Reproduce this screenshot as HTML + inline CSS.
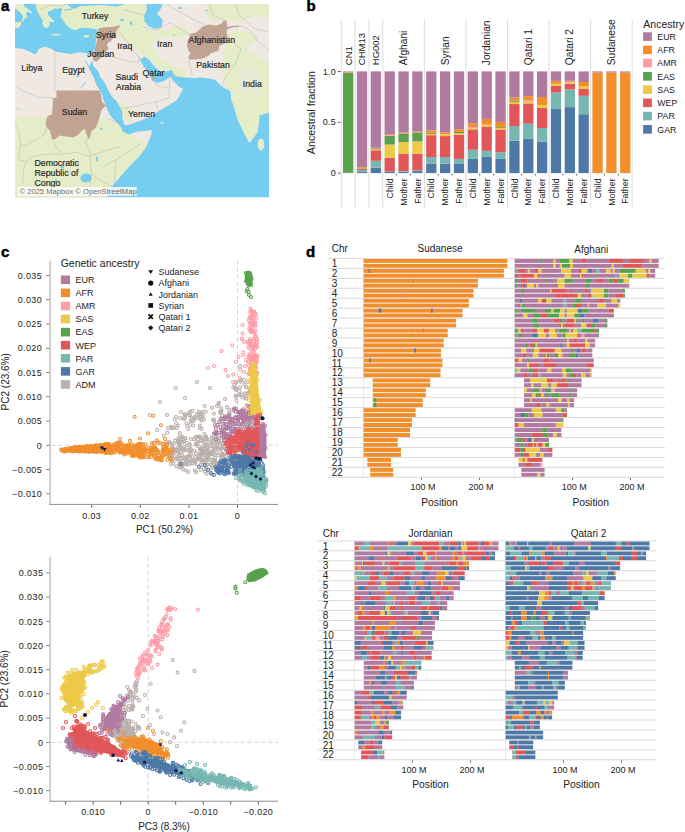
<!DOCTYPE html>
<html><head><meta charset="utf-8"><style>
html,body{margin:0;padding:0;background:#fff;}
svg{display:block;}
text{font-family:"Liberation Sans", sans-serif;}
</style></head><body>
<svg width="685" height="832" viewBox="0 0 685 832">
<rect width="685" height="832" fill="#fff"/>
<text x="1" y="11.2" font-size="15" text-anchor="start" font-weight="bold" fill="#000" stroke="#000" stroke-width="0.5">a</text>
<text x="306.5" y="10.8" font-size="15" text-anchor="start" font-weight="bold" fill="#000" stroke="#000" stroke-width="0.5">b</text>
<text x="1" y="256.5" font-size="15" text-anchor="start" font-weight="bold" fill="#000" stroke="#000" stroke-width="0.5">c</text>
<text x="306" y="256.5" font-size="15" text-anchor="start" font-weight="bold" fill="#000" stroke="#000" stroke-width="0.5">d</text>
<g id="panelb">
<rect x="340.72" y="19.5" width="1" height="188" fill="#dcdcdc"/>
<rect x="354.58" y="19.5" width="1" height="188" fill="#dcdcdc"/>
<rect x="368.43" y="19.5" width="1" height="188" fill="#dcdcdc"/>
<rect x="382.29" y="19.5" width="1" height="188" fill="#dcdcdc"/>
<rect x="423.85" y="19.5" width="1" height="188" fill="#dcdcdc"/>
<rect x="465.42" y="19.5" width="1" height="188" fill="#dcdcdc"/>
<rect x="506.98" y="19.5" width="1" height="188" fill="#dcdcdc"/>
<rect x="548.55" y="19.5" width="1" height="188" fill="#dcdcdc"/>
<rect x="590.11" y="19.5" width="1" height="188" fill="#dcdcdc"/>
<rect x="631.68" y="19.5" width="1" height="188" fill="#dcdcdc"/>
<rect x="343" y="172.79" width="10.3" height="0.33" fill="#E15759"/>
<rect x="343" y="72.62" width="10.3" height="100.19" fill="#59A14F"/>
<rect x="343" y="72.42" width="10.3" height="0.22" fill="#FF9DA7"/>
<rect x="343" y="71.91" width="10.3" height="0.53" fill="#F28E2B"/>
<rect x="343" y="71.4" width="10.3" height="0.53" fill="#B07AA1"/>
<rect x="356.86" y="172.08" width="10.3" height="1.04" fill="#4E79A7"/>
<rect x="356.86" y="170.05" width="10.3" height="2.05" fill="#76B7B2"/>
<rect x="356.86" y="169.03" width="10.3" height="1.04" fill="#E15759"/>
<rect x="356.86" y="168.42" width="10.3" height="0.63" fill="#EDC948"/>
<rect x="356.86" y="167.61" width="10.3" height="0.83" fill="#59A14F"/>
<rect x="356.86" y="167" width="10.3" height="0.63" fill="#F28E2B"/>
<rect x="356.86" y="71.4" width="10.3" height="95.62" fill="#B07AA1"/>
<rect x="370.71" y="167.81" width="10.3" height="5.31" fill="#4E79A7"/>
<rect x="370.71" y="160.79" width="10.3" height="7.04" fill="#76B7B2"/>
<rect x="370.71" y="150.32" width="10.3" height="10.5" fill="#E15759"/>
<rect x="370.71" y="149.51" width="10.3" height="0.83" fill="#EDC948"/>
<rect x="370.71" y="148.69" width="10.3" height="0.83" fill="#59A14F"/>
<rect x="370.71" y="147.88" width="10.3" height="0.83" fill="#F28E2B"/>
<rect x="370.71" y="71.4" width="10.3" height="76.5" fill="#B07AA1"/>
<rect x="384.56" y="171.57" width="10.3" height="1.55" fill="#4E79A7"/>
<rect x="384.56" y="157.84" width="10.3" height="13.75" fill="#E15759"/>
<rect x="384.56" y="144.52" width="10.3" height="13.34" fill="#EDC948"/>
<rect x="384.56" y="135.98" width="10.3" height="8.56" fill="#59A14F"/>
<rect x="384.56" y="135.27" width="10.3" height="0.73" fill="#FF9DA7"/>
<rect x="384.56" y="134.45" width="10.3" height="0.83" fill="#F28E2B"/>
<rect x="384.56" y="71.4" width="10.3" height="63.07" fill="#B07AA1"/>
<rect x="398.42" y="171.68" width="10.3" height="1.44" fill="#4E79A7"/>
<rect x="398.42" y="171.07" width="10.3" height="0.63" fill="#76B7B2"/>
<rect x="398.42" y="153.98" width="10.3" height="17.11" fill="#E15759"/>
<rect x="398.42" y="141.98" width="10.3" height="12.02" fill="#EDC948"/>
<rect x="398.42" y="133.64" width="10.3" height="8.36" fill="#59A14F"/>
<rect x="398.42" y="132.52" width="10.3" height="1.14" fill="#F28E2B"/>
<rect x="398.42" y="71.4" width="10.3" height="61.14" fill="#B07AA1"/>
<rect x="412.27" y="171.07" width="10.3" height="2.05" fill="#4E79A7"/>
<rect x="412.27" y="170.25" width="10.3" height="0.83" fill="#76B7B2"/>
<rect x="412.27" y="153.68" width="10.3" height="16.6" fill="#E15759"/>
<rect x="412.27" y="141.37" width="10.3" height="12.33" fill="#EDC948"/>
<rect x="412.27" y="132.62" width="10.3" height="8.77" fill="#59A14F"/>
<rect x="412.27" y="131.61" width="10.3" height="1.04" fill="#F28E2B"/>
<rect x="412.27" y="71.4" width="10.3" height="60.23" fill="#B07AA1"/>
<rect x="426.13" y="163.64" width="10.3" height="9.48" fill="#4E79A7"/>
<rect x="426.13" y="157.03" width="10.3" height="6.63" fill="#76B7B2"/>
<rect x="426.13" y="135.17" width="10.3" height="21.89" fill="#E15759"/>
<rect x="426.13" y="133.84" width="10.3" height="1.34" fill="#EDC948"/>
<rect x="426.13" y="132.83" width="10.3" height="1.04" fill="#59A14F"/>
<rect x="426.13" y="130.39" width="10.3" height="2.46" fill="#F28E2B"/>
<rect x="426.13" y="71.4" width="10.3" height="59.01" fill="#B07AA1"/>
<rect x="439.99" y="163.64" width="10.3" height="9.48" fill="#4E79A7"/>
<rect x="439.99" y="157.03" width="10.3" height="6.63" fill="#76B7B2"/>
<rect x="439.99" y="136.08" width="10.3" height="20.97" fill="#E15759"/>
<rect x="439.99" y="134.15" width="10.3" height="1.95" fill="#EDC948"/>
<rect x="439.99" y="132.22" width="10.3" height="1.95" fill="#F28E2B"/>
<rect x="439.99" y="71.4" width="10.3" height="60.84" fill="#B07AA1"/>
<rect x="453.84" y="163.95" width="10.3" height="9.17" fill="#4E79A7"/>
<rect x="453.84" y="158.86" width="10.3" height="5.1" fill="#76B7B2"/>
<rect x="453.84" y="134.56" width="10.3" height="24.33" fill="#E15759"/>
<rect x="453.84" y="133.23" width="10.3" height="1.34" fill="#EDC948"/>
<rect x="453.84" y="132.01" width="10.3" height="1.24" fill="#59A14F"/>
<rect x="453.84" y="129.17" width="10.3" height="2.87" fill="#F28E2B"/>
<rect x="453.84" y="71.4" width="10.3" height="57.79" fill="#B07AA1"/>
<rect x="467.69" y="158.86" width="10.3" height="14.26" fill="#4E79A7"/>
<rect x="467.69" y="149.71" width="10.3" height="9.17" fill="#76B7B2"/>
<rect x="467.69" y="129.37" width="10.3" height="20.36" fill="#E15759"/>
<rect x="467.69" y="128.15" width="10.3" height="1.24" fill="#EDC948"/>
<rect x="467.69" y="126.93" width="10.3" height="1.24" fill="#FF9DA7"/>
<rect x="467.69" y="123.17" width="10.3" height="3.78" fill="#F28E2B"/>
<rect x="467.69" y="71.4" width="10.3" height="51.79" fill="#B07AA1"/>
<rect x="481.55" y="156.93" width="10.3" height="16.19" fill="#4E79A7"/>
<rect x="481.55" y="150.83" width="10.3" height="6.12" fill="#76B7B2"/>
<rect x="481.55" y="126.52" width="10.3" height="24.33" fill="#E15759"/>
<rect x="481.55" y="124.59" width="10.3" height="1.95" fill="#EDC948"/>
<rect x="481.55" y="118.89" width="10.3" height="5.72" fill="#F28E2B"/>
<rect x="481.55" y="71.4" width="10.3" height="47.51" fill="#B07AA1"/>
<rect x="495.4" y="158.86" width="10.3" height="14.26" fill="#4E79A7"/>
<rect x="495.4" y="152.25" width="10.3" height="6.63" fill="#76B7B2"/>
<rect x="495.4" y="129.47" width="10.3" height="22.8" fill="#E15759"/>
<rect x="495.4" y="127.84" width="10.3" height="1.65" fill="#EDC948"/>
<rect x="495.4" y="127.03" width="10.3" height="0.83" fill="#59A14F"/>
<rect x="495.4" y="121.94" width="10.3" height="5.1" fill="#F28E2B"/>
<rect x="495.4" y="71.4" width="10.3" height="50.56" fill="#B07AA1"/>
<rect x="509.26" y="140.76" width="10.3" height="32.36" fill="#4E79A7"/>
<rect x="509.26" y="126.11" width="10.3" height="14.66" fill="#76B7B2"/>
<rect x="509.26" y="104.05" width="10.3" height="22.09" fill="#E15759"/>
<rect x="509.26" y="101.81" width="10.3" height="2.26" fill="#EDC948"/>
<rect x="509.26" y="100.79" width="10.3" height="1.04" fill="#59A14F"/>
<rect x="509.26" y="97.54" width="10.3" height="3.27" fill="#F28E2B"/>
<rect x="509.26" y="71.4" width="10.3" height="26.16" fill="#B07AA1"/>
<rect x="523.12" y="138.93" width="10.3" height="34.19" fill="#4E79A7"/>
<rect x="523.12" y="123.67" width="10.3" height="15.27" fill="#76B7B2"/>
<rect x="523.12" y="103.33" width="10.3" height="20.36" fill="#E15759"/>
<rect x="523.12" y="101.81" width="10.3" height="1.55" fill="#EDC948"/>
<rect x="523.12" y="100.28" width="10.3" height="1.55" fill="#FF9DA7"/>
<rect x="523.12" y="96.11" width="10.3" height="4.19" fill="#F28E2B"/>
<rect x="523.12" y="71.4" width="10.3" height="24.73" fill="#B07AA1"/>
<rect x="536.97" y="141.78" width="10.3" height="31.34" fill="#4E79A7"/>
<rect x="536.97" y="128.05" width="10.3" height="13.75" fill="#76B7B2"/>
<rect x="536.97" y="107.91" width="10.3" height="20.16" fill="#E15759"/>
<rect x="536.97" y="105.06" width="10.3" height="2.87" fill="#EDC948"/>
<rect x="536.97" y="97.03" width="10.3" height="8.05" fill="#F28E2B"/>
<rect x="536.97" y="71.4" width="10.3" height="25.65" fill="#B07AA1"/>
<rect x="550.83" y="108.42" width="10.3" height="64.7" fill="#4E79A7"/>
<rect x="550.83" y="92.25" width="10.3" height="16.19" fill="#76B7B2"/>
<rect x="550.83" y="85.64" width="10.3" height="6.63" fill="#E15759"/>
<rect x="550.83" y="83.71" width="10.3" height="1.95" fill="#EDC948"/>
<rect x="550.83" y="80.86" width="10.3" height="2.87" fill="#F28E2B"/>
<rect x="550.83" y="71.4" width="10.3" height="9.48" fill="#B07AA1"/>
<rect x="564.68" y="107.1" width="10.3" height="66.02" fill="#4E79A7"/>
<rect x="564.68" y="89.4" width="10.3" height="17.72" fill="#76B7B2"/>
<rect x="564.68" y="83.71" width="10.3" height="5.72" fill="#E15759"/>
<rect x="564.68" y="82.69" width="10.3" height="1.04" fill="#EDC948"/>
<rect x="564.68" y="81.77" width="10.3" height="0.94" fill="#FF9DA7"/>
<rect x="564.68" y="80.76" width="10.3" height="1.04" fill="#F28E2B"/>
<rect x="564.68" y="71.4" width="10.3" height="9.38" fill="#B07AA1"/>
<rect x="578.53" y="114.22" width="10.3" height="58.9" fill="#4E79A7"/>
<rect x="578.53" y="95.81" width="10.3" height="18.43" fill="#76B7B2"/>
<rect x="578.53" y="88.99" width="10.3" height="6.83" fill="#E15759"/>
<rect x="578.53" y="86.35" width="10.3" height="2.66" fill="#EDC948"/>
<rect x="578.53" y="81.98" width="10.3" height="4.39" fill="#F28E2B"/>
<rect x="578.53" y="71.4" width="10.3" height="10.6" fill="#B07AA1"/>
<rect x="592.39" y="72.42" width="10.3" height="100.7" fill="#F28E2B"/>
<rect x="592.39" y="71.4" width="10.3" height="1.04" fill="#B07AA1"/>
<rect x="606.25" y="72.42" width="10.3" height="100.7" fill="#F28E2B"/>
<rect x="606.25" y="71.4" width="10.3" height="1.04" fill="#B07AA1"/>
<rect x="620.1" y="72.42" width="10.3" height="100.7" fill="#F28E2B"/>
<rect x="620.1" y="71.4" width="10.3" height="1.04" fill="#B07AA1"/>
<rect x="396.24" y="173.6" width="0.8" height="2" fill="#555"/>
<rect x="410.1" y="173.6" width="0.8" height="2" fill="#555"/>
<rect x="437.81" y="173.6" width="0.8" height="2" fill="#555"/>
<rect x="451.66" y="173.6" width="0.8" height="2" fill="#555"/>
<rect x="479.37" y="173.6" width="0.8" height="2" fill="#555"/>
<rect x="493.23" y="173.6" width="0.8" height="2" fill="#555"/>
<rect x="520.94" y="173.6" width="0.8" height="2" fill="#555"/>
<rect x="534.79" y="173.6" width="0.8" height="2" fill="#555"/>
<rect x="562.5" y="173.6" width="0.8" height="2" fill="#555"/>
<rect x="576.36" y="173.6" width="0.8" height="2" fill="#555"/>
<rect x="604.07" y="173.6" width="0.8" height="2" fill="#555"/>
<rect x="617.92" y="173.6" width="0.8" height="2" fill="#555"/>
<rect x="337.8" y="71" width="3" height="0.8" fill="#444"/>
<text x="336.1" y="74.6" font-size="9" text-anchor="end" font-weight="normal" fill="#222" letter-spacing="0.3">1.0</text>
<rect x="337.8" y="121.85" width="3" height="0.8" fill="#444"/>
<text x="336.1" y="125.45" font-size="9" text-anchor="end" font-weight="normal" fill="#222" letter-spacing="0.3">0.5</text>
<rect x="337.8" y="172.7" width="3" height="0.8" fill="#444"/>
<text x="336.1" y="176.3" font-size="9" text-anchor="end" font-weight="normal" fill="#222" letter-spacing="0.3">0</text>
<text x="314.8" y="112.6" font-size="10.8" text-anchor="middle" font-weight="normal" fill="#222" transform="rotate(-90 314.8 112.6)">Ancestral fraction</text>
<text x="351.65" y="65.2" font-size="9.5" text-anchor="start" font-weight="normal" fill="#222" transform="rotate(-90 351.65 65.2)">CN1</text>
<text x="365.5" y="65.2" font-size="9.5" text-anchor="start" font-weight="normal" fill="#222" transform="rotate(-90 365.5 65.2)">CHM13</text>
<text x="379.36" y="65.2" font-size="9.5" text-anchor="start" font-weight="normal" fill="#222" transform="rotate(-90 379.36 65.2)">HG002</text>
<text x="407.07" y="65.2" font-size="10.2" text-anchor="start" font-weight="normal" fill="#222" transform="rotate(-90 407.07 65.2)">Afghani</text>
<text x="448.63" y="65.2" font-size="10.2" text-anchor="start" font-weight="normal" fill="#222" transform="rotate(-90 448.63 65.2)">Syrian</text>
<text x="490.2" y="65.2" font-size="10.2" text-anchor="start" font-weight="normal" fill="#222" transform="rotate(-90 490.2 65.2)">Jordanian</text>
<text x="531.76" y="65.2" font-size="10.2" text-anchor="start" font-weight="normal" fill="#222" transform="rotate(-90 531.76 65.2)">Qatari 1</text>
<text x="573.33" y="65.2" font-size="10.2" text-anchor="start" font-weight="normal" fill="#222" transform="rotate(-90 573.33 65.2)">Qatari 2</text>
<text x="614.89" y="65.2" font-size="10.2" text-anchor="start" font-weight="normal" fill="#222" transform="rotate(-90 614.89 65.2)">Sudanese</text>
<text x="392.91" y="178.4" font-size="8.8" text-anchor="end" font-weight="normal" fill="#222" transform="rotate(-90 392.91 178.4)">Child</text>
<text x="406.77" y="178.4" font-size="8.8" text-anchor="end" font-weight="normal" fill="#222" transform="rotate(-90 406.77 178.4)">Mother</text>
<text x="420.62" y="178.4" font-size="8.8" text-anchor="end" font-weight="normal" fill="#222" transform="rotate(-90 420.62 178.4)">Father</text>
<text x="434.48" y="178.4" font-size="8.8" text-anchor="end" font-weight="normal" fill="#222" transform="rotate(-90 434.48 178.4)">Child</text>
<text x="448.33" y="178.4" font-size="8.8" text-anchor="end" font-weight="normal" fill="#222" transform="rotate(-90 448.33 178.4)">Mother</text>
<text x="462.19" y="178.4" font-size="8.8" text-anchor="end" font-weight="normal" fill="#222" transform="rotate(-90 462.19 178.4)">Father</text>
<text x="476.04" y="178.4" font-size="8.8" text-anchor="end" font-weight="normal" fill="#222" transform="rotate(-90 476.04 178.4)">Child</text>
<text x="489.9" y="178.4" font-size="8.8" text-anchor="end" font-weight="normal" fill="#222" transform="rotate(-90 489.9 178.4)">Mother</text>
<text x="503.75" y="178.4" font-size="8.8" text-anchor="end" font-weight="normal" fill="#222" transform="rotate(-90 503.75 178.4)">Father</text>
<text x="517.61" y="178.4" font-size="8.8" text-anchor="end" font-weight="normal" fill="#222" transform="rotate(-90 517.61 178.4)">Child</text>
<text x="531.47" y="178.4" font-size="8.8" text-anchor="end" font-weight="normal" fill="#222" transform="rotate(-90 531.47 178.4)">Mother</text>
<text x="545.32" y="178.4" font-size="8.8" text-anchor="end" font-weight="normal" fill="#222" transform="rotate(-90 545.32 178.4)">Father</text>
<text x="559.18" y="178.4" font-size="8.8" text-anchor="end" font-weight="normal" fill="#222" transform="rotate(-90 559.18 178.4)">Child</text>
<text x="573.03" y="178.4" font-size="8.8" text-anchor="end" font-weight="normal" fill="#222" transform="rotate(-90 573.03 178.4)">Mother</text>
<text x="586.88" y="178.4" font-size="8.8" text-anchor="end" font-weight="normal" fill="#222" transform="rotate(-90 586.88 178.4)">Father</text>
<text x="600.74" y="178.4" font-size="8.8" text-anchor="end" font-weight="normal" fill="#222" transform="rotate(-90 600.74 178.4)">Child</text>
<text x="614.6" y="178.4" font-size="8.8" text-anchor="end" font-weight="normal" fill="#222" transform="rotate(-90 614.6 178.4)">Mother</text>
<text x="628.45" y="178.4" font-size="8.8" text-anchor="end" font-weight="normal" fill="#222" transform="rotate(-90 628.45 178.4)">Father</text>
<text x="643.3" y="27.6" font-size="10.5" text-anchor="start" font-weight="normal" fill="#222">Ancestry</text>
<rect x="643.1" y="32.3" width="8.8" height="8.6" fill="#B07AA1"/>
<text x="657.3" y="39.9" font-size="8.8" text-anchor="start" font-weight="normal" fill="#222">EUR</text>
<rect x="643.1" y="45.55" width="8.8" height="8.6" fill="#F28E2B"/>
<text x="657.3" y="53.15" font-size="8.8" text-anchor="start" font-weight="normal" fill="#222">AFR</text>
<rect x="643.1" y="58.8" width="8.8" height="8.6" fill="#FF9DA7"/>
<text x="657.3" y="66.4" font-size="8.8" text-anchor="start" font-weight="normal" fill="#222">AMR</text>
<rect x="643.1" y="72.05" width="8.8" height="8.6" fill="#59A14F"/>
<text x="657.3" y="79.65" font-size="8.8" text-anchor="start" font-weight="normal" fill="#222">EAS</text>
<rect x="643.1" y="85.3" width="8.8" height="8.6" fill="#EDC948"/>
<text x="657.3" y="92.9" font-size="8.8" text-anchor="start" font-weight="normal" fill="#222">SAS</text>
<rect x="643.1" y="98.55" width="8.8" height="8.6" fill="#E15759"/>
<text x="657.3" y="106.15" font-size="8.8" text-anchor="start" font-weight="normal" fill="#222">WEP</text>
<rect x="643.1" y="111.8" width="8.8" height="8.6" fill="#76B7B2"/>
<text x="657.3" y="119.4" font-size="8.8" text-anchor="start" font-weight="normal" fill="#222">PAR</text>
<rect x="643.1" y="125.05" width="8.8" height="8.6" fill="#4E79A7"/>
<text x="657.3" y="132.65" font-size="8.8" text-anchor="start" font-weight="normal" fill="#222">GAR</text>
</g>
<text x="331.8" y="252.3" font-size="10" text-anchor="start" font-weight="normal" fill="#222">Chr</text>
<text x="440" y="252.3" font-size="10" text-anchor="middle" font-weight="normal" fill="#222">Sudanese</text>
<text x="591.3" y="252.8" font-size="10" text-anchor="middle" font-weight="normal" fill="#222">Afghani</text>
<g>
<rect x="363.5" y="258.9" width="143.89" height="4" fill="#F28E2B"/>
<rect x="363.5" y="263.8" width="143.89" height="4" fill="#F28E2B"/>
<rect x="363.5" y="268.85" width="140.35" height="4" fill="#F28E2B"/>
<rect x="363.5" y="273.75" width="140.35" height="4" fill="#F28E2B"/>
<rect x="363.5" y="278.8" width="114.45" height="4" fill="#F28E2B"/>
<rect x="363.5" y="283.7" width="114.45" height="4" fill="#F28E2B"/>
<rect x="363.5" y="288.75" width="110.11" height="4" fill="#F28E2B"/>
<rect x="363.5" y="293.65" width="110.11" height="4" fill="#F28E2B"/>
<rect x="363.5" y="298.7" width="105.35" height="4" fill="#F28E2B"/>
<rect x="363.5" y="303.6" width="105.35" height="4" fill="#F28E2B"/>
<rect x="363.5" y="308.65" width="98.98" height="4" fill="#F28E2B"/>
<rect x="363.5" y="313.55" width="98.98" height="4" fill="#F28E2B"/>
<rect x="363.5" y="318.6" width="92.55" height="4" fill="#F28E2B"/>
<rect x="363.5" y="323.5" width="92.55" height="4" fill="#F28E2B"/>
<rect x="363.5" y="328.55" width="84.26" height="4" fill="#F28E2B"/>
<rect x="363.5" y="333.45" width="84.26" height="4" fill="#F28E2B"/>
<rect x="363.5" y="338.5" width="80.26" height="4" fill="#F28E2B"/>
<rect x="363.5" y="343.4" width="80.26" height="4" fill="#F28E2B"/>
<rect x="363.5" y="348.45" width="77.48" height="4" fill="#F28E2B"/>
<rect x="363.5" y="353.35" width="77.48" height="4" fill="#F28E2B"/>
<rect x="363.5" y="358.4" width="78.87" height="4" fill="#F28E2B"/>
<rect x="363.5" y="363.3" width="78.87" height="4" fill="#F28E2B"/>
<rect x="363.5" y="368.35" width="77.07" height="4" fill="#F28E2B"/>
<rect x="363.5" y="373.25" width="77.07" height="4" fill="#F28E2B"/>
<rect x="372.77" y="378.3" width="57.43" height="4" fill="#F28E2B"/>
<rect x="372.77" y="383.2" width="57.43" height="4" fill="#F28E2B"/>
<rect x="372.77" y="388.25" width="53.02" height="4" fill="#F28E2B"/>
<rect x="372.77" y="393.15" width="53.02" height="4" fill="#F28E2B"/>
<rect x="372.77" y="398.2" width="49.95" height="4" fill="#F28E2B"/>
<rect x="372.77" y="403.1" width="49.95" height="4" fill="#F28E2B"/>
<rect x="363.5" y="408.15" width="52.1" height="4" fill="#F28E2B"/>
<rect x="363.5" y="413.05" width="52.1" height="4" fill="#F28E2B"/>
<rect x="363.5" y="418.1" width="48.5" height="4" fill="#F28E2B"/>
<rect x="363.5" y="423" width="48.5" height="4" fill="#F28E2B"/>
<rect x="363.5" y="428.05" width="46.48" height="4" fill="#F28E2B"/>
<rect x="363.5" y="432.95" width="46.48" height="4" fill="#F28E2B"/>
<rect x="363.5" y="438" width="34.19" height="4" fill="#F28E2B"/>
<rect x="363.5" y="442.9" width="34.19" height="4" fill="#F28E2B"/>
<rect x="363.5" y="447.95" width="37.49" height="4" fill="#F28E2B"/>
<rect x="363.5" y="452.85" width="37.49" height="4" fill="#F28E2B"/>
<rect x="367.27" y="457.9" width="23.76" height="4" fill="#F28E2B"/>
<rect x="367.27" y="462.8" width="23.76" height="4" fill="#F28E2B"/>
<rect x="370.16" y="467.85" width="23.06" height="4" fill="#F28E2B"/>
<rect x="370.16" y="472.75" width="23.06" height="4" fill="#F28E2B"/>
<rect x="327" y="257.95" width="187" height="0.9" fill="#d6d6d6"/>
<rect x="327" y="267.9" width="187" height="0.9" fill="#d6d6d6"/>
<rect x="327" y="277.85" width="187" height="0.9" fill="#d6d6d6"/>
<rect x="327" y="287.8" width="187" height="0.9" fill="#d6d6d6"/>
<rect x="327" y="297.75" width="187" height="0.9" fill="#d6d6d6"/>
<rect x="327" y="307.7" width="187" height="0.9" fill="#d6d6d6"/>
<rect x="327" y="317.65" width="187" height="0.9" fill="#d6d6d6"/>
<rect x="327" y="327.6" width="187" height="0.9" fill="#d6d6d6"/>
<rect x="327" y="337.55" width="187" height="0.9" fill="#d6d6d6"/>
<rect x="327" y="347.5" width="187" height="0.9" fill="#d6d6d6"/>
<rect x="327" y="357.45" width="187" height="0.9" fill="#d6d6d6"/>
<rect x="327" y="367.4" width="187" height="0.9" fill="#d6d6d6"/>
<rect x="327" y="377.35" width="187" height="0.9" fill="#d6d6d6"/>
<rect x="327" y="387.3" width="187" height="0.9" fill="#d6d6d6"/>
<rect x="327" y="397.25" width="187" height="0.9" fill="#d6d6d6"/>
<rect x="327" y="407.2" width="187" height="0.9" fill="#d6d6d6"/>
<rect x="327" y="417.15" width="187" height="0.9" fill="#d6d6d6"/>
<rect x="327" y="427.1" width="187" height="0.9" fill="#d6d6d6"/>
<rect x="327" y="437.05" width="187" height="0.9" fill="#d6d6d6"/>
<rect x="327" y="447" width="187" height="0.9" fill="#d6d6d6"/>
<rect x="327" y="456.95" width="187" height="0.9" fill="#d6d6d6"/>
<rect x="327" y="466.9" width="187" height="0.9" fill="#d6d6d6"/>
<rect x="327" y="476.85" width="187" height="0.9" fill="#d6d6d6"/>
<line x1="363.5" y1="258.4" x2="363.5" y2="477.3" stroke="#bbb" stroke-width="0.6" stroke-dasharray="1,1"/>
</g>
<rect x="368.65" y="268.85" width="1.3" height="4" fill="#4E79A7" opacity="1"/>
<rect x="412.8" y="278.8" width="1.2" height="4" fill="#E15759" opacity="0.55"/>
<rect x="402.1" y="293.65" width="1" height="4" fill="#B07AA1" opacity="0.55"/>
<rect x="378.6" y="308.65" width="2.6" height="4" fill="#4E79A7" opacity="1"/>
<rect x="430.9" y="308.65" width="1.8" height="4" fill="#4E79A7" opacity="1"/>
<rect x="423.1" y="328.55" width="1" height="4" fill="#E15759" opacity="0.55"/>
<rect x="412.6" y="333.45" width="1" height="4" fill="#59A14F" opacity="0.55"/>
<rect x="414.1" y="348.45" width="1.6" height="4" fill="#4E79A7" opacity="1"/>
<rect x="369.1" y="358.4" width="1.6" height="4" fill="#4E79A7" opacity="1"/>
<rect x="373.4" y="398.2" width="3" height="4" fill="#59A14F" opacity="1"/>
<rect x="373.4" y="403.1" width="3" height="4" fill="#59A14F" opacity="1"/>
<g>
<rect x="514.7" y="258.9" width="24.82" height="4" fill="#B07AA1"/>
<rect x="539.37" y="258.9" width="2.34" height="4" fill="#59A14F"/>
<rect x="541.56" y="258.9" width="1.24" height="4" fill="#4E79A7"/>
<rect x="542.65" y="258.9" width="11.1" height="4" fill="#B07AA1"/>
<rect x="553.6" y="258.9" width="2.34" height="4" fill="#EDC948"/>
<rect x="555.79" y="258.9" width="4.09" height="4" fill="#B07AA1"/>
<rect x="559.73" y="258.9" width="9.78" height="4" fill="#59A14F"/>
<rect x="569.37" y="258.9" width="3.65" height="4" fill="#EDC948"/>
<rect x="572.87" y="258.9" width="8.91" height="4" fill="#B07AA1"/>
<rect x="581.63" y="258.9" width="4.97" height="4" fill="#E15759"/>
<rect x="586.45" y="258.9" width="22.48" height="4" fill="#B07AA1"/>
<rect x="608.78" y="258.9" width="15.04" height="4" fill="#E15759"/>
<rect x="623.67" y="258.9" width="5.62" height="4" fill="#B07AA1"/>
<rect x="629.14" y="258.9" width="14.82" height="4" fill="#E15759"/>
<rect x="643.82" y="258.9" width="5.84" height="4" fill="#B07AA1"/>
<rect x="649.51" y="258.9" width="2.34" height="4" fill="#EDC948"/>
<rect x="651.7" y="258.9" width="7.04" height="4" fill="#B07AA1"/>
<rect x="514.7" y="263.8" width="38.61" height="4" fill="#B07AA1"/>
<rect x="553.16" y="263.8" width="2.78" height="4" fill="#EDC948"/>
<rect x="555.79" y="263.8" width="4.09" height="4" fill="#B07AA1"/>
<rect x="559.73" y="263.8" width="2.34" height="4" fill="#EDC948"/>
<rect x="561.92" y="263.8" width="8.25" height="4" fill="#59A14F"/>
<rect x="570.02" y="263.8" width="3" height="4" fill="#EDC948"/>
<rect x="572.87" y="263.8" width="38.91" height="4" fill="#B07AA1"/>
<rect x="611.63" y="263.8" width="2.34" height="4" fill="#EDC948"/>
<rect x="613.82" y="263.8" width="8.91" height="4" fill="#B07AA1"/>
<rect x="622.58" y="263.8" width="19.86" height="4" fill="#E15759"/>
<rect x="642.28" y="263.8" width="16.46" height="4" fill="#B07AA1"/>
<rect x="514.7" y="268.85" width="2.92" height="4" fill="#B07AA1"/>
<rect x="517.47" y="268.85" width="1.24" height="4" fill="#59A14F"/>
<rect x="518.57" y="268.85" width="6.72" height="4" fill="#E15759"/>
<rect x="525.14" y="268.85" width="2.78" height="4" fill="#B07AA1"/>
<rect x="527.77" y="268.85" width="2.34" height="4" fill="#EDC948"/>
<rect x="529.95" y="268.85" width="5.19" height="4" fill="#B07AA1"/>
<rect x="534.99" y="268.85" width="3.43" height="4" fill="#E15759"/>
<rect x="538.28" y="268.85" width="3.43" height="4" fill="#EDC948"/>
<rect x="541.56" y="268.85" width="19.86" height="4" fill="#B07AA1"/>
<rect x="561.27" y="268.85" width="10" height="4" fill="#EDC948"/>
<rect x="571.12" y="268.85" width="7.81" height="4" fill="#B07AA1"/>
<rect x="578.78" y="268.85" width="3" height="4" fill="#E15759"/>
<rect x="581.63" y="268.85" width="5.41" height="4" fill="#EDC948"/>
<rect x="586.89" y="268.85" width="1.9" height="4" fill="#B07AA1"/>
<rect x="588.64" y="268.85" width="3.43" height="4" fill="#4E79A7"/>
<rect x="591.92" y="268.85" width="4.53" height="4" fill="#B07AA1"/>
<rect x="596.3" y="268.85" width="3.43" height="4" fill="#76B7B2"/>
<rect x="599.58" y="268.85" width="6.72" height="4" fill="#B07AA1"/>
<rect x="606.15" y="268.85" width="4.53" height="4" fill="#EDC948"/>
<rect x="610.53" y="268.85" width="2.34" height="4" fill="#B07AA1"/>
<rect x="612.72" y="268.85" width="2.34" height="4" fill="#EDC948"/>
<rect x="614.91" y="268.85" width="4.97" height="4" fill="#B07AA1"/>
<rect x="619.73" y="268.85" width="16.13" height="4" fill="#59A14F"/>
<rect x="635.71" y="268.85" width="10.44" height="4" fill="#EDC948"/>
<rect x="646" y="268.85" width="2.34" height="4" fill="#B07AA1"/>
<rect x="648.19" y="268.85" width="2.34" height="4" fill="#EDC948"/>
<rect x="650.38" y="268.85" width="4.82" height="4" fill="#B07AA1"/>
<rect x="514.7" y="273.75" width="4.02" height="4" fill="#E15759"/>
<rect x="518.57" y="273.75" width="2.34" height="4" fill="#B07AA1"/>
<rect x="520.76" y="273.75" width="13.29" height="4" fill="#E15759"/>
<rect x="533.9" y="273.75" width="3.43" height="4" fill="#EDC948"/>
<rect x="537.18" y="273.75" width="1.24" height="4" fill="#B07AA1"/>
<rect x="538.28" y="273.75" width="2.34" height="4" fill="#E15759"/>
<rect x="540.47" y="273.75" width="24.24" height="4" fill="#B07AA1"/>
<rect x="564.55" y="273.75" width="6.72" height="4" fill="#EDC948"/>
<rect x="571.12" y="273.75" width="8.91" height="4" fill="#B07AA1"/>
<rect x="579.88" y="273.75" width="1.9" height="4" fill="#EDC948"/>
<rect x="581.63" y="273.75" width="1.68" height="4" fill="#E15759"/>
<rect x="583.16" y="273.75" width="12.19" height="4" fill="#B07AA1"/>
<rect x="595.21" y="273.75" width="2.34" height="4" fill="#59A14F"/>
<rect x="597.4" y="273.75" width="17.67" height="4" fill="#B07AA1"/>
<rect x="614.91" y="273.75" width="2.34" height="4" fill="#76B7B2"/>
<rect x="617.1" y="273.75" width="2.34" height="4" fill="#B07AA1"/>
<rect x="619.29" y="273.75" width="8.91" height="4" fill="#EDC948"/>
<rect x="628.05" y="273.75" width="4.53" height="4" fill="#59A14F"/>
<rect x="632.43" y="273.75" width="14.38" height="4" fill="#EDC948"/>
<rect x="646.66" y="273.75" width="3" height="4" fill="#E15759"/>
<rect x="649.51" y="273.75" width="5.7" height="4" fill="#B07AA1"/>
<rect x="514.7" y="278.8" width="2.27" height="4" fill="#59A14F"/>
<rect x="516.82" y="278.8" width="4.09" height="4" fill="#B07AA1"/>
<rect x="520.76" y="278.8" width="6.72" height="4" fill="#E15759"/>
<rect x="527.33" y="278.8" width="18.76" height="4" fill="#B07AA1"/>
<rect x="545.94" y="278.8" width="1.24" height="4" fill="#59A14F"/>
<rect x="547.03" y="278.8" width="10" height="4" fill="#B07AA1"/>
<rect x="556.89" y="278.8" width="7.81" height="4" fill="#EDC948"/>
<rect x="564.55" y="278.8" width="8.91" height="4" fill="#59A14F"/>
<rect x="573.31" y="278.8" width="12.19" height="4" fill="#B07AA1"/>
<rect x="585.35" y="278.8" width="5.62" height="4" fill="#59A14F"/>
<rect x="590.83" y="278.8" width="6.28" height="4" fill="#B07AA1"/>
<rect x="596.96" y="278.8" width="6.06" height="4" fill="#E15759"/>
<rect x="602.87" y="278.8" width="5.62" height="4" fill="#B07AA1"/>
<rect x="608.34" y="278.8" width="4.53" height="4" fill="#59A14F"/>
<rect x="612.72" y="278.8" width="4.53" height="4" fill="#E15759"/>
<rect x="617.1" y="278.8" width="6.72" height="4" fill="#59A14F"/>
<rect x="623.67" y="278.8" width="5.63" height="4" fill="#EDC948"/>
<rect x="514.7" y="283.7" width="2.92" height="4" fill="#59A14F"/>
<rect x="517.47" y="283.7" width="3.43" height="4" fill="#B07AA1"/>
<rect x="520.76" y="283.7" width="3.43" height="4" fill="#E15759"/>
<rect x="524.04" y="283.7" width="1.68" height="4" fill="#4E79A7"/>
<rect x="525.58" y="283.7" width="1.9" height="4" fill="#E15759"/>
<rect x="527.33" y="283.7" width="6.72" height="4" fill="#EDC948"/>
<rect x="533.9" y="283.7" width="2.34" height="4" fill="#B07AA1"/>
<rect x="536.09" y="283.7" width="2.34" height="4" fill="#EDC948"/>
<rect x="538.28" y="283.7" width="19.86" height="4" fill="#B07AA1"/>
<rect x="557.98" y="283.7" width="6.72" height="4" fill="#EDC948"/>
<rect x="564.55" y="283.7" width="20.95" height="4" fill="#B07AA1"/>
<rect x="585.35" y="283.7" width="3.87" height="4" fill="#59A14F"/>
<rect x="589.07" y="283.7" width="40.23" height="4" fill="#B07AA1"/>
<rect x="514.7" y="288.75" width="6.21" height="4" fill="#B07AA1"/>
<rect x="520.76" y="288.75" width="3.43" height="4" fill="#59A14F"/>
<rect x="524.04" y="288.75" width="26.43" height="4" fill="#B07AA1"/>
<rect x="550.32" y="288.75" width="1.24" height="4" fill="#EDC948"/>
<rect x="551.41" y="288.75" width="15.48" height="4" fill="#E15759"/>
<rect x="566.74" y="288.75" width="2.78" height="4" fill="#B07AA1"/>
<rect x="569.37" y="288.75" width="3" height="4" fill="#E15759"/>
<rect x="572.21" y="288.75" width="12.19" height="4" fill="#B07AA1"/>
<rect x="584.26" y="288.75" width="2.78" height="4" fill="#E15759"/>
<rect x="586.89" y="288.75" width="4.53" height="4" fill="#B07AA1"/>
<rect x="591.26" y="288.75" width="12.85" height="4" fill="#EDC948"/>
<rect x="603.96" y="288.75" width="4.53" height="4" fill="#59A14F"/>
<rect x="608.34" y="288.75" width="14.38" height="4" fill="#B07AA1"/>
<rect x="622.58" y="288.75" width="2.38" height="4" fill="#59A14F"/>
<rect x="514.7" y="293.65" width="40.15" height="4" fill="#B07AA1"/>
<rect x="554.7" y="293.65" width="23.14" height="4" fill="#E15759"/>
<rect x="577.69" y="293.65" width="3.43" height="4" fill="#EDC948"/>
<rect x="580.97" y="293.65" width="6.72" height="4" fill="#B07AA1"/>
<rect x="587.54" y="293.65" width="3.43" height="4" fill="#E15759"/>
<rect x="590.83" y="293.65" width="1.9" height="4" fill="#76B7B2"/>
<rect x="592.58" y="293.65" width="11.54" height="4" fill="#EDC948"/>
<rect x="603.96" y="293.65" width="4.53" height="4" fill="#59A14F"/>
<rect x="608.34" y="293.65" width="7.81" height="4" fill="#B07AA1"/>
<rect x="616.01" y="293.65" width="7.38" height="4" fill="#E15759"/>
<rect x="623.23" y="293.65" width="1.72" height="4" fill="#59A14F"/>
<rect x="514.7" y="298.7" width="5.11" height="4" fill="#B07AA1"/>
<rect x="519.66" y="298.7" width="2.34" height="4" fill="#4E79A7"/>
<rect x="521.85" y="298.7" width="16.57" height="4" fill="#B07AA1"/>
<rect x="538.28" y="298.7" width="3.43" height="4" fill="#EDC948"/>
<rect x="541.56" y="298.7" width="3.43" height="4" fill="#E15759"/>
<rect x="544.84" y="298.7" width="1.24" height="4" fill="#4E79A7"/>
<rect x="545.94" y="298.7" width="5.62" height="4" fill="#EDC948"/>
<rect x="551.41" y="298.7" width="12.19" height="4" fill="#B07AA1"/>
<rect x="563.46" y="298.7" width="3" height="4" fill="#76B7B2"/>
<rect x="566.3" y="298.7" width="8.25" height="4" fill="#B07AA1"/>
<rect x="574.4" y="298.7" width="6.72" height="4" fill="#59A14F"/>
<rect x="580.97" y="298.7" width="17.67" height="4" fill="#B07AA1"/>
<rect x="598.49" y="298.7" width="4.53" height="4" fill="#E15759"/>
<rect x="602.87" y="298.7" width="8.91" height="4" fill="#B07AA1"/>
<rect x="611.63" y="298.7" width="5.62" height="4" fill="#EDC948"/>
<rect x="617.1" y="298.7" width="3.1" height="4" fill="#B07AA1"/>
<rect x="514.7" y="303.6" width="6.21" height="4" fill="#B07AA1"/>
<rect x="520.76" y="303.6" width="1.24" height="4" fill="#EDC948"/>
<rect x="521.85" y="303.6" width="3" height="4" fill="#59A14F"/>
<rect x="524.7" y="303.6" width="38.91" height="4" fill="#B07AA1"/>
<rect x="563.46" y="303.6" width="3" height="4" fill="#76B7B2"/>
<rect x="566.3" y="303.6" width="6.06" height="4" fill="#B07AA1"/>
<rect x="572.21" y="303.6" width="3.87" height="4" fill="#59A14F"/>
<rect x="575.94" y="303.6" width="5.19" height="4" fill="#E15759"/>
<rect x="580.97" y="303.6" width="6.72" height="4" fill="#B07AA1"/>
<rect x="587.54" y="303.6" width="1.68" height="4" fill="#FF9DA7"/>
<rect x="589.07" y="303.6" width="8.47" height="4" fill="#B07AA1"/>
<rect x="597.4" y="303.6" width="8.91" height="4" fill="#EDC948"/>
<rect x="606.15" y="303.6" width="12.19" height="4" fill="#B07AA1"/>
<rect x="618.2" y="303.6" width="2.01" height="4" fill="#EDC948"/>
<rect x="514.7" y="308.65" width="2.92" height="4" fill="#59A14F"/>
<rect x="517.47" y="308.65" width="3.43" height="4" fill="#B07AA1"/>
<rect x="520.76" y="308.65" width="14.38" height="4" fill="#59A14F"/>
<rect x="534.99" y="308.65" width="10" height="4" fill="#B07AA1"/>
<rect x="544.84" y="308.65" width="6.72" height="4" fill="#59A14F"/>
<rect x="551.41" y="308.65" width="2.34" height="4" fill="#EDC948"/>
<rect x="553.6" y="308.65" width="6.72" height="4" fill="#59A14F"/>
<rect x="560.17" y="308.65" width="4.53" height="4" fill="#EDC948"/>
<rect x="564.55" y="308.65" width="2.34" height="4" fill="#B07AA1"/>
<rect x="566.74" y="308.65" width="11.1" height="4" fill="#EDC948"/>
<rect x="577.69" y="308.65" width="4.53" height="4" fill="#4E79A7"/>
<rect x="582.07" y="308.65" width="6.72" height="4" fill="#59A14F"/>
<rect x="588.64" y="308.65" width="19.86" height="4" fill="#B07AA1"/>
<rect x="608.34" y="308.65" width="5.49" height="4" fill="#E15759"/>
<rect x="514.7" y="313.55" width="1.83" height="4" fill="#59A14F"/>
<rect x="516.38" y="313.55" width="6.72" height="4" fill="#B07AA1"/>
<rect x="522.95" y="313.55" width="4.53" height="4" fill="#EDC948"/>
<rect x="527.33" y="313.55" width="6.72" height="4" fill="#B07AA1"/>
<rect x="533.9" y="313.55" width="6.72" height="4" fill="#59A14F"/>
<rect x="540.47" y="313.55" width="7.81" height="4" fill="#E15759"/>
<rect x="548.13" y="313.55" width="11.1" height="4" fill="#59A14F"/>
<rect x="559.08" y="313.55" width="5.62" height="4" fill="#EDC948"/>
<rect x="564.55" y="313.55" width="2.34" height="4" fill="#B07AA1"/>
<rect x="566.74" y="313.55" width="7.81" height="4" fill="#EDC948"/>
<rect x="574.4" y="313.55" width="5.62" height="4" fill="#59A14F"/>
<rect x="579.88" y="313.55" width="4.53" height="4" fill="#4E79A7"/>
<rect x="584.26" y="313.55" width="29.57" height="4" fill="#B07AA1"/>
<rect x="514.7" y="318.6" width="16.72" height="4" fill="#B07AA1"/>
<rect x="531.27" y="318.6" width="6.06" height="4" fill="#59A14F"/>
<rect x="537.18" y="318.6" width="16.57" height="4" fill="#B07AA1"/>
<rect x="553.6" y="318.6" width="5.62" height="4" fill="#E15759"/>
<rect x="559.08" y="318.6" width="3.43" height="4" fill="#59A14F"/>
<rect x="562.36" y="318.6" width="4.53" height="4" fill="#B07AA1"/>
<rect x="566.74" y="318.6" width="7.81" height="4" fill="#E15759"/>
<rect x="574.4" y="318.6" width="1.68" height="4" fill="#EDC948"/>
<rect x="575.94" y="318.6" width="1.46" height="4" fill="#59A14F"/>
<rect x="577.25" y="318.6" width="4.53" height="4" fill="#B07AA1"/>
<rect x="581.63" y="318.6" width="2.78" height="4" fill="#59A14F"/>
<rect x="584.26" y="318.6" width="8.47" height="4" fill="#B07AA1"/>
<rect x="592.58" y="318.6" width="6.06" height="4" fill="#4E79A7"/>
<rect x="598.49" y="318.6" width="6.72" height="4" fill="#B07AA1"/>
<rect x="605.06" y="318.6" width="2.34" height="4" fill="#59A14F"/>
<rect x="514.7" y="323.5" width="19.35" height="4" fill="#B07AA1"/>
<rect x="533.9" y="323.5" width="5.62" height="4" fill="#59A14F"/>
<rect x="539.37" y="323.5" width="19.86" height="4" fill="#B07AA1"/>
<rect x="559.08" y="323.5" width="2.34" height="4" fill="#E15759"/>
<rect x="561.27" y="323.5" width="1.68" height="4" fill="#EDC948"/>
<rect x="562.8" y="323.5" width="1.9" height="4" fill="#59A14F"/>
<rect x="564.55" y="323.5" width="10" height="4" fill="#E15759"/>
<rect x="574.4" y="323.5" width="6.72" height="4" fill="#B07AA1"/>
<rect x="580.97" y="323.5" width="5.62" height="4" fill="#EDC948"/>
<rect x="586.45" y="323.5" width="4.53" height="4" fill="#E15759"/>
<rect x="590.83" y="323.5" width="4.53" height="4" fill="#59A14F"/>
<rect x="595.21" y="323.5" width="10" height="4" fill="#B07AA1"/>
<rect x="605.06" y="323.5" width="2.34" height="4" fill="#59A14F"/>
<rect x="514.7" y="328.55" width="2.27" height="4" fill="#59A14F"/>
<rect x="516.82" y="328.55" width="1.9" height="4" fill="#B07AA1"/>
<rect x="518.57" y="328.55" width="2.34" height="4" fill="#EDC948"/>
<rect x="520.76" y="328.55" width="2.34" height="4" fill="#E15759"/>
<rect x="522.95" y="328.55" width="9.35" height="4" fill="#B07AA1"/>
<rect x="532.14" y="328.55" width="5.19" height="4" fill="#E15759"/>
<rect x="537.18" y="328.55" width="6.72" height="4" fill="#EDC948"/>
<rect x="543.75" y="328.55" width="5.19" height="4" fill="#E15759"/>
<rect x="548.79" y="328.55" width="6.72" height="4" fill="#EDC948"/>
<rect x="555.35" y="328.55" width="1.68" height="4" fill="#E15759"/>
<rect x="556.89" y="328.55" width="2.34" height="4" fill="#76B7B2"/>
<rect x="559.08" y="328.55" width="7.81" height="4" fill="#59A14F"/>
<rect x="566.74" y="328.55" width="2.78" height="4" fill="#B07AA1"/>
<rect x="569.37" y="328.55" width="1.46" height="4" fill="#EDC948"/>
<rect x="570.68" y="328.55" width="2.34" height="4" fill="#B07AA1"/>
<rect x="572.87" y="328.55" width="4.53" height="4" fill="#EDC948"/>
<rect x="577.25" y="328.55" width="4.53" height="4" fill="#76B7B2"/>
<rect x="581.63" y="328.55" width="11.54" height="4" fill="#59A14F"/>
<rect x="593.02" y="328.55" width="2.34" height="4" fill="#E15759"/>
<rect x="595.21" y="328.55" width="3.9" height="4" fill="#59A14F"/>
<rect x="514.7" y="333.45" width="1.83" height="4" fill="#59A14F"/>
<rect x="516.38" y="333.45" width="2.34" height="4" fill="#B07AA1"/>
<rect x="518.57" y="333.45" width="3.43" height="4" fill="#59A14F"/>
<rect x="521.85" y="333.45" width="10.44" height="4" fill="#B07AA1"/>
<rect x="532.14" y="333.45" width="5.84" height="4" fill="#4E79A7"/>
<rect x="537.84" y="333.45" width="8.25" height="4" fill="#EDC948"/>
<rect x="545.94" y="333.45" width="3.43" height="4" fill="#B07AA1"/>
<rect x="549.22" y="333.45" width="7.81" height="4" fill="#EDC948"/>
<rect x="556.89" y="333.45" width="5.62" height="4" fill="#B07AA1"/>
<rect x="562.36" y="333.45" width="3.43" height="4" fill="#59A14F"/>
<rect x="565.65" y="333.45" width="11.75" height="4" fill="#EDC948"/>
<rect x="577.25" y="333.45" width="2.34" height="4" fill="#E15759"/>
<rect x="579.44" y="333.45" width="2.34" height="4" fill="#B07AA1"/>
<rect x="581.63" y="333.45" width="2.78" height="4" fill="#FF9DA7"/>
<rect x="584.26" y="333.45" width="14.85" height="4" fill="#B07AA1"/>
<rect x="514.7" y="338.5" width="52.63" height="4" fill="#B07AA1"/>
<rect x="567.18" y="338.5" width="1.9" height="4" fill="#EDC948"/>
<rect x="568.93" y="338.5" width="4.97" height="4" fill="#B07AA1"/>
<rect x="573.75" y="338.5" width="3.65" height="4" fill="#E15759"/>
<rect x="577.25" y="338.5" width="8.25" height="4" fill="#B07AA1"/>
<rect x="585.35" y="338.5" width="2.34" height="4" fill="#EDC948"/>
<rect x="587.54" y="338.5" width="7.57" height="4" fill="#B07AA1"/>
<rect x="514.7" y="343.4" width="10.15" height="4" fill="#B07AA1"/>
<rect x="524.7" y="343.4" width="3.22" height="4" fill="#59A14F"/>
<rect x="527.77" y="343.4" width="1.9" height="4" fill="#B07AA1"/>
<rect x="529.52" y="343.4" width="4.53" height="4" fill="#E15759"/>
<rect x="533.9" y="343.4" width="1.9" height="4" fill="#59A14F"/>
<rect x="535.65" y="343.4" width="1.68" height="4" fill="#EDC948"/>
<rect x="537.18" y="343.4" width="23.14" height="4" fill="#B07AA1"/>
<rect x="560.17" y="343.4" width="2.34" height="4" fill="#4E79A7"/>
<rect x="562.36" y="343.4" width="4.53" height="4" fill="#B07AA1"/>
<rect x="566.74" y="343.4" width="2.78" height="4" fill="#EDC948"/>
<rect x="569.37" y="343.4" width="16.13" height="4" fill="#E15759"/>
<rect x="585.35" y="343.4" width="4.53" height="4" fill="#EDC948"/>
<rect x="589.73" y="343.4" width="5.38" height="4" fill="#B07AA1"/>
<rect x="514.7" y="348.45" width="6.65" height="4" fill="#B07AA1"/>
<rect x="521.2" y="348.45" width="5.19" height="4" fill="#EDC948"/>
<rect x="526.23" y="348.45" width="6.72" height="4" fill="#B07AA1"/>
<rect x="532.8" y="348.45" width="1.24" height="4" fill="#59A14F"/>
<rect x="533.9" y="348.45" width="5.62" height="4" fill="#EDC948"/>
<rect x="539.37" y="348.45" width="15.48" height="4" fill="#E15759"/>
<rect x="554.7" y="348.45" width="6.72" height="4" fill="#EDC948"/>
<rect x="561.27" y="348.45" width="10" height="4" fill="#B07AA1"/>
<rect x="571.12" y="348.45" width="2.78" height="4" fill="#59A14F"/>
<rect x="573.75" y="348.45" width="3" height="4" fill="#B07AA1"/>
<rect x="576.59" y="348.45" width="3.43" height="4" fill="#4E79A7"/>
<rect x="579.88" y="348.45" width="1.9" height="4" fill="#B07AA1"/>
<rect x="581.63" y="348.45" width="4.97" height="4" fill="#E15759"/>
<rect x="586.45" y="348.45" width="5.88" height="4" fill="#B07AA1"/>
<rect x="514.7" y="353.35" width="7.96" height="4" fill="#B07AA1"/>
<rect x="522.51" y="353.35" width="3.87" height="4" fill="#E15759"/>
<rect x="526.23" y="353.35" width="6.72" height="4" fill="#B07AA1"/>
<rect x="532.8" y="353.35" width="5.62" height="4" fill="#EDC948"/>
<rect x="538.28" y="353.35" width="7.81" height="4" fill="#B07AA1"/>
<rect x="545.94" y="353.35" width="1.24" height="4" fill="#EDC948"/>
<rect x="547.03" y="353.35" width="2.34" height="4" fill="#59A14F"/>
<rect x="549.22" y="353.35" width="5.62" height="4" fill="#B07AA1"/>
<rect x="554.7" y="353.35" width="3.43" height="4" fill="#59A14F"/>
<rect x="557.98" y="353.35" width="4.53" height="4" fill="#EDC948"/>
<rect x="562.36" y="353.35" width="6.72" height="4" fill="#B07AA1"/>
<rect x="568.93" y="353.35" width="6.72" height="4" fill="#59A14F"/>
<rect x="575.5" y="353.35" width="2.34" height="4" fill="#4E79A7"/>
<rect x="577.69" y="353.35" width="14.64" height="4" fill="#B07AA1"/>
<rect x="514.7" y="358.4" width="4.02" height="4" fill="#E15759"/>
<rect x="518.57" y="358.4" width="3.43" height="4" fill="#EDC948"/>
<rect x="521.85" y="358.4" width="5.62" height="4" fill="#B07AA1"/>
<rect x="527.33" y="358.4" width="1.9" height="4" fill="#59A14F"/>
<rect x="529.08" y="358.4" width="14.82" height="4" fill="#B07AA1"/>
<rect x="543.75" y="358.4" width="6.06" height="4" fill="#E15759"/>
<rect x="549.66" y="358.4" width="44.06" height="4" fill="#B07AA1"/>
<rect x="514.7" y="363.3" width="12.34" height="4" fill="#B07AA1"/>
<rect x="526.89" y="363.3" width="2.34" height="4" fill="#EDC948"/>
<rect x="529.08" y="363.3" width="8.91" height="4" fill="#E15759"/>
<rect x="537.84" y="363.3" width="6.06" height="4" fill="#B07AA1"/>
<rect x="543.75" y="363.3" width="12.19" height="4" fill="#E15759"/>
<rect x="555.79" y="363.3" width="30.8" height="4" fill="#B07AA1"/>
<rect x="586.45" y="363.3" width="7.27" height="4" fill="#E15759"/>
<rect x="514.7" y="368.35" width="2.27" height="4" fill="#76B7B2"/>
<rect x="516.82" y="368.35" width="3.65" height="4" fill="#EDC948"/>
<rect x="520.32" y="368.35" width="8.25" height="4" fill="#B07AA1"/>
<rect x="528.42" y="368.35" width="4.53" height="4" fill="#59A14F"/>
<rect x="532.8" y="368.35" width="5.62" height="4" fill="#E15759"/>
<rect x="538.28" y="368.35" width="8.91" height="4" fill="#B07AA1"/>
<rect x="547.03" y="368.35" width="4.53" height="4" fill="#EDC948"/>
<rect x="551.41" y="368.35" width="10.66" height="4" fill="#B07AA1"/>
<rect x="561.92" y="368.35" width="3.87" height="4" fill="#EDC948"/>
<rect x="565.65" y="368.35" width="5.62" height="4" fill="#59A14F"/>
<rect x="571.12" y="368.35" width="19.42" height="4" fill="#B07AA1"/>
<rect x="590.39" y="368.35" width="1.54" height="4" fill="#EDC948"/>
<rect x="514.7" y="373.25" width="9.49" height="4" fill="#B07AA1"/>
<rect x="524.04" y="373.25" width="3" height="4" fill="#E15759"/>
<rect x="526.89" y="373.25" width="6.06" height="4" fill="#B07AA1"/>
<rect x="532.8" y="373.25" width="5.62" height="4" fill="#E15759"/>
<rect x="538.28" y="373.25" width="2.34" height="4" fill="#76B7B2"/>
<rect x="540.47" y="373.25" width="22.48" height="4" fill="#B07AA1"/>
<rect x="562.8" y="373.25" width="4.09" height="4" fill="#EDC948"/>
<rect x="566.74" y="373.25" width="2.78" height="4" fill="#B07AA1"/>
<rect x="569.37" y="373.25" width="3.65" height="4" fill="#59A14F"/>
<rect x="572.87" y="373.25" width="3.87" height="4" fill="#E15759"/>
<rect x="576.59" y="373.25" width="4.53" height="4" fill="#B07AA1"/>
<rect x="580.97" y="373.25" width="4.53" height="4" fill="#EDC948"/>
<rect x="585.35" y="373.25" width="5.19" height="4" fill="#B07AA1"/>
<rect x="590.39" y="373.25" width="1.54" height="4" fill="#EDC948"/>
<rect x="523.97" y="378.3" width="6.13" height="4" fill="#B07AA1"/>
<rect x="529.95" y="378.3" width="17.23" height="4" fill="#EDC948"/>
<rect x="547.03" y="378.3" width="6.28" height="4" fill="#E15759"/>
<rect x="553.16" y="378.3" width="4.53" height="4" fill="#B07AA1"/>
<rect x="557.54" y="378.3" width="2.34" height="4" fill="#E15759"/>
<rect x="559.73" y="378.3" width="2.34" height="4" fill="#B07AA1"/>
<rect x="561.92" y="378.3" width="3.43" height="4" fill="#E15759"/>
<rect x="565.21" y="378.3" width="1.68" height="4" fill="#59A14F"/>
<rect x="566.74" y="378.3" width="14.81" height="4" fill="#B07AA1"/>
<rect x="523.97" y="383.2" width="7.45" height="4" fill="#B07AA1"/>
<rect x="531.27" y="383.2" width="2.78" height="4" fill="#EDC948"/>
<rect x="533.9" y="383.2" width="7.38" height="4" fill="#B07AA1"/>
<rect x="541.12" y="383.2" width="7.16" height="4" fill="#EDC948"/>
<rect x="548.13" y="383.2" width="3.43" height="4" fill="#B07AA1"/>
<rect x="551.41" y="383.2" width="5.62" height="4" fill="#EDC948"/>
<rect x="556.89" y="383.2" width="11.1" height="4" fill="#E15759"/>
<rect x="567.84" y="383.2" width="13.72" height="4" fill="#B07AA1"/>
<rect x="523.97" y="388.25" width="3.07" height="4" fill="#EDC948"/>
<rect x="526.89" y="388.25" width="6.06" height="4" fill="#B07AA1"/>
<rect x="532.8" y="388.25" width="6.06" height="4" fill="#59A14F"/>
<rect x="538.71" y="388.25" width="1.9" height="4" fill="#B07AA1"/>
<rect x="540.47" y="388.25" width="1.24" height="4" fill="#EDC948"/>
<rect x="541.56" y="388.25" width="4.53" height="4" fill="#B07AA1"/>
<rect x="545.94" y="388.25" width="5.62" height="4" fill="#59A14F"/>
<rect x="551.41" y="388.25" width="3.43" height="4" fill="#FF9DA7"/>
<rect x="554.7" y="388.25" width="15.48" height="4" fill="#B07AA1"/>
<rect x="570.02" y="388.25" width="1.68" height="4" fill="#59A14F"/>
<rect x="571.56" y="388.25" width="5.59" height="4" fill="#B07AA1"/>
<rect x="523.97" y="393.15" width="8.32" height="4" fill="#B07AA1"/>
<rect x="532.14" y="393.15" width="3.65" height="4" fill="#EDC948"/>
<rect x="535.65" y="393.15" width="3.22" height="4" fill="#59A14F"/>
<rect x="538.71" y="393.15" width="2.34" height="4" fill="#E15759"/>
<rect x="540.9" y="393.15" width="3" height="4" fill="#EDC948"/>
<rect x="543.75" y="393.15" width="2.34" height="4" fill="#B07AA1"/>
<rect x="545.94" y="393.15" width="2.34" height="4" fill="#59A14F"/>
<rect x="548.13" y="393.15" width="2.34" height="4" fill="#B07AA1"/>
<rect x="550.32" y="393.15" width="1.24" height="4" fill="#4E79A7"/>
<rect x="551.41" y="393.15" width="7.81" height="4" fill="#59A14F"/>
<rect x="559.08" y="393.15" width="11.1" height="4" fill="#B07AA1"/>
<rect x="570.02" y="393.15" width="1.68" height="4" fill="#59A14F"/>
<rect x="571.56" y="393.15" width="5.59" height="4" fill="#B07AA1"/>
<rect x="523.97" y="398.2" width="6.13" height="4" fill="#B07AA1"/>
<rect x="529.95" y="398.2" width="1.9" height="4" fill="#EDC948"/>
<rect x="531.71" y="398.2" width="26.43" height="4" fill="#B07AA1"/>
<rect x="557.98" y="398.2" width="4.09" height="4" fill="#EDC948"/>
<rect x="561.92" y="398.2" width="5.41" height="4" fill="#B07AA1"/>
<rect x="567.18" y="398.2" width="2.34" height="4" fill="#EDC948"/>
<rect x="569.37" y="398.2" width="4.71" height="4" fill="#B07AA1"/>
<rect x="523.97" y="403.1" width="12.26" height="4" fill="#B07AA1"/>
<rect x="536.09" y="403.1" width="4.53" height="4" fill="#E15759"/>
<rect x="540.47" y="403.1" width="1.24" height="4" fill="#59A14F"/>
<rect x="541.56" y="403.1" width="5.19" height="4" fill="#B07AA1"/>
<rect x="546.6" y="403.1" width="2.78" height="4" fill="#EDC948"/>
<rect x="549.22" y="403.1" width="19.42" height="4" fill="#B07AA1"/>
<rect x="568.49" y="403.1" width="1.68" height="4" fill="#EDC948"/>
<rect x="570.02" y="403.1" width="4.05" height="4" fill="#B07AA1"/>
<rect x="514.7" y="408.15" width="17.16" height="4" fill="#B07AA1"/>
<rect x="531.71" y="408.15" width="10" height="4" fill="#EDC948"/>
<rect x="541.56" y="408.15" width="14.38" height="4" fill="#B07AA1"/>
<rect x="555.79" y="408.15" width="5.62" height="4" fill="#EDC948"/>
<rect x="561.27" y="408.15" width="3.43" height="4" fill="#59A14F"/>
<rect x="564.55" y="408.15" width="2.4" height="4" fill="#B07AA1"/>
<rect x="514.7" y="413.05" width="6.21" height="4" fill="#B07AA1"/>
<rect x="520.76" y="413.05" width="3.43" height="4" fill="#4E79A7"/>
<rect x="524.04" y="413.05" width="4.53" height="4" fill="#59A14F"/>
<rect x="528.42" y="413.05" width="5.62" height="4" fill="#B07AA1"/>
<rect x="533.9" y="413.05" width="8.91" height="4" fill="#EDC948"/>
<rect x="542.65" y="413.05" width="19.86" height="4" fill="#B07AA1"/>
<rect x="562.36" y="413.05" width="4.59" height="4" fill="#E15759"/>
<rect x="514.7" y="418.1" width="1.39" height="4" fill="#4E79A7"/>
<rect x="515.94" y="418.1" width="45.48" height="4" fill="#B07AA1"/>
<rect x="561.27" y="418.1" width="2.09" height="4" fill="#59A14F"/>
<rect x="514.7" y="423" width="4.02" height="4" fill="#E15759"/>
<rect x="518.57" y="423" width="5.62" height="4" fill="#EDC948"/>
<rect x="524.04" y="423" width="31.9" height="4" fill="#B07AA1"/>
<rect x="555.79" y="423" width="7.56" height="4" fill="#EDC948"/>
<rect x="514.7" y="428.05" width="27.67" height="4" fill="#B07AA1"/>
<rect x="542.22" y="428.05" width="5.41" height="4" fill="#59A14F"/>
<rect x="547.47" y="428.05" width="13.85" height="4" fill="#B07AA1"/>
<rect x="514.7" y="432.95" width="17.59" height="4" fill="#B07AA1"/>
<rect x="532.14" y="432.95" width="10.66" height="4" fill="#E15759"/>
<rect x="542.65" y="432.95" width="4.53" height="4" fill="#59A14F"/>
<rect x="547.03" y="432.95" width="6.28" height="4" fill="#B07AA1"/>
<rect x="553.16" y="432.95" width="3.87" height="4" fill="#EDC948"/>
<rect x="556.89" y="432.95" width="4.44" height="4" fill="#B07AA1"/>
<rect x="514.7" y="438" width="1.83" height="4" fill="#B07AA1"/>
<rect x="516.38" y="438" width="6.28" height="4" fill="#59A14F"/>
<rect x="522.51" y="438" width="3.22" height="4" fill="#E15759"/>
<rect x="525.58" y="438" width="1.9" height="4" fill="#B07AA1"/>
<rect x="527.33" y="438" width="4.53" height="4" fill="#4E79A7"/>
<rect x="531.71" y="438" width="2.34" height="4" fill="#EDC948"/>
<rect x="533.9" y="438" width="15.14" height="4" fill="#B07AA1"/>
<rect x="514.7" y="442.9" width="5.77" height="4" fill="#B07AA1"/>
<rect x="520.32" y="442.9" width="3.22" height="4" fill="#59A14F"/>
<rect x="523.39" y="442.9" width="4.53" height="4" fill="#B07AA1"/>
<rect x="527.77" y="442.9" width="5.19" height="4" fill="#E15759"/>
<rect x="532.8" y="442.9" width="1.24" height="4" fill="#EDC948"/>
<rect x="533.9" y="442.9" width="2.78" height="4" fill="#E15759"/>
<rect x="536.52" y="442.9" width="1.46" height="4" fill="#EDC948"/>
<rect x="537.84" y="442.9" width="4.97" height="4" fill="#E15759"/>
<rect x="542.65" y="442.9" width="2.78" height="4" fill="#EDC948"/>
<rect x="545.28" y="442.9" width="3.76" height="4" fill="#59A14F"/>
<rect x="514.7" y="447.95" width="5.77" height="4" fill="#E15759"/>
<rect x="520.32" y="447.95" width="2.78" height="4" fill="#59A14F"/>
<rect x="522.95" y="447.95" width="2.78" height="4" fill="#E15759"/>
<rect x="525.58" y="447.95" width="14.6" height="4" fill="#EDC948"/>
<rect x="540.03" y="447.95" width="8.25" height="4" fill="#B07AA1"/>
<rect x="548.13" y="447.95" width="4.21" height="4" fill="#E15759"/>
<rect x="514.7" y="452.85" width="6.21" height="4" fill="#B07AA1"/>
<rect x="520.76" y="452.85" width="3.43" height="4" fill="#59A14F"/>
<rect x="524.04" y="452.85" width="5.62" height="4" fill="#E15759"/>
<rect x="529.52" y="452.85" width="6.72" height="4" fill="#EDC948"/>
<rect x="536.09" y="452.85" width="4.09" height="4" fill="#B07AA1"/>
<rect x="540.03" y="452.85" width="3.87" height="4" fill="#EDC948"/>
<rect x="543.75" y="452.85" width="8.59" height="4" fill="#B07AA1"/>
<rect x="518.47" y="457.9" width="4.63" height="4" fill="#EDC948"/>
<rect x="522.95" y="457.9" width="1.9" height="4" fill="#E15759"/>
<rect x="524.7" y="457.9" width="2.78" height="4" fill="#EDC948"/>
<rect x="527.33" y="457.9" width="15.05" height="4" fill="#E15759"/>
<rect x="518.47" y="462.8" width="6.38" height="4" fill="#B07AA1"/>
<rect x="524.7" y="462.8" width="7.59" height="4" fill="#E15759"/>
<rect x="532.14" y="462.8" width="8.03" height="4" fill="#B07AA1"/>
<rect x="540.03" y="462.8" width="2.35" height="4" fill="#FF9DA7"/>
<rect x="521.36" y="467.85" width="23.21" height="4" fill="#B07AA1"/>
<rect x="521.36" y="472.75" width="15.97" height="4" fill="#B07AA1"/>
<rect x="537.18" y="472.75" width="3.43" height="4" fill="#EDC948"/>
<rect x="540.47" y="472.75" width="4.11" height="4" fill="#B07AA1"/>
<rect x="514" y="257.95" width="151" height="0.9" fill="#d6d6d6"/>
<rect x="514" y="267.9" width="151" height="0.9" fill="#d6d6d6"/>
<rect x="514" y="277.85" width="151" height="0.9" fill="#d6d6d6"/>
<rect x="514" y="287.8" width="151" height="0.9" fill="#d6d6d6"/>
<rect x="514" y="297.75" width="151" height="0.9" fill="#d6d6d6"/>
<rect x="514" y="307.7" width="151" height="0.9" fill="#d6d6d6"/>
<rect x="514" y="317.65" width="151" height="0.9" fill="#d6d6d6"/>
<rect x="514" y="327.6" width="151" height="0.9" fill="#d6d6d6"/>
<rect x="514" y="337.55" width="151" height="0.9" fill="#d6d6d6"/>
<rect x="514" y="347.5" width="151" height="0.9" fill="#d6d6d6"/>
<rect x="514" y="357.45" width="151" height="0.9" fill="#d6d6d6"/>
<rect x="514" y="367.4" width="151" height="0.9" fill="#d6d6d6"/>
<rect x="514" y="377.35" width="151" height="0.9" fill="#d6d6d6"/>
<rect x="514" y="387.3" width="151" height="0.9" fill="#d6d6d6"/>
<rect x="514" y="397.25" width="151" height="0.9" fill="#d6d6d6"/>
<rect x="514" y="407.2" width="151" height="0.9" fill="#d6d6d6"/>
<rect x="514" y="417.15" width="151" height="0.9" fill="#d6d6d6"/>
<rect x="514" y="427.1" width="151" height="0.9" fill="#d6d6d6"/>
<rect x="514" y="437.05" width="151" height="0.9" fill="#d6d6d6"/>
<rect x="514" y="447" width="151" height="0.9" fill="#d6d6d6"/>
<rect x="514" y="456.95" width="151" height="0.9" fill="#d6d6d6"/>
<rect x="514" y="466.9" width="151" height="0.9" fill="#d6d6d6"/>
<rect x="514" y="476.85" width="151" height="0.9" fill="#d6d6d6"/>
<line x1="514.7" y1="258.4" x2="514.7" y2="477.3" stroke="#bbb" stroke-width="0.6" stroke-dasharray="1,1"/>
</g>
<text x="331.8" y="267" font-size="10" text-anchor="start" font-weight="normal" fill="#222">1</text>
<text x="331.8" y="276.95" font-size="10" text-anchor="start" font-weight="normal" fill="#222">2</text>
<text x="331.8" y="286.9" font-size="10" text-anchor="start" font-weight="normal" fill="#222">3</text>
<text x="331.8" y="296.85" font-size="10" text-anchor="start" font-weight="normal" fill="#222">4</text>
<text x="331.8" y="306.8" font-size="10" text-anchor="start" font-weight="normal" fill="#222">5</text>
<text x="331.8" y="316.75" font-size="10" text-anchor="start" font-weight="normal" fill="#222">6</text>
<text x="331.8" y="326.7" font-size="10" text-anchor="start" font-weight="normal" fill="#222">7</text>
<text x="331.8" y="336.65" font-size="10" text-anchor="start" font-weight="normal" fill="#222">8</text>
<text x="331.8" y="346.6" font-size="10" text-anchor="start" font-weight="normal" fill="#222">9</text>
<text x="331.8" y="356.55" font-size="10" text-anchor="start" font-weight="normal" fill="#222">10</text>
<text x="331.8" y="366.5" font-size="10" text-anchor="start" font-weight="normal" fill="#222">11</text>
<text x="331.8" y="376.45" font-size="10" text-anchor="start" font-weight="normal" fill="#222">12</text>
<text x="331.8" y="386.4" font-size="10" text-anchor="start" font-weight="normal" fill="#222">13</text>
<text x="331.8" y="396.35" font-size="10" text-anchor="start" font-weight="normal" fill="#222">14</text>
<text x="331.8" y="406.3" font-size="10" text-anchor="start" font-weight="normal" fill="#222">15</text>
<text x="331.8" y="416.25" font-size="10" text-anchor="start" font-weight="normal" fill="#222">16</text>
<text x="331.8" y="426.2" font-size="10" text-anchor="start" font-weight="normal" fill="#222">17</text>
<text x="331.8" y="436.15" font-size="10" text-anchor="start" font-weight="normal" fill="#222">18</text>
<text x="331.8" y="446.1" font-size="10" text-anchor="start" font-weight="normal" fill="#222">19</text>
<text x="331.8" y="456.05" font-size="10" text-anchor="start" font-weight="normal" fill="#222">20</text>
<text x="331.8" y="466" font-size="10" text-anchor="start" font-weight="normal" fill="#222">21</text>
<text x="331.8" y="475.95" font-size="10" text-anchor="start" font-weight="normal" fill="#222">22</text>
<rect x="421.05" y="477.7" width="0.8" height="2.4" fill="#555"/>
<text x="422.95" y="490.3" font-size="9" text-anchor="middle" font-weight="normal" fill="#222">100 M</text>
<rect x="479" y="477.7" width="0.8" height="2.4" fill="#555"/>
<text x="480.9" y="490.3" font-size="9" text-anchor="middle" font-weight="normal" fill="#222">200 M</text>
<text x="439.5" y="505.8" font-size="10.3" text-anchor="middle" font-weight="normal" fill="#222">Position</text>
<rect x="572.25" y="477.7" width="0.8" height="2.4" fill="#555"/>
<text x="574.15" y="490.3" font-size="9" text-anchor="middle" font-weight="normal" fill="#222">100 M</text>
<rect x="630.2" y="477.7" width="0.8" height="2.4" fill="#555"/>
<text x="632.1" y="490.3" font-size="9" text-anchor="middle" font-weight="normal" fill="#222">200 M</text>
<text x="590.7" y="505.8" font-size="10.3" text-anchor="middle" font-weight="normal" fill="#222">Position</text>
<text x="322.8" y="536.8" font-size="10" text-anchor="start" font-weight="normal" fill="#222">Chr</text>
<text x="430.5" y="536.6" font-size="10" text-anchor="middle" font-weight="normal" fill="#222">Jordanian</text>
<text x="588.5" y="536.6" font-size="10" text-anchor="middle" font-weight="normal" fill="#222">Qatari 2</text>
<g>
<rect x="354.5" y="541.4" width="9.69" height="4" fill="#B07AA1"/>
<rect x="364.04" y="541.4" width="5.62" height="4" fill="#76B7B2"/>
<rect x="369.52" y="541.4" width="18.76" height="4" fill="#B07AA1"/>
<rect x="388.13" y="541.4" width="1.24" height="4" fill="#F28E2B"/>
<rect x="389.22" y="541.4" width="1.9" height="4" fill="#E15759"/>
<rect x="390.98" y="541.4" width="6.06" height="4" fill="#B07AA1"/>
<rect x="396.89" y="541.4" width="11.1" height="4" fill="#4E79A7"/>
<rect x="407.84" y="541.4" width="3.43" height="4" fill="#EDC948"/>
<rect x="411.12" y="541.4" width="2.34" height="4" fill="#B07AA1"/>
<rect x="413.31" y="541.4" width="26.43" height="4" fill="#E15759"/>
<rect x="439.58" y="541.4" width="4.53" height="4" fill="#76B7B2"/>
<rect x="443.96" y="541.4" width="5.62" height="4" fill="#B07AA1"/>
<rect x="449.44" y="541.4" width="8.91" height="4" fill="#E15759"/>
<rect x="458.2" y="541.4" width="3.43" height="4" fill="#4E79A7"/>
<rect x="461.48" y="541.4" width="1.24" height="4" fill="#EDC948"/>
<rect x="462.58" y="541.4" width="1.68" height="4" fill="#B07AA1"/>
<rect x="464.11" y="541.4" width="1.9" height="4" fill="#EDC948"/>
<rect x="465.86" y="541.4" width="12.85" height="4" fill="#E15759"/>
<rect x="478.56" y="541.4" width="2.34" height="4" fill="#B07AA1"/>
<rect x="480.75" y="541.4" width="3.22" height="4" fill="#4E79A7"/>
<rect x="483.82" y="541.4" width="5.19" height="4" fill="#E15759"/>
<rect x="488.85" y="541.4" width="2.34" height="4" fill="#F28E2B"/>
<rect x="491.04" y="541.4" width="1.24" height="4" fill="#EDC948"/>
<rect x="492.14" y="541.4" width="6.4" height="4" fill="#B07AA1"/>
<rect x="354.5" y="546.3" width="4.22" height="4" fill="#E15759"/>
<rect x="358.57" y="546.3" width="1.24" height="4" fill="#F28E2B"/>
<rect x="359.66" y="546.3" width="9.57" height="4" fill="#76B7B2"/>
<rect x="369.08" y="546.3" width="4.97" height="4" fill="#F28E2B"/>
<rect x="373.9" y="546.3" width="13.29" height="4" fill="#B07AA1"/>
<rect x="387.03" y="546.3" width="1.24" height="4" fill="#F28E2B"/>
<rect x="388.13" y="546.3" width="16.13" height="4" fill="#76B7B2"/>
<rect x="404.11" y="546.3" width="18.1" height="4" fill="#76B7B2"/>
<rect x="422.07" y="546.3" width="17.67" height="4" fill="#E15759"/>
<rect x="439.58" y="546.3" width="2.34" height="4" fill="#F28E2B"/>
<rect x="441.77" y="546.3" width="6.72" height="4" fill="#4E79A7"/>
<rect x="448.34" y="546.3" width="1.9" height="4" fill="#B07AA1"/>
<rect x="450.1" y="546.3" width="4.97" height="4" fill="#4E79A7"/>
<rect x="454.91" y="546.3" width="3.43" height="4" fill="#B07AA1"/>
<rect x="458.2" y="546.3" width="3.43" height="4" fill="#4E79A7"/>
<rect x="461.48" y="546.3" width="5.62" height="4" fill="#EDC948"/>
<rect x="466.96" y="546.3" width="0.81" height="4" fill="#B07AA1"/>
<rect x="467.61" y="546.3" width="11.1" height="4" fill="#E15759"/>
<rect x="478.56" y="546.3" width="1.68" height="4" fill="#76B7B2"/>
<rect x="480.09" y="546.3" width="3.43" height="4" fill="#B07AA1"/>
<rect x="483.38" y="546.3" width="2.78" height="4" fill="#E15759"/>
<rect x="486" y="546.3" width="12.54" height="4" fill="#B07AA1"/>
<rect x="354.5" y="551.35" width="31.59" height="4" fill="#B07AA1"/>
<rect x="385.94" y="551.35" width="1.68" height="4" fill="#4E79A7"/>
<rect x="387.47" y="551.35" width="3" height="4" fill="#EDC948"/>
<rect x="390.32" y="551.35" width="15.48" height="4" fill="#B07AA1"/>
<rect x="405.65" y="551.35" width="8.91" height="4" fill="#4E79A7"/>
<rect x="414.4" y="551.35" width="3" height="4" fill="#B07AA1"/>
<rect x="417.25" y="551.35" width="6.06" height="4" fill="#E15759"/>
<rect x="423.16" y="551.35" width="3.43" height="4" fill="#EDC948"/>
<rect x="426.45" y="551.35" width="8.91" height="4" fill="#E15759"/>
<rect x="435.21" y="551.35" width="1.24" height="4" fill="#F28E2B"/>
<rect x="436.3" y="551.35" width="16.57" height="4" fill="#B07AA1"/>
<rect x="452.72" y="551.35" width="2.34" height="4" fill="#F28E2B"/>
<rect x="454.91" y="551.35" width="2.78" height="4" fill="#B07AA1"/>
<rect x="457.54" y="551.35" width="5.19" height="4" fill="#E15759"/>
<rect x="462.58" y="551.35" width="1.24" height="4" fill="#F28E2B"/>
<rect x="463.67" y="551.35" width="2.34" height="4" fill="#B07AA1"/>
<rect x="465.86" y="551.35" width="19.86" height="4" fill="#E15759"/>
<rect x="485.57" y="551.35" width="4.09" height="4" fill="#4E79A7"/>
<rect x="489.51" y="551.35" width="2.78" height="4" fill="#B07AA1"/>
<rect x="492.14" y="551.35" width="2.87" height="4" fill="#4E79A7"/>
<rect x="354.5" y="556.25" width="14.07" height="4" fill="#B07AA1"/>
<rect x="368.42" y="556.25" width="5.62" height="4" fill="#4E79A7"/>
<rect x="373.9" y="556.25" width="6.72" height="4" fill="#B07AA1"/>
<rect x="380.47" y="556.25" width="2.34" height="4" fill="#E15759"/>
<rect x="382.65" y="556.25" width="15.48" height="4" fill="#B07AA1"/>
<rect x="397.98" y="556.25" width="13.29" height="4" fill="#E15759"/>
<rect x="411.12" y="556.25" width="4.53" height="4" fill="#B07AA1"/>
<rect x="415.5" y="556.25" width="6.28" height="4" fill="#4E79A7"/>
<rect x="421.63" y="556.25" width="3.87" height="4" fill="#E15759"/>
<rect x="425.35" y="556.25" width="2.34" height="4" fill="#EDC948"/>
<rect x="427.54" y="556.25" width="3.43" height="4" fill="#76B7B2"/>
<rect x="430.83" y="556.25" width="4.53" height="4" fill="#B07AA1"/>
<rect x="435.21" y="556.25" width="1.9" height="4" fill="#F28E2B"/>
<rect x="436.96" y="556.25" width="15.92" height="4" fill="#B07AA1"/>
<rect x="452.72" y="556.25" width="2.34" height="4" fill="#F28E2B"/>
<rect x="454.91" y="556.25" width="3.43" height="4" fill="#E15759"/>
<rect x="458.2" y="556.25" width="1.24" height="4" fill="#F28E2B"/>
<rect x="459.29" y="556.25" width="2.34" height="4" fill="#76B7B2"/>
<rect x="461.48" y="556.25" width="1.24" height="4" fill="#B07AA1"/>
<rect x="462.58" y="556.25" width="3" height="4" fill="#EDC948"/>
<rect x="465.42" y="556.25" width="6.72" height="4" fill="#B07AA1"/>
<rect x="471.99" y="556.25" width="9.35" height="4" fill="#E15759"/>
<rect x="481.19" y="556.25" width="4.97" height="4" fill="#4E79A7"/>
<rect x="486" y="556.25" width="4.09" height="4" fill="#E15759"/>
<rect x="489.95" y="556.25" width="5.06" height="4" fill="#4E79A7"/>
<rect x="354.5" y="561.3" width="1.59" height="4" fill="#F28E2B"/>
<rect x="355.94" y="561.3" width="6.06" height="4" fill="#B07AA1"/>
<rect x="361.85" y="561.3" width="1.24" height="4" fill="#EDC948"/>
<rect x="362.95" y="561.3" width="1.9" height="4" fill="#4E79A7"/>
<rect x="364.7" y="561.3" width="11.1" height="4" fill="#E15759"/>
<rect x="375.65" y="561.3" width="7.16" height="4" fill="#B07AA1"/>
<rect x="382.65" y="561.3" width="1.9" height="4" fill="#EDC948"/>
<rect x="384.41" y="561.3" width="4.97" height="4" fill="#B07AA1"/>
<rect x="389.22" y="561.3" width="10" height="4" fill="#E15759"/>
<rect x="399.08" y="561.3" width="2.34" height="4" fill="#76B7B2"/>
<rect x="401.27" y="561.3" width="14.38" height="4" fill="#B07AA1"/>
<rect x="415.5" y="561.3" width="8.91" height="4" fill="#76B7B2"/>
<rect x="424.26" y="561.3" width="17.67" height="4" fill="#B07AA1"/>
<rect x="441.77" y="561.3" width="1.9" height="4" fill="#E15759"/>
<rect x="443.53" y="561.3" width="4.97" height="4" fill="#B07AA1"/>
<rect x="448.34" y="561.3" width="7.81" height="4" fill="#E15759"/>
<rect x="456.01" y="561.3" width="2.34" height="4" fill="#F28E2B"/>
<rect x="458.2" y="561.3" width="5.62" height="4" fill="#E15759"/>
<rect x="463.67" y="561.3" width="5.43" height="4" fill="#F28E2B"/>
<rect x="354.5" y="566.2" width="1.59" height="4" fill="#F28E2B"/>
<rect x="355.94" y="566.2" width="1.68" height="4" fill="#E15759"/>
<rect x="357.47" y="566.2" width="0.81" height="4" fill="#B07AA1"/>
<rect x="358.13" y="566.2" width="2.34" height="4" fill="#F28E2B"/>
<rect x="360.32" y="566.2" width="27.96" height="4" fill="#B07AA1"/>
<rect x="388.13" y="566.2" width="1.24" height="4" fill="#EDC948"/>
<rect x="389.22" y="566.2" width="4.97" height="4" fill="#B07AA1"/>
<rect x="394.04" y="566.2" width="21.61" height="4" fill="#E15759"/>
<rect x="415.5" y="566.2" width="8.91" height="4" fill="#76B7B2"/>
<rect x="424.26" y="566.2" width="8.47" height="4" fill="#E15759"/>
<rect x="432.58" y="566.2" width="9.35" height="4" fill="#B07AA1"/>
<rect x="441.77" y="566.2" width="15.48" height="4" fill="#4E79A7"/>
<rect x="457.1" y="566.2" width="6.72" height="4" fill="#E15759"/>
<rect x="463.67" y="566.2" width="2.34" height="4" fill="#4E79A7"/>
<rect x="465.86" y="566.2" width="1.24" height="4" fill="#F28E2B"/>
<rect x="466.96" y="566.2" width="2.15" height="4" fill="#4E79A7"/>
<rect x="354.5" y="571.25" width="5.31" height="4" fill="#76B7B2"/>
<rect x="359.66" y="571.25" width="1.24" height="4" fill="#B07AA1"/>
<rect x="360.76" y="571.25" width="4.09" height="4" fill="#76B7B2"/>
<rect x="364.7" y="571.25" width="6.06" height="4" fill="#B07AA1"/>
<rect x="370.61" y="571.25" width="5.62" height="4" fill="#E15759"/>
<rect x="376.09" y="571.25" width="3.43" height="4" fill="#4E79A7"/>
<rect x="379.37" y="571.25" width="4.53" height="4" fill="#B07AA1"/>
<rect x="383.75" y="571.25" width="5.62" height="4" fill="#E15759"/>
<rect x="389.22" y="571.25" width="4.53" height="4" fill="#4E79A7"/>
<rect x="393.6" y="571.25" width="10.66" height="4" fill="#B07AA1"/>
<rect x="404.11" y="571.25" width="6.72" height="4" fill="#E15759"/>
<rect x="410.68" y="571.25" width="3.87" height="4" fill="#76B7B2"/>
<rect x="414.4" y="571.25" width="7.81" height="4" fill="#B07AA1"/>
<rect x="422.07" y="571.25" width="7.81" height="4" fill="#4E79A7"/>
<rect x="429.73" y="571.25" width="7.81" height="4" fill="#B07AA1"/>
<rect x="437.4" y="571.25" width="7.81" height="4" fill="#F28E2B"/>
<rect x="445.06" y="571.25" width="3.43" height="4" fill="#EDC948"/>
<rect x="448.34" y="571.25" width="1.24" height="4" fill="#B07AA1"/>
<rect x="449.44" y="571.25" width="2.34" height="4" fill="#4E79A7"/>
<rect x="451.63" y="571.25" width="1.24" height="4" fill="#B07AA1"/>
<rect x="452.72" y="571.25" width="12.03" height="4" fill="#E15759"/>
<rect x="354.5" y="576.15" width="2.03" height="4" fill="#EDC948"/>
<rect x="356.38" y="576.15" width="13.73" height="4" fill="#76B7B2"/>
<rect x="369.95" y="576.15" width="9.57" height="4" fill="#E15759"/>
<rect x="379.37" y="576.15" width="7.38" height="4" fill="#76B7B2"/>
<rect x="386.6" y="576.15" width="7.16" height="4" fill="#B07AA1"/>
<rect x="393.6" y="576.15" width="11.1" height="4" fill="#E15759"/>
<rect x="404.55" y="576.15" width="5.62" height="4" fill="#4E79A7"/>
<rect x="410.02" y="576.15" width="11.75" height="4" fill="#B07AA1"/>
<rect x="421.63" y="576.15" width="3.87" height="4" fill="#4E79A7"/>
<rect x="425.35" y="576.15" width="11.1" height="4" fill="#B07AA1"/>
<rect x="436.3" y="576.15" width="9.57" height="4" fill="#F28E2B"/>
<rect x="445.72" y="576.15" width="6.06" height="4" fill="#4E79A7"/>
<rect x="451.63" y="576.15" width="2.34" height="4" fill="#E15759"/>
<rect x="453.82" y="576.15" width="5.19" height="4" fill="#B07AA1"/>
<rect x="458.85" y="576.15" width="5.9" height="4" fill="#4E79A7"/>
<rect x="354.5" y="581.2" width="12.98" height="4" fill="#B07AA1"/>
<rect x="367.33" y="581.2" width="7.81" height="4" fill="#E15759"/>
<rect x="374.99" y="581.2" width="6.72" height="4" fill="#B07AA1"/>
<rect x="381.56" y="581.2" width="3.87" height="4" fill="#EDC948"/>
<rect x="385.28" y="581.2" width="1.9" height="4" fill="#B07AA1"/>
<rect x="387.03" y="581.2" width="13.29" height="4" fill="#E15759"/>
<rect x="400.17" y="581.2" width="4.53" height="4" fill="#B07AA1"/>
<rect x="404.55" y="581.2" width="4.97" height="4" fill="#4E79A7"/>
<rect x="409.37" y="581.2" width="4.09" height="4" fill="#76B7B2"/>
<rect x="413.31" y="581.2" width="3.43" height="4" fill="#B07AA1"/>
<rect x="416.59" y="581.2" width="6.72" height="4" fill="#F28E2B"/>
<rect x="423.16" y="581.2" width="4.53" height="4" fill="#B07AA1"/>
<rect x="427.54" y="581.2" width="3.43" height="4" fill="#4E79A7"/>
<rect x="430.83" y="581.2" width="6.72" height="4" fill="#B07AA1"/>
<rect x="437.4" y="581.2" width="4.09" height="4" fill="#E15759"/>
<rect x="441.34" y="581.2" width="1.68" height="4" fill="#EDC948"/>
<rect x="442.87" y="581.2" width="17.13" height="4" fill="#B07AA1"/>
<rect x="354.5" y="586.1" width="2.47" height="4" fill="#F28E2B"/>
<rect x="356.82" y="586.1" width="1.46" height="4" fill="#B07AA1"/>
<rect x="358.13" y="586.1" width="7.59" height="4" fill="#4E79A7"/>
<rect x="365.58" y="586.1" width="2.34" height="4" fill="#E15759"/>
<rect x="367.77" y="586.1" width="10.66" height="4" fill="#B07AA1"/>
<rect x="378.28" y="586.1" width="8.91" height="4" fill="#76B7B2"/>
<rect x="387.03" y="586.1" width="12.19" height="4" fill="#B07AA1"/>
<rect x="399.08" y="586.1" width="12.19" height="4" fill="#4E79A7"/>
<rect x="411.12" y="586.1" width="2.34" height="4" fill="#76B7B2"/>
<rect x="413.31" y="586.1" width="2.34" height="4" fill="#B07AA1"/>
<rect x="415.5" y="586.1" width="4.53" height="4" fill="#4E79A7"/>
<rect x="419.88" y="586.1" width="4.53" height="4" fill="#B07AA1"/>
<rect x="424.26" y="586.1" width="6.72" height="4" fill="#4E79A7"/>
<rect x="430.83" y="586.1" width="10.66" height="4" fill="#B07AA1"/>
<rect x="441.34" y="586.1" width="7.16" height="4" fill="#E15759"/>
<rect x="448.34" y="586.1" width="4.53" height="4" fill="#F28E2B"/>
<rect x="452.72" y="586.1" width="7.28" height="4" fill="#B07AA1"/>
<rect x="354.5" y="591.15" width="14.07" height="4" fill="#B07AA1"/>
<rect x="368.42" y="591.15" width="3.43" height="4" fill="#4E79A7"/>
<rect x="371.71" y="591.15" width="13.29" height="4" fill="#B07AA1"/>
<rect x="384.84" y="591.15" width="4.09" height="4" fill="#F28E2B"/>
<rect x="388.79" y="591.15" width="1.68" height="4" fill="#E15759"/>
<rect x="390.32" y="591.15" width="16.57" height="4" fill="#B07AA1"/>
<rect x="406.74" y="591.15" width="7.81" height="4" fill="#76B7B2"/>
<rect x="414.4" y="591.15" width="4.53" height="4" fill="#B07AA1"/>
<rect x="418.78" y="591.15" width="12.19" height="4" fill="#4E79A7"/>
<rect x="430.83" y="591.15" width="1.9" height="4" fill="#E15759"/>
<rect x="432.58" y="591.15" width="2.78" height="4" fill="#B07AA1"/>
<rect x="435.21" y="591.15" width="5.62" height="4" fill="#E15759"/>
<rect x="440.68" y="591.15" width="12.95" height="4" fill="#B07AA1"/>
<rect x="354.5" y="596.05" width="6.41" height="4" fill="#E15759"/>
<rect x="360.76" y="596.05" width="8.91" height="4" fill="#B07AA1"/>
<rect x="369.52" y="596.05" width="12.19" height="4" fill="#E15759"/>
<rect x="381.56" y="596.05" width="3.43" height="4" fill="#B07AA1"/>
<rect x="384.84" y="596.05" width="8.91" height="4" fill="#76B7B2"/>
<rect x="393.6" y="596.05" width="1.9" height="4" fill="#F28E2B"/>
<rect x="395.35" y="596.05" width="13.73" height="4" fill="#B07AA1"/>
<rect x="408.93" y="596.05" width="6.72" height="4" fill="#E15759"/>
<rect x="415.5" y="596.05" width="2.34" height="4" fill="#B07AA1"/>
<rect x="417.69" y="596.05" width="7.81" height="4" fill="#4E79A7"/>
<rect x="425.35" y="596.05" width="4.53" height="4" fill="#B07AA1"/>
<rect x="429.73" y="596.05" width="3.43" height="4" fill="#4E79A7"/>
<rect x="433.02" y="596.05" width="2.34" height="4" fill="#E15759"/>
<rect x="435.21" y="596.05" width="4.53" height="4" fill="#76B7B2"/>
<rect x="439.58" y="596.05" width="6.72" height="4" fill="#B07AA1"/>
<rect x="446.15" y="596.05" width="3.43" height="4" fill="#4E79A7"/>
<rect x="449.44" y="596.05" width="4.19" height="4" fill="#B07AA1"/>
<rect x="354.5" y="601.1" width="6.85" height="4" fill="#B07AA1"/>
<rect x="361.2" y="601.1" width="1.9" height="4" fill="#4E79A7"/>
<rect x="362.95" y="601.1" width="1.9" height="4" fill="#B07AA1"/>
<rect x="364.7" y="601.1" width="10.44" height="4" fill="#4E79A7"/>
<rect x="374.99" y="601.1" width="11.1" height="4" fill="#B07AA1"/>
<rect x="385.94" y="601.1" width="5.62" height="4" fill="#76B7B2"/>
<rect x="391.41" y="601.1" width="2.34" height="4" fill="#B07AA1"/>
<rect x="393.6" y="601.1" width="1.24" height="4" fill="#FF9DA7"/>
<rect x="394.7" y="601.1" width="5.62" height="4" fill="#B07AA1"/>
<rect x="400.17" y="601.1" width="3.43" height="4" fill="#E15759"/>
<rect x="403.46" y="601.1" width="5.19" height="4" fill="#B07AA1"/>
<rect x="408.49" y="601.1" width="7.16" height="4" fill="#E15759"/>
<rect x="415.5" y="601.1" width="6.72" height="4" fill="#B07AA1"/>
<rect x="422.07" y="601.1" width="8.47" height="4" fill="#76B7B2"/>
<rect x="430.39" y="601.1" width="7.16" height="4" fill="#B07AA1"/>
<rect x="437.4" y="601.1" width="2.34" height="4" fill="#76B7B2"/>
<rect x="439.58" y="601.1" width="7.61" height="4" fill="#B07AA1"/>
<rect x="354.5" y="606" width="5.31" height="4" fill="#B07AA1"/>
<rect x="359.66" y="606" width="1.68" height="4" fill="#EDC948"/>
<rect x="361.2" y="606" width="1.9" height="4" fill="#F28E2B"/>
<rect x="362.95" y="606" width="20.95" height="4" fill="#B07AA1"/>
<rect x="383.75" y="606" width="1.68" height="4" fill="#4E79A7"/>
<rect x="385.28" y="606" width="4.53" height="4" fill="#EDC948"/>
<rect x="389.66" y="606" width="6.28" height="4" fill="#E15759"/>
<rect x="395.79" y="606" width="4.53" height="4" fill="#B07AA1"/>
<rect x="400.17" y="606" width="2.78" height="4" fill="#E15759"/>
<rect x="402.8" y="606" width="19.42" height="4" fill="#B07AA1"/>
<rect x="422.07" y="606" width="5.62" height="4" fill="#E15759"/>
<rect x="427.54" y="606" width="1.24" height="4" fill="#F28E2B"/>
<rect x="428.64" y="606" width="11.1" height="4" fill="#E15759"/>
<rect x="439.58" y="606" width="2.34" height="4" fill="#4E79A7"/>
<rect x="441.77" y="606" width="5.42" height="4" fill="#B07AA1"/>
<rect x="354.5" y="611.05" width="1.59" height="4" fill="#F28E2B"/>
<rect x="355.94" y="611.05" width="2.34" height="4" fill="#B07AA1"/>
<rect x="358.13" y="611.05" width="4.53" height="4" fill="#E15759"/>
<rect x="362.51" y="611.05" width="2.78" height="4" fill="#F28E2B"/>
<rect x="365.14" y="611.05" width="3.43" height="4" fill="#B07AA1"/>
<rect x="368.42" y="611.05" width="12.19" height="4" fill="#E15759"/>
<rect x="380.47" y="611.05" width="4.53" height="4" fill="#EDC948"/>
<rect x="384.84" y="611.05" width="2.34" height="4" fill="#4E79A7"/>
<rect x="387.03" y="611.05" width="2.34" height="4" fill="#EDC948"/>
<rect x="389.22" y="611.05" width="2.78" height="4" fill="#76B7B2"/>
<rect x="391.85" y="611.05" width="12.85" height="4" fill="#B07AA1"/>
<rect x="404.55" y="611.05" width="2.34" height="4" fill="#76B7B2"/>
<rect x="406.74" y="611.05" width="1.24" height="4" fill="#FF9DA7"/>
<rect x="407.84" y="611.05" width="13.29" height="4" fill="#B07AA1"/>
<rect x="420.97" y="611.05" width="7.81" height="4" fill="#4E79A7"/>
<rect x="428.64" y="611.05" width="1.9" height="4" fill="#EDC948"/>
<rect x="430.39" y="611.05" width="2.34" height="4" fill="#B07AA1"/>
<rect x="432.58" y="611.05" width="6.33" height="4" fill="#4E79A7"/>
<rect x="354.5" y="615.95" width="1.59" height="4" fill="#F28E2B"/>
<rect x="355.94" y="615.95" width="1.68" height="4" fill="#EDC948"/>
<rect x="357.47" y="615.95" width="40.66" height="4" fill="#E15759"/>
<rect x="397.98" y="615.95" width="1.24" height="4" fill="#B07AA1"/>
<rect x="399.08" y="615.95" width="1.68" height="4" fill="#4E79A7"/>
<rect x="400.61" y="615.95" width="17.23" height="4" fill="#E15759"/>
<rect x="417.69" y="615.95" width="4.09" height="4" fill="#B07AA1"/>
<rect x="421.63" y="615.95" width="10.44" height="4" fill="#4E79A7"/>
<rect x="431.92" y="615.95" width="5.19" height="4" fill="#B07AA1"/>
<rect x="436.96" y="615.95" width="1.95" height="4" fill="#4E79A7"/>
<rect x="354.5" y="621" width="17.79" height="4" fill="#B07AA1"/>
<rect x="372.14" y="621" width="1.9" height="4" fill="#F28E2B"/>
<rect x="373.9" y="621" width="15.92" height="4" fill="#B07AA1"/>
<rect x="389.66" y="621" width="6.28" height="4" fill="#F28E2B"/>
<rect x="395.79" y="621" width="23.14" height="4" fill="#B07AA1"/>
<rect x="418.78" y="621" width="4.53" height="4" fill="#4E79A7"/>
<rect x="423.16" y="621" width="11.75" height="4" fill="#B07AA1"/>
<rect x="354.5" y="625.9" width="9.04" height="4" fill="#B07AA1"/>
<rect x="363.39" y="625.9" width="2.34" height="4" fill="#F28E2B"/>
<rect x="365.58" y="625.9" width="5.19" height="4" fill="#E15759"/>
<rect x="370.61" y="625.9" width="1.24" height="4" fill="#F28E2B"/>
<rect x="371.71" y="625.9" width="3.43" height="4" fill="#4E79A7"/>
<rect x="374.99" y="625.9" width="15.48" height="4" fill="#F28E2B"/>
<rect x="390.32" y="625.9" width="5.19" height="4" fill="#B07AA1"/>
<rect x="395.35" y="625.9" width="1.03" height="4" fill="#F28E2B"/>
<rect x="396.23" y="625.9" width="15.04" height="4" fill="#B07AA1"/>
<rect x="411.12" y="625.9" width="4.97" height="4" fill="#E15759"/>
<rect x="415.94" y="625.9" width="9.57" height="4" fill="#B07AA1"/>
<rect x="425.35" y="625.9" width="2.34" height="4" fill="#E15759"/>
<rect x="427.54" y="625.9" width="7.37" height="4" fill="#B07AA1"/>
<rect x="354.5" y="630.95" width="10.35" height="4" fill="#B07AA1"/>
<rect x="364.7" y="630.95" width="2.34" height="4" fill="#E15759"/>
<rect x="366.89" y="630.95" width="4.97" height="4" fill="#76B7B2"/>
<rect x="371.71" y="630.95" width="2.78" height="4" fill="#4E79A7"/>
<rect x="374.33" y="630.95" width="10.22" height="4" fill="#E15759"/>
<rect x="384.41" y="630.95" width="5.41" height="4" fill="#B07AA1"/>
<rect x="389.66" y="630.95" width="1.9" height="4" fill="#76B7B2"/>
<rect x="391.41" y="630.95" width="7.81" height="4" fill="#4E79A7"/>
<rect x="399.08" y="630.95" width="3" height="4" fill="#B07AA1"/>
<rect x="401.92" y="630.95" width="3.22" height="4" fill="#4E79A7"/>
<rect x="404.99" y="630.95" width="8.03" height="4" fill="#B07AA1"/>
<rect x="412.87" y="630.95" width="8.25" height="4" fill="#EDC948"/>
<rect x="420.97" y="630.95" width="11.16" height="4" fill="#B07AA1"/>
<rect x="354.5" y="635.85" width="10.35" height="4" fill="#B07AA1"/>
<rect x="364.7" y="635.85" width="1.68" height="4" fill="#EDC948"/>
<rect x="366.23" y="635.85" width="6.06" height="4" fill="#76B7B2"/>
<rect x="372.14" y="635.85" width="3.65" height="4" fill="#E15759"/>
<rect x="375.65" y="635.85" width="3.87" height="4" fill="#FF9DA7"/>
<rect x="379.37" y="635.85" width="4.53" height="4" fill="#B07AA1"/>
<rect x="383.75" y="635.85" width="4.53" height="4" fill="#E15759"/>
<rect x="388.13" y="635.85" width="8.91" height="4" fill="#4E79A7"/>
<rect x="396.89" y="635.85" width="4.53" height="4" fill="#B07AA1"/>
<rect x="401.27" y="635.85" width="15.48" height="4" fill="#E15759"/>
<rect x="416.59" y="635.85" width="2.34" height="4" fill="#59A14F"/>
<rect x="418.78" y="635.85" width="13.35" height="4" fill="#B07AA1"/>
<rect x="354.5" y="640.9" width="6.41" height="4" fill="#4E79A7"/>
<rect x="360.76" y="640.9" width="19.86" height="4" fill="#B07AA1"/>
<rect x="380.47" y="640.9" width="2.78" height="4" fill="#E15759"/>
<rect x="383.09" y="640.9" width="8.91" height="4" fill="#4E79A7"/>
<rect x="391.85" y="640.9" width="3" height="4" fill="#B07AA1"/>
<rect x="394.7" y="640.9" width="3.43" height="4" fill="#76B7B2"/>
<rect x="397.98" y="640.9" width="1.9" height="4" fill="#F28E2B"/>
<rect x="399.73" y="640.9" width="3.87" height="4" fill="#4E79A7"/>
<rect x="403.46" y="640.9" width="11.75" height="4" fill="#B07AA1"/>
<rect x="415.06" y="640.9" width="11.54" height="4" fill="#E15759"/>
<rect x="426.45" y="640.9" width="1.24" height="4" fill="#EDC948"/>
<rect x="427.54" y="640.9" width="5.98" height="4" fill="#4E79A7"/>
<rect x="354.5" y="645.8" width="1.59" height="4" fill="#4E79A7"/>
<rect x="355.94" y="645.8" width="1.03" height="4" fill="#E15759"/>
<rect x="356.82" y="645.8" width="4.09" height="4" fill="#4E79A7"/>
<rect x="360.76" y="645.8" width="6.28" height="4" fill="#E15759"/>
<rect x="366.89" y="645.8" width="17.01" height="4" fill="#B07AA1"/>
<rect x="383.75" y="645.8" width="8.25" height="4" fill="#4E79A7"/>
<rect x="391.85" y="645.8" width="3" height="4" fill="#F28E2B"/>
<rect x="394.7" y="645.8" width="5.62" height="4" fill="#B07AA1"/>
<rect x="400.17" y="645.8" width="4.09" height="4" fill="#E15759"/>
<rect x="404.11" y="645.8" width="9.78" height="4" fill="#B07AA1"/>
<rect x="413.75" y="645.8" width="8.91" height="4" fill="#4E79A7"/>
<rect x="422.51" y="645.8" width="3" height="4" fill="#E15759"/>
<rect x="425.35" y="645.8" width="8.17" height="4" fill="#76B7B2"/>
<rect x="354.5" y="650.85" width="5.97" height="4" fill="#B07AA1"/>
<rect x="360.32" y="650.85" width="7.16" height="4" fill="#4E79A7"/>
<rect x="367.33" y="650.85" width="1.9" height="4" fill="#E15759"/>
<rect x="369.08" y="650.85" width="2.78" height="4" fill="#B07AA1"/>
<rect x="371.71" y="650.85" width="8.91" height="4" fill="#E15759"/>
<rect x="380.47" y="650.85" width="13.29" height="4" fill="#B07AA1"/>
<rect x="393.6" y="650.85" width="3.43" height="4" fill="#76B7B2"/>
<rect x="396.89" y="650.85" width="4.53" height="4" fill="#B07AA1"/>
<rect x="401.27" y="650.85" width="2.34" height="4" fill="#4E79A7"/>
<rect x="403.46" y="650.85" width="6.72" height="4" fill="#B07AA1"/>
<rect x="410.02" y="650.85" width="5.19" height="4" fill="#E15759"/>
<rect x="415.06" y="650.85" width="16.66" height="4" fill="#B07AA1"/>
<rect x="354.5" y="655.75" width="7.5" height="4" fill="#B07AA1"/>
<rect x="361.85" y="655.75" width="5.19" height="4" fill="#76B7B2"/>
<rect x="366.89" y="655.75" width="3.87" height="4" fill="#B07AA1"/>
<rect x="370.61" y="655.75" width="8.91" height="4" fill="#E15759"/>
<rect x="379.37" y="655.75" width="5.19" height="4" fill="#4E79A7"/>
<rect x="384.41" y="655.75" width="1.68" height="4" fill="#F28E2B"/>
<rect x="385.94" y="655.75" width="2.34" height="4" fill="#B07AA1"/>
<rect x="388.13" y="655.75" width="3" height="4" fill="#EDC948"/>
<rect x="390.98" y="655.75" width="22.48" height="4" fill="#B07AA1"/>
<rect x="413.31" y="655.75" width="3.43" height="4" fill="#E15759"/>
<rect x="416.59" y="655.75" width="7.38" height="4" fill="#B07AA1"/>
<rect x="423.82" y="655.75" width="1.68" height="4" fill="#F28E2B"/>
<rect x="425.35" y="655.75" width="6.37" height="4" fill="#E15759"/>
<rect x="363.77" y="660.8" width="20.13" height="4" fill="#B07AA1"/>
<rect x="383.75" y="660.8" width="1.24" height="4" fill="#F28E2B"/>
<rect x="384.84" y="660.8" width="3.43" height="4" fill="#B07AA1"/>
<rect x="388.13" y="660.8" width="3.43" height="4" fill="#4E79A7"/>
<rect x="391.41" y="660.8" width="1.9" height="4" fill="#EDC948"/>
<rect x="393.16" y="660.8" width="8.25" height="4" fill="#B07AA1"/>
<rect x="401.27" y="660.8" width="3.43" height="4" fill="#F28E2B"/>
<rect x="404.55" y="660.8" width="16.8" height="4" fill="#76B7B2"/>
<rect x="363.77" y="665.7" width="3.71" height="4" fill="#B07AA1"/>
<rect x="367.33" y="665.7" width="3.43" height="4" fill="#4E79A7"/>
<rect x="370.61" y="665.7" width="8.91" height="4" fill="#E15759"/>
<rect x="379.37" y="665.7" width="5.62" height="4" fill="#F28E2B"/>
<rect x="384.84" y="665.7" width="3.43" height="4" fill="#B07AA1"/>
<rect x="388.13" y="665.7" width="7.81" height="4" fill="#4E79A7"/>
<rect x="395.79" y="665.7" width="4.53" height="4" fill="#76B7B2"/>
<rect x="400.17" y="665.7" width="1.24" height="4" fill="#EDC948"/>
<rect x="401.27" y="665.7" width="1.68" height="4" fill="#F28E2B"/>
<rect x="402.8" y="665.7" width="1.9" height="4" fill="#76B7B2"/>
<rect x="404.55" y="665.7" width="6.72" height="4" fill="#B07AA1"/>
<rect x="411.12" y="665.7" width="4.53" height="4" fill="#E15759"/>
<rect x="415.5" y="665.7" width="3.43" height="4" fill="#76B7B2"/>
<rect x="418.78" y="665.7" width="2.57" height="4" fill="#4E79A7"/>
<rect x="363.77" y="670.75" width="14.65" height="4" fill="#B07AA1"/>
<rect x="378.28" y="670.75" width="1.24" height="4" fill="#E15759"/>
<rect x="379.37" y="670.75" width="5.62" height="4" fill="#4E79A7"/>
<rect x="384.84" y="670.75" width="8.47" height="4" fill="#B07AA1"/>
<rect x="393.16" y="670.75" width="14.82" height="4" fill="#E15759"/>
<rect x="407.84" y="670.75" width="7.81" height="4" fill="#4E79A7"/>
<rect x="415.5" y="670.75" width="1.45" height="4" fill="#E15759"/>
<rect x="363.77" y="675.65" width="12.46" height="4" fill="#B07AA1"/>
<rect x="376.09" y="675.65" width="8.91" height="4" fill="#4E79A7"/>
<rect x="384.84" y="675.65" width="1.9" height="4" fill="#76B7B2"/>
<rect x="386.6" y="675.65" width="4.53" height="4" fill="#4E79A7"/>
<rect x="390.98" y="675.65" width="4.53" height="4" fill="#E15759"/>
<rect x="395.35" y="675.65" width="1.68" height="4" fill="#EDC948"/>
<rect x="396.89" y="675.65" width="3.87" height="4" fill="#4E79A7"/>
<rect x="400.61" y="675.65" width="8.47" height="4" fill="#E15759"/>
<rect x="408.93" y="675.65" width="2.34" height="4" fill="#76B7B2"/>
<rect x="411.12" y="675.65" width="5.83" height="4" fill="#B07AA1"/>
<rect x="363.77" y="680.7" width="5.89" height="4" fill="#B07AA1"/>
<rect x="369.52" y="680.7" width="2.34" height="4" fill="#F28E2B"/>
<rect x="371.71" y="680.7" width="2.34" height="4" fill="#4E79A7"/>
<rect x="373.9" y="680.7" width="6.72" height="4" fill="#B07AA1"/>
<rect x="380.47" y="680.7" width="6.72" height="4" fill="#4E79A7"/>
<rect x="387.03" y="680.7" width="8.91" height="4" fill="#B07AA1"/>
<rect x="395.79" y="680.7" width="4.53" height="4" fill="#76B7B2"/>
<rect x="400.17" y="680.7" width="13.7" height="4" fill="#B07AA1"/>
<rect x="363.77" y="685.6" width="6.99" height="4" fill="#B07AA1"/>
<rect x="370.61" y="685.6" width="1.24" height="4" fill="#4E79A7"/>
<rect x="371.71" y="685.6" width="24.24" height="4" fill="#B07AA1"/>
<rect x="395.79" y="685.6" width="8.91" height="4" fill="#76B7B2"/>
<rect x="404.55" y="685.6" width="7.81" height="4" fill="#B07AA1"/>
<rect x="412.21" y="685.6" width="1.66" height="4" fill="#4E79A7"/>
<rect x="354.5" y="690.65" width="7.5" height="4" fill="#B07AA1"/>
<rect x="361.85" y="690.65" width="7.81" height="4" fill="#E15759"/>
<rect x="369.52" y="690.65" width="4.53" height="4" fill="#76B7B2"/>
<rect x="373.9" y="690.65" width="10.66" height="4" fill="#4E79A7"/>
<rect x="384.41" y="690.65" width="3.87" height="4" fill="#B07AA1"/>
<rect x="388.13" y="690.65" width="4.53" height="4" fill="#4E79A7"/>
<rect x="392.51" y="690.65" width="3.43" height="4" fill="#E15759"/>
<rect x="395.79" y="690.65" width="2.34" height="4" fill="#B07AA1"/>
<rect x="397.98" y="690.65" width="2.34" height="4" fill="#F28E2B"/>
<rect x="400.17" y="690.65" width="6.58" height="4" fill="#4E79A7"/>
<rect x="354.5" y="695.55" width="12.98" height="4" fill="#B07AA1"/>
<rect x="367.33" y="695.55" width="3.43" height="4" fill="#E15759"/>
<rect x="370.61" y="695.55" width="18.76" height="4" fill="#4E79A7"/>
<rect x="389.22" y="695.55" width="2.34" height="4" fill="#EDC948"/>
<rect x="391.41" y="695.55" width="15.33" height="4" fill="#B07AA1"/>
<rect x="354.5" y="700.6" width="2.47" height="4" fill="#4E79A7"/>
<rect x="356.82" y="700.6" width="14.6" height="4" fill="#B07AA1"/>
<rect x="371.27" y="700.6" width="2.78" height="4" fill="#4E79A7"/>
<rect x="373.9" y="700.6" width="10" height="4" fill="#E15759"/>
<rect x="383.75" y="700.6" width="8.91" height="4" fill="#4E79A7"/>
<rect x="392.51" y="700.6" width="6.72" height="4" fill="#B07AA1"/>
<rect x="399.08" y="700.6" width="2.34" height="4" fill="#F28E2B"/>
<rect x="401.27" y="700.6" width="1.89" height="4" fill="#76B7B2"/>
<rect x="354.5" y="705.5" width="7.5" height="4" fill="#E15759"/>
<rect x="361.85" y="705.5" width="13.29" height="4" fill="#B07AA1"/>
<rect x="374.99" y="705.5" width="5.62" height="4" fill="#76B7B2"/>
<rect x="380.47" y="705.5" width="10.66" height="4" fill="#E15759"/>
<rect x="390.98" y="705.5" width="6.06" height="4" fill="#4E79A7"/>
<rect x="396.89" y="705.5" width="6.27" height="4" fill="#B07AA1"/>
<rect x="354.5" y="710.55" width="8.16" height="4" fill="#E15759"/>
<rect x="362.51" y="710.55" width="8.91" height="4" fill="#B07AA1"/>
<rect x="371.27" y="710.55" width="2.78" height="4" fill="#F28E2B"/>
<rect x="373.9" y="710.55" width="8.47" height="4" fill="#B07AA1"/>
<rect x="382.22" y="710.55" width="2.34" height="4" fill="#F28E2B"/>
<rect x="384.41" y="710.55" width="4.97" height="4" fill="#B07AA1"/>
<rect x="389.22" y="710.55" width="5.62" height="4" fill="#F28E2B"/>
<rect x="394.7" y="710.55" width="1.24" height="4" fill="#B07AA1"/>
<rect x="395.79" y="710.55" width="5.33" height="4" fill="#4E79A7"/>
<rect x="354.5" y="715.45" width="6.41" height="4" fill="#E15759"/>
<rect x="360.76" y="715.45" width="7.81" height="4" fill="#76B7B2"/>
<rect x="368.42" y="715.45" width="3.87" height="4" fill="#B07AA1"/>
<rect x="372.14" y="715.45" width="1.9" height="4" fill="#F28E2B"/>
<rect x="373.9" y="715.45" width="2.34" height="4" fill="#E15759"/>
<rect x="376.09" y="715.45" width="3.43" height="4" fill="#F28E2B"/>
<rect x="379.37" y="715.45" width="5.62" height="4" fill="#B07AA1"/>
<rect x="384.84" y="715.45" width="2.34" height="4" fill="#4E79A7"/>
<rect x="387.03" y="715.45" width="6.72" height="4" fill="#B07AA1"/>
<rect x="393.6" y="715.45" width="7.52" height="4" fill="#4E79A7"/>
<rect x="354.5" y="720.5" width="16.92" height="4" fill="#B07AA1"/>
<rect x="371.27" y="720.5" width="3.87" height="4" fill="#76B7B2"/>
<rect x="374.99" y="720.5" width="5.19" height="4" fill="#EDC948"/>
<rect x="380.03" y="720.5" width="4.53" height="4" fill="#B07AA1"/>
<rect x="384.41" y="720.5" width="1.68" height="4" fill="#F28E2B"/>
<rect x="385.94" y="720.5" width="2.9" height="4" fill="#59A14F"/>
<rect x="354.5" y="725.4" width="16.92" height="4" fill="#B07AA1"/>
<rect x="371.27" y="725.4" width="3.87" height="4" fill="#76B7B2"/>
<rect x="374.99" y="725.4" width="1.68" height="4" fill="#B07AA1"/>
<rect x="376.52" y="725.4" width="1.46" height="4" fill="#E15759"/>
<rect x="377.84" y="725.4" width="2.78" height="4" fill="#B07AA1"/>
<rect x="380.47" y="725.4" width="3.43" height="4" fill="#F28E2B"/>
<rect x="383.75" y="725.4" width="5.09" height="4" fill="#E15759"/>
<rect x="354.5" y="730.45" width="2.47" height="4" fill="#F28E2B"/>
<rect x="356.82" y="730.45" width="22.05" height="4" fill="#B07AA1"/>
<rect x="378.71" y="730.45" width="5.19" height="4" fill="#4E79A7"/>
<rect x="383.75" y="730.45" width="6.72" height="4" fill="#B07AA1"/>
<rect x="390.32" y="730.45" width="1.83" height="4" fill="#4E79A7"/>
<rect x="354.5" y="735.35" width="9.04" height="4" fill="#B07AA1"/>
<rect x="363.39" y="735.35" width="11.75" height="4" fill="#76B7B2"/>
<rect x="374.99" y="735.35" width="6.72" height="4" fill="#B07AA1"/>
<rect x="381.56" y="735.35" width="3" height="4" fill="#4E79A7"/>
<rect x="384.41" y="735.35" width="7.74" height="4" fill="#E15759"/>
<rect x="358.27" y="740.4" width="5.93" height="4" fill="#4E79A7"/>
<rect x="364.04" y="740.4" width="5.62" height="4" fill="#B07AA1"/>
<rect x="369.52" y="740.4" width="3.43" height="4" fill="#E15759"/>
<rect x="372.8" y="740.4" width="5.62" height="4" fill="#B07AA1"/>
<rect x="378.28" y="740.4" width="3.9" height="4" fill="#4E79A7"/>
<rect x="358.27" y="745.3" width="5.27" height="4" fill="#B07AA1"/>
<rect x="363.39" y="745.3" width="1.9" height="4" fill="#F28E2B"/>
<rect x="365.14" y="745.3" width="8.91" height="4" fill="#E15759"/>
<rect x="373.9" y="745.3" width="4.09" height="4" fill="#B07AA1"/>
<rect x="377.84" y="745.3" width="1.68" height="4" fill="#E15759"/>
<rect x="379.37" y="745.3" width="2.81" height="4" fill="#B07AA1"/>
<rect x="361.16" y="750.35" width="11.79" height="4" fill="#E15759"/>
<rect x="372.8" y="750.35" width="4.53" height="4" fill="#4E79A7"/>
<rect x="377.18" y="750.35" width="5.62" height="4" fill="#76B7B2"/>
<rect x="382.65" y="750.35" width="1.72" height="4" fill="#F28E2B"/>
<rect x="361.16" y="755.25" width="7.41" height="4" fill="#E15759"/>
<rect x="368.42" y="755.25" width="9.57" height="4" fill="#B07AA1"/>
<rect x="377.84" y="755.25" width="2.34" height="4" fill="#76B7B2"/>
<rect x="380.03" y="755.25" width="4.35" height="4" fill="#B07AA1"/>
<rect x="318" y="540.45" width="187" height="0.9" fill="#d6d6d6"/>
<rect x="318" y="550.4" width="187" height="0.9" fill="#d6d6d6"/>
<rect x="318" y="560.35" width="187" height="0.9" fill="#d6d6d6"/>
<rect x="318" y="570.3" width="187" height="0.9" fill="#d6d6d6"/>
<rect x="318" y="580.25" width="187" height="0.9" fill="#d6d6d6"/>
<rect x="318" y="590.2" width="187" height="0.9" fill="#d6d6d6"/>
<rect x="318" y="600.15" width="187" height="0.9" fill="#d6d6d6"/>
<rect x="318" y="610.1" width="187" height="0.9" fill="#d6d6d6"/>
<rect x="318" y="620.05" width="187" height="0.9" fill="#d6d6d6"/>
<rect x="318" y="630" width="187" height="0.9" fill="#d6d6d6"/>
<rect x="318" y="639.95" width="187" height="0.9" fill="#d6d6d6"/>
<rect x="318" y="649.9" width="187" height="0.9" fill="#d6d6d6"/>
<rect x="318" y="659.85" width="187" height="0.9" fill="#d6d6d6"/>
<rect x="318" y="669.8" width="187" height="0.9" fill="#d6d6d6"/>
<rect x="318" y="679.75" width="187" height="0.9" fill="#d6d6d6"/>
<rect x="318" y="689.7" width="187" height="0.9" fill="#d6d6d6"/>
<rect x="318" y="699.65" width="187" height="0.9" fill="#d6d6d6"/>
<rect x="318" y="709.6" width="187" height="0.9" fill="#d6d6d6"/>
<rect x="318" y="719.55" width="187" height="0.9" fill="#d6d6d6"/>
<rect x="318" y="729.5" width="187" height="0.9" fill="#d6d6d6"/>
<rect x="318" y="739.45" width="187" height="0.9" fill="#d6d6d6"/>
<rect x="318" y="749.4" width="187" height="0.9" fill="#d6d6d6"/>
<rect x="318" y="759.35" width="187" height="0.9" fill="#d6d6d6"/>
<line x1="354.5" y1="540.9" x2="354.5" y2="759.8" stroke="#bbb" stroke-width="0.6" stroke-dasharray="1,1"/>
</g>
<g>
<rect x="505.5" y="541.4" width="3.78" height="4" fill="#4E79A7"/>
<rect x="509.13" y="541.4" width="1.68" height="4" fill="#F28E2B"/>
<rect x="510.66" y="541.4" width="4.53" height="4" fill="#B07AA1"/>
<rect x="515.04" y="541.4" width="1.68" height="4" fill="#76B7B2"/>
<rect x="516.58" y="541.4" width="10.66" height="4" fill="#4E79A7"/>
<rect x="527.09" y="541.4" width="1.24" height="4" fill="#EDC948"/>
<rect x="528.18" y="541.4" width="20.95" height="4" fill="#4E79A7"/>
<rect x="548.98" y="541.4" width="2.78" height="4" fill="#B07AA1"/>
<rect x="551.61" y="541.4" width="22.7" height="4" fill="#4E79A7"/>
<rect x="574.16" y="541.4" width="16.57" height="4" fill="#B07AA1"/>
<rect x="590.58" y="541.4" width="25.33" height="4" fill="#4E79A7"/>
<rect x="615.77" y="541.4" width="5.62" height="4" fill="#76B7B2"/>
<rect x="621.24" y="541.4" width="5.62" height="4" fill="#4E79A7"/>
<rect x="626.71" y="541.4" width="3.43" height="4" fill="#E15759"/>
<rect x="630" y="541.4" width="19.54" height="4" fill="#4E79A7"/>
<rect x="505.5" y="546.3" width="8.6" height="4" fill="#76B7B2"/>
<rect x="513.95" y="546.3" width="4.09" height="4" fill="#4E79A7"/>
<rect x="517.89" y="546.3" width="1.68" height="4" fill="#B07AA1"/>
<rect x="519.42" y="546.3" width="9.57" height="4" fill="#4E79A7"/>
<rect x="528.84" y="546.3" width="3.87" height="4" fill="#76B7B2"/>
<rect x="532.56" y="546.3" width="13.29" height="4" fill="#4E79A7"/>
<rect x="545.7" y="546.3" width="3.43" height="4" fill="#B07AA1"/>
<rect x="548.98" y="546.3" width="4.53" height="4" fill="#E15759"/>
<rect x="553.36" y="546.3" width="4.53" height="4" fill="#B07AA1"/>
<rect x="557.74" y="546.3" width="1.9" height="4" fill="#EDC948"/>
<rect x="559.49" y="546.3" width="1.68" height="4" fill="#B07AA1"/>
<rect x="561.02" y="546.3" width="1.24" height="4" fill="#4E79A7"/>
<rect x="562.12" y="546.3" width="4.53" height="4" fill="#B07AA1"/>
<rect x="566.5" y="546.3" width="22.05" height="4" fill="#4E79A7"/>
<rect x="588.4" y="546.3" width="2.34" height="4" fill="#EDC948"/>
<rect x="590.58" y="546.3" width="25.33" height="4" fill="#4E79A7"/>
<rect x="615.77" y="546.3" width="5.19" height="4" fill="#E15759"/>
<rect x="620.8" y="546.3" width="11.97" height="4" fill="#4E79A7"/>
<rect x="632.63" y="546.3" width="1.46" height="4" fill="#F28E2B"/>
<rect x="633.94" y="546.3" width="15.6" height="4" fill="#4E79A7"/>
<rect x="505.5" y="551.35" width="4.66" height="4" fill="#4E79A7"/>
<rect x="510.01" y="551.35" width="11.75" height="4" fill="#76B7B2"/>
<rect x="521.61" y="551.35" width="7.81" height="4" fill="#4E79A7"/>
<rect x="529.28" y="551.35" width="1.9" height="4" fill="#F28E2B"/>
<rect x="531.03" y="551.35" width="10.44" height="4" fill="#76B7B2"/>
<rect x="541.32" y="551.35" width="3.43" height="4" fill="#F28E2B"/>
<rect x="544.6" y="551.35" width="10" height="4" fill="#4E79A7"/>
<rect x="554.46" y="551.35" width="11.75" height="4" fill="#B07AA1"/>
<rect x="566.06" y="551.35" width="2.34" height="4" fill="#4E79A7"/>
<rect x="568.25" y="551.35" width="6.06" height="4" fill="#76B7B2"/>
<rect x="574.16" y="551.35" width="1.68" height="4" fill="#B07AA1"/>
<rect x="575.7" y="551.35" width="25.99" height="4" fill="#4E79A7"/>
<rect x="601.53" y="551.35" width="5.62" height="4" fill="#76B7B2"/>
<rect x="607.01" y="551.35" width="24.89" height="4" fill="#4E79A7"/>
<rect x="631.75" y="551.35" width="5.41" height="4" fill="#E15759"/>
<rect x="637" y="551.35" width="4.53" height="4" fill="#4E79A7"/>
<rect x="641.38" y="551.35" width="1.46" height="4" fill="#76B7B2"/>
<rect x="642.7" y="551.35" width="3.31" height="4" fill="#4E79A7"/>
<rect x="505.5" y="556.25" width="8.6" height="4" fill="#4E79A7"/>
<rect x="513.95" y="556.25" width="2.78" height="4" fill="#E15759"/>
<rect x="516.58" y="556.25" width="7.38" height="4" fill="#76B7B2"/>
<rect x="523.8" y="556.25" width="1.24" height="4" fill="#F28E2B"/>
<rect x="524.9" y="556.25" width="1.9" height="4" fill="#E15759"/>
<rect x="526.65" y="556.25" width="1.03" height="4" fill="#EDC948"/>
<rect x="527.52" y="556.25" width="8.03" height="4" fill="#4E79A7"/>
<rect x="535.41" y="556.25" width="1.03" height="4" fill="#EDC948"/>
<rect x="536.28" y="556.25" width="5.19" height="4" fill="#4E79A7"/>
<rect x="541.32" y="556.25" width="3.43" height="4" fill="#B07AA1"/>
<rect x="544.6" y="556.25" width="6.28" height="4" fill="#E15759"/>
<rect x="550.73" y="556.25" width="55.33" height="4" fill="#4E79A7"/>
<rect x="605.91" y="556.25" width="1.24" height="4" fill="#F28E2B"/>
<rect x="607.01" y="556.25" width="12.19" height="4" fill="#76B7B2"/>
<rect x="619.05" y="556.25" width="4.09" height="4" fill="#E15759"/>
<rect x="622.99" y="556.25" width="8.91" height="4" fill="#4E79A7"/>
<rect x="631.75" y="556.25" width="5.41" height="4" fill="#E15759"/>
<rect x="637" y="556.25" width="9" height="4" fill="#4E79A7"/>
<rect x="505.5" y="561.3" width="19.11" height="4" fill="#4E79A7"/>
<rect x="524.46" y="561.3" width="4.53" height="4" fill="#B07AA1"/>
<rect x="528.84" y="561.3" width="10.44" height="4" fill="#E15759"/>
<rect x="539.13" y="561.3" width="2.34" height="4" fill="#4E79A7"/>
<rect x="541.32" y="561.3" width="3.87" height="4" fill="#E15759"/>
<rect x="545.04" y="561.3" width="1.9" height="4" fill="#B07AA1"/>
<rect x="546.79" y="561.3" width="6.28" height="4" fill="#4E79A7"/>
<rect x="552.92" y="561.3" width="10.44" height="4" fill="#E15759"/>
<rect x="563.21" y="561.3" width="5.62" height="4" fill="#76B7B2"/>
<rect x="568.69" y="561.3" width="11.1" height="4" fill="#4E79A7"/>
<rect x="579.64" y="561.3" width="4.97" height="4" fill="#B07AA1"/>
<rect x="584.45" y="561.3" width="31.46" height="4" fill="#4E79A7"/>
<rect x="615.77" y="561.3" width="4.34" height="4" fill="#E15759"/>
<rect x="505.5" y="566.2" width="5.31" height="4" fill="#76B7B2"/>
<rect x="510.66" y="566.2" width="14.38" height="4" fill="#4E79A7"/>
<rect x="524.9" y="566.2" width="1.9" height="4" fill="#EDC948"/>
<rect x="526.65" y="566.2" width="2.78" height="4" fill="#76B7B2"/>
<rect x="529.28" y="566.2" width="18.76" height="4" fill="#4E79A7"/>
<rect x="547.89" y="566.2" width="6.06" height="4" fill="#E15759"/>
<rect x="553.8" y="566.2" width="9.57" height="4" fill="#B07AA1"/>
<rect x="563.21" y="566.2" width="12.19" height="4" fill="#4E79A7"/>
<rect x="575.26" y="566.2" width="3.43" height="4" fill="#B07AA1"/>
<rect x="578.54" y="566.2" width="30.15" height="4" fill="#4E79A7"/>
<rect x="608.54" y="566.2" width="1.9" height="4" fill="#B07AA1"/>
<rect x="610.29" y="566.2" width="9.81" height="4" fill="#4E79A7"/>
<rect x="505.5" y="571.25" width="3.78" height="4" fill="#76B7B2"/>
<rect x="509.13" y="571.25" width="1.68" height="4" fill="#B07AA1"/>
<rect x="510.66" y="571.25" width="5.62" height="4" fill="#76B7B2"/>
<rect x="516.14" y="571.25" width="23.14" height="4" fill="#4E79A7"/>
<rect x="539.13" y="571.25" width="2.34" height="4" fill="#B07AA1"/>
<rect x="541.32" y="571.25" width="5.19" height="4" fill="#4E79A7"/>
<rect x="546.35" y="571.25" width="3.87" height="4" fill="#B07AA1"/>
<rect x="550.08" y="571.25" width="23.14" height="4" fill="#4E79A7"/>
<rect x="573.07" y="571.25" width="9.35" height="4" fill="#B07AA1"/>
<rect x="582.26" y="571.25" width="4.09" height="4" fill="#76B7B2"/>
<rect x="586.21" y="571.25" width="2.78" height="4" fill="#EDC948"/>
<rect x="588.83" y="571.25" width="8.91" height="4" fill="#B07AA1"/>
<rect x="597.59" y="571.25" width="10.22" height="4" fill="#76B7B2"/>
<rect x="607.66" y="571.25" width="6.72" height="4" fill="#4E79A7"/>
<rect x="614.23" y="571.25" width="1.52" height="4" fill="#F28E2B"/>
<rect x="505.5" y="576.15" width="4.22" height="4" fill="#76B7B2"/>
<rect x="509.57" y="576.15" width="2.78" height="4" fill="#4E79A7"/>
<rect x="512.2" y="576.15" width="1.9" height="4" fill="#E15759"/>
<rect x="513.95" y="576.15" width="5.62" height="4" fill="#B07AA1"/>
<rect x="519.42" y="576.15" width="26.43" height="4" fill="#4E79A7"/>
<rect x="545.7" y="576.15" width="1.24" height="4" fill="#EDC948"/>
<rect x="546.79" y="576.15" width="1.9" height="4" fill="#B07AA1"/>
<rect x="548.54" y="576.15" width="3.87" height="4" fill="#F28E2B"/>
<rect x="552.27" y="576.15" width="14.82" height="4" fill="#4E79A7"/>
<rect x="566.94" y="576.15" width="16.79" height="4" fill="#B07AA1"/>
<rect x="583.58" y="576.15" width="8.91" height="4" fill="#EDC948"/>
<rect x="592.34" y="576.15" width="9.35" height="4" fill="#4E79A7"/>
<rect x="601.53" y="576.15" width="4.97" height="4" fill="#76B7B2"/>
<rect x="606.35" y="576.15" width="9.4" height="4" fill="#4E79A7"/>
<rect x="505.5" y="581.2" width="4.22" height="4" fill="#4E79A7"/>
<rect x="509.57" y="581.2" width="3.43" height="4" fill="#E15759"/>
<rect x="512.85" y="581.2" width="10.44" height="4" fill="#76B7B2"/>
<rect x="523.14" y="581.2" width="8.03" height="4" fill="#4E79A7"/>
<rect x="531.03" y="581.2" width="6.06" height="4" fill="#E15759"/>
<rect x="536.94" y="581.2" width="12.19" height="4" fill="#B07AA1"/>
<rect x="548.98" y="581.2" width="18.1" height="4" fill="#4E79A7"/>
<rect x="566.94" y="581.2" width="5.84" height="4" fill="#E15759"/>
<rect x="572.63" y="581.2" width="1.68" height="4" fill="#F28E2B"/>
<rect x="574.16" y="581.2" width="3.87" height="4" fill="#E15759"/>
<rect x="577.89" y="581.2" width="0.81" height="4" fill="#F28E2B"/>
<rect x="578.54" y="581.2" width="3.43" height="4" fill="#B07AA1"/>
<rect x="581.83" y="581.2" width="2.78" height="4" fill="#76B7B2"/>
<rect x="584.45" y="581.2" width="1.9" height="4" fill="#F28E2B"/>
<rect x="586.21" y="581.2" width="4.53" height="4" fill="#E15759"/>
<rect x="590.58" y="581.2" width="2.78" height="4" fill="#F28E2B"/>
<rect x="593.21" y="581.2" width="1.9" height="4" fill="#76B7B2"/>
<rect x="594.96" y="581.2" width="3.43" height="4" fill="#B07AA1"/>
<rect x="598.25" y="581.2" width="3.43" height="4" fill="#E15759"/>
<rect x="601.53" y="581.2" width="9.47" height="4" fill="#76B7B2"/>
<rect x="505.5" y="586.1" width="21.74" height="4" fill="#4E79A7"/>
<rect x="527.09" y="586.1" width="1.9" height="4" fill="#EDC948"/>
<rect x="528.84" y="586.1" width="2.34" height="4" fill="#76B7B2"/>
<rect x="531.03" y="586.1" width="18.1" height="4" fill="#B07AA1"/>
<rect x="548.98" y="586.1" width="18.1" height="4" fill="#4E79A7"/>
<rect x="566.94" y="586.1" width="4.09" height="4" fill="#E15759"/>
<rect x="570.88" y="586.1" width="1.9" height="4" fill="#EDC948"/>
<rect x="572.63" y="586.1" width="1.68" height="4" fill="#F28E2B"/>
<rect x="574.16" y="586.1" width="7.81" height="4" fill="#E15759"/>
<rect x="581.83" y="586.1" width="2.78" height="4" fill="#F28E2B"/>
<rect x="584.45" y="586.1" width="8.03" height="4" fill="#E15759"/>
<rect x="592.34" y="586.1" width="1.03" height="4" fill="#F28E2B"/>
<rect x="593.21" y="586.1" width="3" height="4" fill="#76B7B2"/>
<rect x="596.06" y="586.1" width="2.34" height="4" fill="#B07AA1"/>
<rect x="598.25" y="586.1" width="12.75" height="4" fill="#76B7B2"/>
<rect x="505.5" y="591.15" width="33.78" height="4" fill="#4E79A7"/>
<rect x="539.13" y="591.15" width="5.62" height="4" fill="#EDC948"/>
<rect x="544.6" y="591.15" width="4.09" height="4" fill="#F28E2B"/>
<rect x="548.54" y="591.15" width="3.22" height="4" fill="#E15759"/>
<rect x="551.61" y="591.15" width="4.09" height="4" fill="#76B7B2"/>
<rect x="555.55" y="591.15" width="4.97" height="4" fill="#B07AA1"/>
<rect x="560.37" y="591.15" width="8.47" height="4" fill="#76B7B2"/>
<rect x="568.69" y="591.15" width="13.73" height="4" fill="#4E79A7"/>
<rect x="582.26" y="591.15" width="17.23" height="4" fill="#76B7B2"/>
<rect x="599.34" y="591.15" width="5.29" height="4" fill="#E15759"/>
<rect x="505.5" y="596.05" width="21.3" height="4" fill="#4E79A7"/>
<rect x="526.65" y="596.05" width="2.34" height="4" fill="#B07AA1"/>
<rect x="528.84" y="596.05" width="9.78" height="4" fill="#4E79A7"/>
<rect x="538.47" y="596.05" width="5.84" height="4" fill="#EDC948"/>
<rect x="544.16" y="596.05" width="4.53" height="4" fill="#F28E2B"/>
<rect x="548.54" y="596.05" width="3.22" height="4" fill="#B07AA1"/>
<rect x="551.61" y="596.05" width="20.51" height="4" fill="#4E79A7"/>
<rect x="571.97" y="596.05" width="11.1" height="4" fill="#76B7B2"/>
<rect x="582.92" y="596.05" width="5.19" height="4" fill="#4E79A7"/>
<rect x="587.96" y="596.05" width="11.1" height="4" fill="#76B7B2"/>
<rect x="598.91" y="596.05" width="5.72" height="4" fill="#4E79A7"/>
<rect x="505.5" y="601.1" width="31.59" height="4" fill="#4E79A7"/>
<rect x="536.94" y="601.1" width="5.19" height="4" fill="#EDC948"/>
<rect x="541.98" y="601.1" width="35.18" height="4" fill="#4E79A7"/>
<rect x="577.01" y="601.1" width="4.53" height="4" fill="#E15759"/>
<rect x="581.39" y="601.1" width="2.34" height="4" fill="#76B7B2"/>
<rect x="583.58" y="601.1" width="14.62" height="4" fill="#4E79A7"/>
<rect x="505.5" y="606" width="4.22" height="4" fill="#76B7B2"/>
<rect x="509.57" y="606" width="9.35" height="4" fill="#4E79A7"/>
<rect x="518.77" y="606" width="6.28" height="4" fill="#76B7B2"/>
<rect x="524.9" y="606" width="11.1" height="4" fill="#4E79A7"/>
<rect x="535.84" y="606" width="6.28" height="4" fill="#B07AA1"/>
<rect x="541.98" y="606" width="22.92" height="4" fill="#4E79A7"/>
<rect x="564.75" y="606" width="4.09" height="4" fill="#B07AA1"/>
<rect x="568.69" y="606" width="3.43" height="4" fill="#4E79A7"/>
<rect x="571.97" y="606" width="10" height="4" fill="#E15759"/>
<rect x="581.83" y="606" width="3.43" height="4" fill="#B07AA1"/>
<rect x="585.11" y="606" width="10" height="4" fill="#76B7B2"/>
<rect x="594.96" y="606" width="3.23" height="4" fill="#4E79A7"/>
<rect x="505.5" y="611.05" width="4.66" height="4" fill="#4E79A7"/>
<rect x="510.01" y="611.05" width="2.34" height="4" fill="#E15759"/>
<rect x="512.2" y="611.05" width="8.91" height="4" fill="#4E79A7"/>
<rect x="520.95" y="611.05" width="5.84" height="4" fill="#F28E2B"/>
<rect x="526.65" y="611.05" width="7.16" height="4" fill="#4E79A7"/>
<rect x="533.65" y="611.05" width="2.34" height="4" fill="#F28E2B"/>
<rect x="535.84" y="611.05" width="6.28" height="4" fill="#4E79A7"/>
<rect x="541.98" y="611.05" width="6.06" height="4" fill="#E15759"/>
<rect x="547.89" y="611.05" width="6.72" height="4" fill="#76B7B2"/>
<rect x="554.46" y="611.05" width="10.44" height="4" fill="#4E79A7"/>
<rect x="564.75" y="611.05" width="4.09" height="4" fill="#76B7B2"/>
<rect x="568.69" y="611.05" width="3.43" height="4" fill="#B07AA1"/>
<rect x="571.97" y="611.05" width="17.94" height="4" fill="#4E79A7"/>
<rect x="505.5" y="615.95" width="5.97" height="4" fill="#4E79A7"/>
<rect x="511.32" y="615.95" width="1.68" height="4" fill="#B07AA1"/>
<rect x="512.85" y="615.95" width="8.25" height="4" fill="#4E79A7"/>
<rect x="520.95" y="615.95" width="5.84" height="4" fill="#F28E2B"/>
<rect x="526.65" y="615.95" width="4.97" height="4" fill="#4E79A7"/>
<rect x="531.47" y="615.95" width="4.53" height="4" fill="#59A14F"/>
<rect x="535.84" y="615.95" width="4.09" height="4" fill="#4E79A7"/>
<rect x="539.79" y="615.95" width="4.97" height="4" fill="#B07AA1"/>
<rect x="544.6" y="615.95" width="3.43" height="4" fill="#4E79A7"/>
<rect x="547.89" y="615.95" width="4.53" height="4" fill="#EDC948"/>
<rect x="552.27" y="615.95" width="16.57" height="4" fill="#4E79A7"/>
<rect x="568.69" y="615.95" width="2.34" height="4" fill="#76B7B2"/>
<rect x="570.88" y="615.95" width="15.04" height="4" fill="#4E79A7"/>
<rect x="585.77" y="615.95" width="1.03" height="4" fill="#F28E2B"/>
<rect x="586.64" y="615.95" width="3.27" height="4" fill="#76B7B2"/>
<rect x="505.5" y="621" width="6.41" height="4" fill="#4E79A7"/>
<rect x="511.76" y="621" width="2.78" height="4" fill="#F28E2B"/>
<rect x="514.39" y="621" width="3.65" height="4" fill="#E15759"/>
<rect x="517.89" y="621" width="4.53" height="4" fill="#4E79A7"/>
<rect x="522.27" y="621" width="21.39" height="4" fill="#76B7B2"/>
<rect x="543.51" y="621" width="3.43" height="4" fill="#E15759"/>
<rect x="546.79" y="621" width="18.76" height="4" fill="#4E79A7"/>
<rect x="565.4" y="621" width="3.43" height="4" fill="#76B7B2"/>
<rect x="568.69" y="621" width="12.19" height="4" fill="#4E79A7"/>
<rect x="580.73" y="621" width="3.43" height="4" fill="#76B7B2"/>
<rect x="584.02" y="621" width="1.89" height="4" fill="#4E79A7"/>
<rect x="505.5" y="625.9" width="3.12" height="4" fill="#4E79A7"/>
<rect x="508.47" y="625.9" width="2.34" height="4" fill="#B07AA1"/>
<rect x="510.66" y="625.9" width="3.87" height="4" fill="#E15759"/>
<rect x="514.39" y="625.9" width="2.34" height="4" fill="#F28E2B"/>
<rect x="516.58" y="625.9" width="27.08" height="4" fill="#76B7B2"/>
<rect x="543.51" y="625.9" width="16.13" height="4" fill="#4E79A7"/>
<rect x="559.49" y="625.9" width="2.34" height="4" fill="#E15759"/>
<rect x="561.68" y="625.9" width="4.53" height="4" fill="#4E79A7"/>
<rect x="566.06" y="625.9" width="3.87" height="4" fill="#76B7B2"/>
<rect x="569.78" y="625.9" width="13.94" height="4" fill="#4E79A7"/>
<rect x="583.58" y="625.9" width="2.33" height="4" fill="#76B7B2"/>
<rect x="505.5" y="630.95" width="2.47" height="4" fill="#E15759"/>
<rect x="507.82" y="630.95" width="4.09" height="4" fill="#F28E2B"/>
<rect x="511.76" y="630.95" width="18.76" height="4" fill="#4E79A7"/>
<rect x="530.37" y="630.95" width="5.62" height="4" fill="#76B7B2"/>
<rect x="535.84" y="630.95" width="4.97" height="4" fill="#B07AA1"/>
<rect x="540.66" y="630.95" width="3" height="4" fill="#F28E2B"/>
<rect x="543.51" y="630.95" width="29.27" height="4" fill="#4E79A7"/>
<rect x="572.63" y="630.95" width="1.03" height="4" fill="#F28E2B"/>
<rect x="573.51" y="630.95" width="9.62" height="4" fill="#4E79A7"/>
<rect x="505.5" y="635.85" width="3.78" height="4" fill="#E15759"/>
<rect x="509.13" y="635.85" width="2.34" height="4" fill="#F28E2B"/>
<rect x="511.32" y="635.85" width="6.72" height="4" fill="#4E79A7"/>
<rect x="517.89" y="635.85" width="7.16" height="4" fill="#B07AA1"/>
<rect x="524.9" y="635.85" width="7.81" height="4" fill="#4E79A7"/>
<rect x="532.56" y="635.85" width="5.62" height="4" fill="#76B7B2"/>
<rect x="538.03" y="635.85" width="2.78" height="4" fill="#4E79A7"/>
<rect x="540.66" y="635.85" width="4.09" height="4" fill="#F28E2B"/>
<rect x="544.6" y="635.85" width="7.81" height="4" fill="#4E79A7"/>
<rect x="552.27" y="635.85" width="3.43" height="4" fill="#76B7B2"/>
<rect x="555.55" y="635.85" width="27.58" height="4" fill="#4E79A7"/>
<rect x="505.5" y="640.9" width="4.22" height="4" fill="#EDC948"/>
<rect x="509.57" y="640.9" width="6.72" height="4" fill="#4E79A7"/>
<rect x="516.14" y="640.9" width="3.43" height="4" fill="#E15759"/>
<rect x="519.42" y="640.9" width="7.38" height="4" fill="#4E79A7"/>
<rect x="526.65" y="640.9" width="21.39" height="4" fill="#B07AA1"/>
<rect x="547.89" y="640.9" width="4.53" height="4" fill="#4E79A7"/>
<rect x="552.27" y="640.9" width="3.43" height="4" fill="#B07AA1"/>
<rect x="555.55" y="640.9" width="5.62" height="4" fill="#4E79A7"/>
<rect x="561.02" y="640.9" width="3.43" height="4" fill="#B07AA1"/>
<rect x="564.31" y="640.9" width="5.62" height="4" fill="#EDC948"/>
<rect x="569.78" y="640.9" width="7.81" height="4" fill="#76B7B2"/>
<rect x="577.45" y="640.9" width="7.07" height="4" fill="#4E79A7"/>
<rect x="505.5" y="645.8" width="2.47" height="4" fill="#EDC948"/>
<rect x="507.82" y="645.8" width="4.09" height="4" fill="#B07AA1"/>
<rect x="511.76" y="645.8" width="16.57" height="4" fill="#4E79A7"/>
<rect x="528.18" y="645.8" width="1.24" height="4" fill="#EDC948"/>
<rect x="529.28" y="645.8" width="11.1" height="4" fill="#B07AA1"/>
<rect x="540.22" y="645.8" width="15.92" height="4" fill="#4E79A7"/>
<rect x="555.99" y="645.8" width="4.53" height="4" fill="#B07AA1"/>
<rect x="560.37" y="645.8" width="8.47" height="4" fill="#4E79A7"/>
<rect x="568.69" y="645.8" width="7.81" height="4" fill="#76B7B2"/>
<rect x="576.35" y="645.8" width="1.68" height="4" fill="#B07AA1"/>
<rect x="577.89" y="645.8" width="6.63" height="4" fill="#4E79A7"/>
<rect x="505.5" y="650.85" width="6.41" height="4" fill="#76B7B2"/>
<rect x="511.76" y="650.85" width="6.28" height="4" fill="#4E79A7"/>
<rect x="517.89" y="650.85" width="2.78" height="4" fill="#F28E2B"/>
<rect x="520.52" y="650.85" width="17.67" height="4" fill="#4E79A7"/>
<rect x="538.03" y="650.85" width="6.72" height="4" fill="#76B7B2"/>
<rect x="544.6" y="650.85" width="4.97" height="4" fill="#4E79A7"/>
<rect x="549.42" y="650.85" width="3" height="4" fill="#B07AA1"/>
<rect x="552.27" y="650.85" width="13.29" height="4" fill="#4E79A7"/>
<rect x="565.4" y="650.85" width="8.91" height="4" fill="#76B7B2"/>
<rect x="574.16" y="650.85" width="3.87" height="4" fill="#B07AA1"/>
<rect x="577.89" y="650.85" width="4.84" height="4" fill="#4E79A7"/>
<rect x="505.5" y="655.75" width="2.47" height="4" fill="#76B7B2"/>
<rect x="507.82" y="655.75" width="4.09" height="4" fill="#B07AA1"/>
<rect x="511.76" y="655.75" width="10.66" height="4" fill="#4E79A7"/>
<rect x="522.27" y="655.75" width="7.16" height="4" fill="#B07AA1"/>
<rect x="529.28" y="655.75" width="10.66" height="4" fill="#4E79A7"/>
<rect x="539.79" y="655.75" width="4.97" height="4" fill="#76B7B2"/>
<rect x="544.6" y="655.75" width="23.14" height="4" fill="#4E79A7"/>
<rect x="567.59" y="655.75" width="7.81" height="4" fill="#76B7B2"/>
<rect x="575.26" y="655.75" width="1.9" height="4" fill="#B07AA1"/>
<rect x="577.01" y="655.75" width="5.71" height="4" fill="#4E79A7"/>
<rect x="514.77" y="660.8" width="14.22" height="4" fill="#4E79A7"/>
<rect x="528.84" y="660.8" width="10.44" height="4" fill="#B07AA1"/>
<rect x="539.13" y="660.8" width="7.81" height="4" fill="#4E79A7"/>
<rect x="546.79" y="660.8" width="11.1" height="4" fill="#76B7B2"/>
<rect x="557.74" y="660.8" width="2.34" height="4" fill="#B07AA1"/>
<rect x="559.93" y="660.8" width="12.42" height="4" fill="#4E79A7"/>
<rect x="514.77" y="665.7" width="4.8" height="4" fill="#4E79A7"/>
<rect x="519.42" y="665.7" width="1.24" height="4" fill="#F28E2B"/>
<rect x="520.52" y="665.7" width="4.53" height="4" fill="#4E79A7"/>
<rect x="524.9" y="665.7" width="7.81" height="4" fill="#E15759"/>
<rect x="532.56" y="665.7" width="6.72" height="4" fill="#4E79A7"/>
<rect x="539.13" y="665.7" width="1.68" height="4" fill="#F28E2B"/>
<rect x="540.66" y="665.7" width="31.69" height="4" fill="#4E79A7"/>
<rect x="514.77" y="670.75" width="12.03" height="4" fill="#B07AA1"/>
<rect x="526.65" y="670.75" width="4.53" height="4" fill="#76B7B2"/>
<rect x="531.03" y="670.75" width="1.68" height="4" fill="#E15759"/>
<rect x="532.56" y="670.75" width="15.48" height="4" fill="#4E79A7"/>
<rect x="547.89" y="670.75" width="1.24" height="4" fill="#F28E2B"/>
<rect x="548.98" y="670.75" width="14.38" height="4" fill="#4E79A7"/>
<rect x="563.21" y="670.75" width="4.73" height="4" fill="#B07AA1"/>
<rect x="514.77" y="675.65" width="33.27" height="4" fill="#4E79A7"/>
<rect x="547.89" y="675.65" width="1.24" height="4" fill="#F28E2B"/>
<rect x="548.98" y="675.65" width="14.38" height="4" fill="#4E79A7"/>
<rect x="563.21" y="675.65" width="4.73" height="4" fill="#B07AA1"/>
<rect x="514.77" y="680.7" width="13.56" height="4" fill="#4E79A7"/>
<rect x="528.18" y="680.7" width="5.19" height="4" fill="#76B7B2"/>
<rect x="533.22" y="680.7" width="2.34" height="4" fill="#B07AA1"/>
<rect x="535.41" y="680.7" width="17.01" height="4" fill="#4E79A7"/>
<rect x="552.27" y="680.7" width="6.72" height="4" fill="#76B7B2"/>
<rect x="558.84" y="680.7" width="6.04" height="4" fill="#4E79A7"/>
<rect x="514.77" y="685.6" width="3.71" height="4" fill="#B07AA1"/>
<rect x="518.33" y="685.6" width="1.9" height="4" fill="#76B7B2"/>
<rect x="520.08" y="685.6" width="8.25" height="4" fill="#4E79A7"/>
<rect x="528.18" y="685.6" width="7.81" height="4" fill="#B07AA1"/>
<rect x="535.84" y="685.6" width="6.28" height="4" fill="#4E79A7"/>
<rect x="541.98" y="685.6" width="1.68" height="4" fill="#76B7B2"/>
<rect x="543.51" y="685.6" width="10" height="4" fill="#4E79A7"/>
<rect x="553.36" y="685.6" width="2.34" height="4" fill="#76B7B2"/>
<rect x="555.55" y="685.6" width="1.9" height="4" fill="#B07AA1"/>
<rect x="557.3" y="685.6" width="7.57" height="4" fill="#4E79A7"/>
<rect x="505.5" y="690.65" width="52.25" height="4" fill="#4E79A7"/>
<rect x="505.5" y="695.55" width="7.5" height="4" fill="#76B7B2"/>
<rect x="512.85" y="695.55" width="2.34" height="4" fill="#B07AA1"/>
<rect x="515.04" y="695.55" width="42.7" height="4" fill="#4E79A7"/>
<rect x="505.5" y="700.6" width="2.03" height="4" fill="#76B7B2"/>
<rect x="507.38" y="700.6" width="5.62" height="4" fill="#B07AA1"/>
<rect x="512.85" y="700.6" width="3.43" height="4" fill="#76B7B2"/>
<rect x="516.14" y="700.6" width="6.72" height="4" fill="#4E79A7"/>
<rect x="522.71" y="700.6" width="1.9" height="4" fill="#EDC948"/>
<rect x="524.46" y="700.6" width="12.63" height="4" fill="#4E79A7"/>
<rect x="536.94" y="700.6" width="6.72" height="4" fill="#76B7B2"/>
<rect x="543.51" y="700.6" width="2.34" height="4" fill="#EDC948"/>
<rect x="545.7" y="700.6" width="3.43" height="4" fill="#76B7B2"/>
<rect x="548.98" y="700.6" width="3.43" height="4" fill="#EDC948"/>
<rect x="552.27" y="700.6" width="1.89" height="4" fill="#B07AA1"/>
<rect x="505.5" y="705.5" width="7.5" height="4" fill="#4E79A7"/>
<rect x="512.85" y="705.5" width="1.24" height="4" fill="#F28E2B"/>
<rect x="513.95" y="705.5" width="8.47" height="4" fill="#76B7B2"/>
<rect x="522.27" y="705.5" width="13.73" height="4" fill="#4E79A7"/>
<rect x="535.84" y="705.5" width="1.24" height="4" fill="#E15759"/>
<rect x="536.94" y="705.5" width="7.81" height="4" fill="#4E79A7"/>
<rect x="544.6" y="705.5" width="3.43" height="4" fill="#76B7B2"/>
<rect x="547.89" y="705.5" width="6.27" height="4" fill="#B07AA1"/>
<rect x="505.5" y="710.55" width="14.07" height="4" fill="#4E79A7"/>
<rect x="519.42" y="710.55" width="3.43" height="4" fill="#76B7B2"/>
<rect x="522.71" y="710.55" width="6.72" height="4" fill="#E15759"/>
<rect x="529.28" y="710.55" width="6.72" height="4" fill="#4E79A7"/>
<rect x="535.84" y="710.55" width="4.97" height="4" fill="#F28E2B"/>
<rect x="540.66" y="710.55" width="4.09" height="4" fill="#4E79A7"/>
<rect x="544.6" y="710.55" width="2.34" height="4" fill="#F28E2B"/>
<rect x="546.79" y="710.55" width="2.34" height="4" fill="#B07AA1"/>
<rect x="548.98" y="710.55" width="3.14" height="4" fill="#F28E2B"/>
<rect x="505.5" y="715.45" width="4.22" height="4" fill="#E15759"/>
<rect x="509.57" y="715.45" width="2.34" height="4" fill="#4E79A7"/>
<rect x="511.76" y="715.45" width="12.19" height="4" fill="#F28E2B"/>
<rect x="523.8" y="715.45" width="5.19" height="4" fill="#4E79A7"/>
<rect x="528.84" y="715.45" width="6.72" height="4" fill="#76B7B2"/>
<rect x="535.41" y="715.45" width="1.68" height="4" fill="#E15759"/>
<rect x="536.94" y="715.45" width="3.87" height="4" fill="#4E79A7"/>
<rect x="540.66" y="715.45" width="3" height="4" fill="#F28E2B"/>
<rect x="543.51" y="715.45" width="3.43" height="4" fill="#4E79A7"/>
<rect x="546.79" y="715.45" width="1.24" height="4" fill="#F28E2B"/>
<rect x="547.89" y="715.45" width="4.24" height="4" fill="#4E79A7"/>
<rect x="505.5" y="720.5" width="1.59" height="4" fill="#76B7B2"/>
<rect x="506.94" y="720.5" width="1.03" height="4" fill="#4E79A7"/>
<rect x="507.82" y="720.5" width="3" height="4" fill="#76B7B2"/>
<rect x="510.66" y="720.5" width="19.86" height="4" fill="#4E79A7"/>
<rect x="530.37" y="720.5" width="3.43" height="4" fill="#E15759"/>
<rect x="533.65" y="720.5" width="6.19" height="4" fill="#4E79A7"/>
<rect x="505.5" y="725.4" width="2.47" height="4" fill="#4E79A7"/>
<rect x="507.82" y="725.4" width="6.28" height="4" fill="#76B7B2"/>
<rect x="513.95" y="725.4" width="2.78" height="4" fill="#4E79A7"/>
<rect x="516.58" y="725.4" width="6.28" height="4" fill="#E15759"/>
<rect x="522.71" y="725.4" width="2.34" height="4" fill="#4E79A7"/>
<rect x="524.9" y="725.4" width="1.9" height="4" fill="#76B7B2"/>
<rect x="526.65" y="725.4" width="3.87" height="4" fill="#4E79A7"/>
<rect x="530.37" y="725.4" width="3.43" height="4" fill="#B07AA1"/>
<rect x="533.65" y="725.4" width="6.19" height="4" fill="#4E79A7"/>
<rect x="505.5" y="730.45" width="37.64" height="4" fill="#4E79A7"/>
<rect x="505.5" y="735.35" width="23.93" height="4" fill="#4E79A7"/>
<rect x="529.28" y="735.35" width="1.24" height="4" fill="#F28E2B"/>
<rect x="530.37" y="735.35" width="5.19" height="4" fill="#4E79A7"/>
<rect x="535.41" y="735.35" width="1.03" height="4" fill="#F28E2B"/>
<rect x="536.28" y="735.35" width="6.86" height="4" fill="#4E79A7"/>
<rect x="509.27" y="740.4" width="8.12" height="4" fill="#4E79A7"/>
<rect x="517.23" y="740.4" width="1.24" height="4" fill="#E15759"/>
<rect x="518.33" y="740.4" width="14.85" height="4" fill="#4E79A7"/>
<rect x="509.27" y="745.3" width="4.83" height="4" fill="#E15759"/>
<rect x="513.95" y="745.3" width="3.43" height="4" fill="#4E79A7"/>
<rect x="517.23" y="745.3" width="1.68" height="4" fill="#E15759"/>
<rect x="518.77" y="745.3" width="14.41" height="4" fill="#4E79A7"/>
<rect x="512.16" y="750.35" width="4.12" height="4" fill="#76B7B2"/>
<rect x="516.14" y="750.35" width="9.35" height="4" fill="#E15759"/>
<rect x="525.33" y="750.35" width="10.04" height="4" fill="#4E79A7"/>
<rect x="512.16" y="755.25" width="4.12" height="4" fill="#76B7B2"/>
<rect x="516.14" y="755.25" width="2.34" height="4" fill="#E15759"/>
<rect x="518.33" y="755.25" width="17.05" height="4" fill="#4E79A7"/>
<rect x="505" y="540.45" width="151.7" height="0.9" fill="#d6d6d6"/>
<rect x="505" y="550.4" width="151.7" height="0.9" fill="#d6d6d6"/>
<rect x="505" y="560.35" width="151.7" height="0.9" fill="#d6d6d6"/>
<rect x="505" y="570.3" width="151.7" height="0.9" fill="#d6d6d6"/>
<rect x="505" y="580.25" width="151.7" height="0.9" fill="#d6d6d6"/>
<rect x="505" y="590.2" width="151.7" height="0.9" fill="#d6d6d6"/>
<rect x="505" y="600.15" width="151.7" height="0.9" fill="#d6d6d6"/>
<rect x="505" y="610.1" width="151.7" height="0.9" fill="#d6d6d6"/>
<rect x="505" y="620.05" width="151.7" height="0.9" fill="#d6d6d6"/>
<rect x="505" y="630" width="151.7" height="0.9" fill="#d6d6d6"/>
<rect x="505" y="639.95" width="151.7" height="0.9" fill="#d6d6d6"/>
<rect x="505" y="649.9" width="151.7" height="0.9" fill="#d6d6d6"/>
<rect x="505" y="659.85" width="151.7" height="0.9" fill="#d6d6d6"/>
<rect x="505" y="669.8" width="151.7" height="0.9" fill="#d6d6d6"/>
<rect x="505" y="679.75" width="151.7" height="0.9" fill="#d6d6d6"/>
<rect x="505" y="689.7" width="151.7" height="0.9" fill="#d6d6d6"/>
<rect x="505" y="699.65" width="151.7" height="0.9" fill="#d6d6d6"/>
<rect x="505" y="709.6" width="151.7" height="0.9" fill="#d6d6d6"/>
<rect x="505" y="719.55" width="151.7" height="0.9" fill="#d6d6d6"/>
<rect x="505" y="729.5" width="151.7" height="0.9" fill="#d6d6d6"/>
<rect x="505" y="739.45" width="151.7" height="0.9" fill="#d6d6d6"/>
<rect x="505" y="749.4" width="151.7" height="0.9" fill="#d6d6d6"/>
<rect x="505" y="759.35" width="151.7" height="0.9" fill="#d6d6d6"/>
<line x1="505.5" y1="540.9" x2="505.5" y2="759.8" stroke="#bbb" stroke-width="0.6" stroke-dasharray="1,1"/>
</g>
<text x="322.8" y="549.5" font-size="10" text-anchor="start" font-weight="normal" fill="#222">1</text>
<text x="322.8" y="559.45" font-size="10" text-anchor="start" font-weight="normal" fill="#222">2</text>
<text x="322.8" y="569.4" font-size="10" text-anchor="start" font-weight="normal" fill="#222">3</text>
<text x="322.8" y="579.35" font-size="10" text-anchor="start" font-weight="normal" fill="#222">4</text>
<text x="322.8" y="589.3" font-size="10" text-anchor="start" font-weight="normal" fill="#222">5</text>
<text x="322.8" y="599.25" font-size="10" text-anchor="start" font-weight="normal" fill="#222">6</text>
<text x="322.8" y="609.2" font-size="10" text-anchor="start" font-weight="normal" fill="#222">7</text>
<text x="322.8" y="619.15" font-size="10" text-anchor="start" font-weight="normal" fill="#222">8</text>
<text x="322.8" y="629.1" font-size="10" text-anchor="start" font-weight="normal" fill="#222">9</text>
<text x="322.8" y="639.05" font-size="10" text-anchor="start" font-weight="normal" fill="#222">10</text>
<text x="322.8" y="649" font-size="10" text-anchor="start" font-weight="normal" fill="#222">11</text>
<text x="322.8" y="658.95" font-size="10" text-anchor="start" font-weight="normal" fill="#222">12</text>
<text x="322.8" y="668.9" font-size="10" text-anchor="start" font-weight="normal" fill="#222">13</text>
<text x="322.8" y="678.85" font-size="10" text-anchor="start" font-weight="normal" fill="#222">14</text>
<text x="322.8" y="688.8" font-size="10" text-anchor="start" font-weight="normal" fill="#222">15</text>
<text x="322.8" y="698.75" font-size="10" text-anchor="start" font-weight="normal" fill="#222">16</text>
<text x="322.8" y="708.7" font-size="10" text-anchor="start" font-weight="normal" fill="#222">17</text>
<text x="322.8" y="718.65" font-size="10" text-anchor="start" font-weight="normal" fill="#222">18</text>
<text x="322.8" y="728.6" font-size="10" text-anchor="start" font-weight="normal" fill="#222">19</text>
<text x="322.8" y="738.55" font-size="10" text-anchor="start" font-weight="normal" fill="#222">20</text>
<text x="322.8" y="748.5" font-size="10" text-anchor="start" font-weight="normal" fill="#222">21</text>
<text x="322.8" y="758.45" font-size="10" text-anchor="start" font-weight="normal" fill="#222">22</text>
<rect x="412.05" y="760.2" width="0.8" height="2.4" fill="#555"/>
<text x="413.95" y="772.8" font-size="9" text-anchor="middle" font-weight="normal" fill="#222">100 M</text>
<rect x="470" y="760.2" width="0.8" height="2.4" fill="#555"/>
<text x="471.9" y="772.8" font-size="9" text-anchor="middle" font-weight="normal" fill="#222">200 M</text>
<text x="430.5" y="788.3" font-size="10.3" text-anchor="middle" font-weight="normal" fill="#222">Position</text>
<rect x="563.05" y="760.2" width="0.8" height="2.4" fill="#555"/>
<text x="564.95" y="772.8" font-size="9" text-anchor="middle" font-weight="normal" fill="#222">100 M</text>
<rect x="621" y="760.2" width="0.8" height="2.4" fill="#555"/>
<text x="622.9" y="772.8" font-size="9" text-anchor="middle" font-weight="normal" fill="#222">200 M</text>
<text x="581.5" y="788.3" font-size="10.3" text-anchor="middle" font-weight="normal" fill="#222">Position</text>
<defs><clipPath id="mapclip"><rect x="15" y="4" width="254" height="193.4"/></clipPath>
<clipPath id="landclip"><path d="M10,47.9 L15,47.91 L22.47,48.84 L29.95,51.65 L35.55,54.45 L39.29,48.84 L44.9,46.6 L50.5,48.47 L56.11,51.65 L63.58,52.95 L71.05,54.07 L78.53,52.21 L86,52.95 L91.61,56.32 L93.48,51.65 L94.34,50.36 L95.22,47.45 L95.8,42.77 L96.39,38.69 L96.97,34.6 L97.55,30.51 L98.14,28.18 L97.4,29.6 L93.4,28.5 L89.3,28 L84.2,27.5 L79,28.5 L75,30.1 L70.9,28.5 L65.8,24.4 L63.7,20.4 L60.7,17.3 L61.7,11.2 L62.5,9.5 L60.7,7.4 L57.8,8.8 L54.9,8.1 L52,10.3 L47.6,11.8 L48.3,15.4 L51.2,18.3 L54.1,21.2 L52.7,22 L48.3,21.2 L49.8,24.2 L48.3,27.1 L46.1,27.8 L43.9,26.4 L42.5,23.4 L43.2,20.5 L41,17.6 L38.8,13.9 L36.6,8.8 L35.9,4.1 L35.9,-5 L280,-5 L280,109.3 L259.7,115 L257.8,131.8 L249.4,143 L243.8,132.7 L237.3,118.7 L233.6,105.6 L231.3,100 L230.6,91.6 L228.4,90.1 L222.6,87.2 L218.2,82.8 L215.3,79.9 L209.4,78.5 L200,77.6 L193.4,78.1 L187.2,77.6 L181.1,77.1 L176,76.1 L173.9,74 L172.9,70.4 L171.4,77.6 L172.9,80.7 L175,82.7 L179,86.8 L183.1,88.8 L181.1,92.9 L177,100 L173.6,102.3 L166.3,106.7 L159,111.1 L151.7,115.5 L145.8,118.4 L140,121.3 L132,124 L125,125.2 L121.5,131 L128.5,134.5 L136.7,131.6 L144.9,131 L151.3,129.8 L151.9,132.2 L149.6,139.2 L146,147.3 L139,156.7 L129.7,166 L120.4,176.5 L113.4,184.7 L107.5,191.7 L106.4,198 L106,205 L10,205ZM10,-5 L24,-5 L23.5,4.1 L24.2,6.6 L28.6,9.6 L31.5,11.8 L31.9,13.6 L30.4,12.9 L27.9,11 L25.7,13.2 L26.4,15.4 L27.5,16.9 L24.9,18.3 L23.5,20.5 L22,22 L21.3,21.6 L23.5,17.6 L22.8,15.4 L20.6,12.5 L16.9,9.6 L15.5,8.8 L10,8.8ZM10,22.7 L20.6,22 L21.3,24.2 L19.1,27.1 L16.9,27.8 L10,26.4Z"/></clipPath></defs>
<g clip-path="url(#mapclip)">
<rect x="15" y="4" width="254" height="193.4" fill="#75CDF0"/>
<path d="M10,47.9 L15,47.91 L22.47,48.84 L29.95,51.65 L35.55,54.45 L39.29,48.84 L44.9,46.6 L50.5,48.47 L56.11,51.65 L63.58,52.95 L71.05,54.07 L78.53,52.21 L86,52.95 L91.61,56.32 L93.48,51.65 L94.34,50.36 L95.22,47.45 L95.8,42.77 L96.39,38.69 L96.97,34.6 L97.55,30.51 L98.14,28.18 L97.4,29.6 L93.4,28.5 L89.3,28 L84.2,27.5 L79,28.5 L75,30.1 L70.9,28.5 L65.8,24.4 L63.7,20.4 L60.7,17.3 L61.7,11.2 L62.5,9.5 L60.7,7.4 L57.8,8.8 L54.9,8.1 L52,10.3 L47.6,11.8 L48.3,15.4 L51.2,18.3 L54.1,21.2 L52.7,22 L48.3,21.2 L49.8,24.2 L48.3,27.1 L46.1,27.8 L43.9,26.4 L42.5,23.4 L43.2,20.5 L41,17.6 L38.8,13.9 L36.6,8.8 L35.9,4.1 L35.9,-5 L280,-5 L280,109.3 L259.7,115 L257.8,131.8 L249.4,143 L243.8,132.7 L237.3,118.7 L233.6,105.6 L231.3,100 L230.6,91.6 L228.4,90.1 L222.6,87.2 L218.2,82.8 L215.3,79.9 L209.4,78.5 L200,77.6 L193.4,78.1 L187.2,77.6 L181.1,77.1 L176,76.1 L173.9,74 L172.9,70.4 L171.4,77.6 L172.9,80.7 L175,82.7 L179,86.8 L183.1,88.8 L181.1,92.9 L177,100 L173.6,102.3 L166.3,106.7 L159,111.1 L151.7,115.5 L145.8,118.4 L140,121.3 L132,124 L125,125.2 L121.5,131 L128.5,134.5 L136.7,131.6 L144.9,131 L151.3,129.8 L151.9,132.2 L149.6,139.2 L146,147.3 L139,156.7 L129.7,166 L120.4,176.5 L113.4,184.7 L107.5,191.7 L106.4,198 L106,205 L10,205ZM10,-5 L24,-5 L23.5,4.1 L24.2,6.6 L28.6,9.6 L31.5,11.8 L31.9,13.6 L30.4,12.9 L27.9,11 L25.7,13.2 L26.4,15.4 L27.5,16.9 L24.9,18.3 L23.5,20.5 L22,22 L21.3,21.6 L23.5,17.6 L22.8,15.4 L20.6,12.5 L16.9,9.6 L15.5,8.8 L10,8.8ZM10,22.7 L20.6,22 L21.3,24.2 L19.1,27.1 L16.9,27.8 L10,26.4Z" fill="#F0E9E3"/>
<g clip-path="url(#landclip)">
<path d="M10,-5 L145,-5 L145,24 L130,26 L115,26.5 L100,29.5 L60,40 L10,40Z" fill="#E4ECC8"/>
<path d="M113,26 L125,22 L140,24 L150,30 L160,40 L170,52 L180,64 L186,72 L186,80 L175,78 L162,70 L150,60 L138,50 L126,42 L118,36Z" fill="#E4ECC8"/>
<path d="M150,25 L165,30 L175,26 L186,28 L190,34 L178,38 L160,37Z" fill="#E4ECC8"/>
<path d="M205,-5 L280,-5 L280,20 L255,16 L240,22 L226,20 L212,22 L205,12Z" fill="#E4ECC8"/>
<path d="M226,36 L236,30 L250,32 L265,45 L280,50 L280,115 L259.7,115 L257.8,131.8 L249.4,143 L243.8,132.7 L237.3,118.7 L233.6,105.6 L231,95 L226,86 L222,70 L224,52Z" fill="#E4ECC8"/>
<path d="M10,115.7 L48,115.7 L53,112 L62,118 L100,118 L110,121 L118,124 L122,128 L128.5,134.5 L136.7,131.6 L144.9,131 L151.3,129.8 L151.9,132.2 L149.6,139.2 L146,147.3 L139,156.7 L129.7,166 L120.4,176.5 L113.4,184.7 L107.5,191.7 L106.4,198 L106,205 L10,205Z" fill="#E4ECC8"/>
<path d="M114,100 L121,108 L124,120 L130,123 L133,113 L124,103Z" fill="#E4ECC8"/>
<path d="M132,133 L144.9,131 L151.3,129.8 L151.9,132.2 L149.6,139.2 L147,144 L140,141Z" fill="#F0E9E3"/>
<path d="M150,44 L168,42 L186,46 L186,66 L175,68 L160,58Z" fill="#F0E9E3"/>
<path d="M245,50 L268,62 L280,60 L280,40 L262,35Z" fill="#F0E9E3"/>
<path d="M235,72 L250,66 L262,78 L258,96 L240,92Z" fill="#E8E9D2"/>
</g>
<ellipse cx="56" cy="34.7" rx="4.5" ry="0.9" fill="#E4ECC8"/>
<ellipse cx="86.5" cy="36.2" rx="3" ry="1.2" fill="#E4ECC8"/>
<path d="M67.8,-5 L125,-5 L125,4 L117,6.5 L100,5 L91.3,5.5 L81.1,6 L72.9,9.1 L67.8,5Z" fill="#75CDF0"/>
<path d="M63.7,9.6 L72.5,8.6 L71,10.2 L64.5,10.6Z" fill="#75CDF0"/>
<path d="M145.5,-5 L163,-5 L163,4 L160,9.8 L157.2,14.2 L163,20.1 L161.5,27.4 L154.2,28.8 L148.4,25.9 L144.7,21.5 L144,15.7 L146.9,9.8Z" fill="#75CDF0"/>
<path d="M83.8,58.8 L86,61.5 L89.6,66.5 L91,62.5 L92.5,60.3 L92.9,65.6 L98.3,71.3 L100.2,77.1 L105,82.9 L107.9,89.6 L111.7,96.3 L116.5,101.2 L122.3,110.8 L122.3,118.5 L125.2,126.2 L132,124 L141.4,120.5 L150.7,117 L160,112.3 L166,110 L180,108 L180,128 L151.9,132.2 L151.3,129.8 L144.9,131 L136.7,131.6 L128.5,134.5 L122.7,131 L121.3,128.1 L118.5,124.2 L111.7,117.5 L108.8,112.7 L106,106.9 L104,101.2 L101.2,92.5 L96.3,84.8 L94.4,79 L88.7,67.5 L84.6,60.5Z" fill="#75CDF0"/>
<path d="M140.2,59.7 L144.3,56.6 L146.3,57.7 L149.4,60.2 L152.5,64.3 L156.6,68.4 L160.7,71.5 L164.7,71.5 L168.8,70.9 L170.9,69.9 L172.9,70.4 L171.4,77.6 L169.3,77.1 L166.8,79.6 L162.7,81.7 L156.6,82.7 L152.5,80.7 L150.4,75.5 L148.4,71.5 L143.3,66.3Z" fill="#75CDF0"/>
<ellipse cx="86" cy="178" rx="5.5" ry="4.5" fill="#75CDF0"/>
<ellipse cx="56" cy="181" rx="1" ry="2.5" fill="#75CDF0"/>
<ellipse cx="62" cy="167" rx="2" ry="1.3" fill="#75CDF0"/>
<ellipse cx="97" cy="159" rx="1" ry="3" fill="#75CDF0"/>
<ellipse cx="101.5" cy="129" rx="1.2" ry="1.2" fill="#75CDF0"/>
<ellipse cx="122" cy="20" rx="2" ry="1.2" fill="#75CDF0"/>
<ellipse cx="131" cy="23" rx="1.2" ry="2" fill="#75CDF0"/>
<ellipse cx="110.5" cy="40.5" rx="0.9" ry="1.4" fill="#75CDF0"/>
<ellipse cx="198" cy="62.5" rx="1.2" ry="1" fill="#75CDF0"/>
<ellipse cx="180" cy="8" rx="2" ry="1" fill="#75CDF0"/>
<ellipse cx="206.5" cy="10.5" rx="1.2" ry="0.8" fill="#75CDF0"/>
<ellipse cx="78" cy="75" rx="1.2" ry="2.4" fill="#75CDF0"/>
<ellipse cx="174" cy="35" rx="0.8" ry="1" fill="#75CDF0"/>
<path d="M80,88.5 L82,86.5 L84.5,84 L85.5,82" fill="none" stroke="#75CDF0" stroke-width="1"/>
<ellipse cx="261" cy="144.5" rx="3.3" ry="6" fill="#E4ECC8"/>
<ellipse cx="162" cy="123" rx="2" ry="0.8" fill="#F0E9E3"/>
<path d="M54.8,48.7 L54.8,91.5" fill="none" stroke="#a9a9a9" stroke-width="0.4"/>
<path d="M10,84 L22,90 L37.3,97.1 L53.1,98.1" fill="none" stroke="#a9a9a9" stroke-width="0.4"/>
<path d="M104.4,54 L114.8,57.3 L126.5,61 L138.2,62.4 L141.1,58.8" fill="none" stroke="#a9a9a9" stroke-width="0.4"/>
<path d="M138.2,62.4 L139.5,56" fill="none" stroke="#a9a9a9" stroke-width="0.4"/>
<path d="M123.6,108.4 L138.2,105.5 L155.7,101.8 L168.8,98.2 L169.6,83.6 L170.3,75.5" fill="none" stroke="#a9a9a9" stroke-width="0.4"/>
<path d="M155.7,101.8 L158.6,111.3" fill="none" stroke="#a9a9a9" stroke-width="0.4"/>
<path d="M154.2,81.4 L158.6,86.5 L169.6,88" fill="none" stroke="#a9a9a9" stroke-width="0.4"/>
<path d="M115.5,28.2 L120,33 L126.7,41.2 L133,50 L140.2,59.7" fill="none" stroke="#a9a9a9" stroke-width="0.4"/>
<path d="M142,26.4 L155.1,30.2 L170,22.7 L188.7,33.9" fill="none" stroke="#a9a9a9" stroke-width="0.4"/>
<path d="M188.7,60.1 L192.4,76.9" fill="none" stroke="#a9a9a9" stroke-width="0.4"/>
<path d="M226.1,33.9 L235.4,45.1 L241,48.8 L235.4,63.8 L224.2,78.7 L222.3,88.1" fill="none" stroke="#a9a9a9" stroke-width="0.4"/>
<path d="M239.2,25.5 L250.4,30.2 L257.8,41.4 L269,50.7" fill="none" stroke="#a9a9a9" stroke-width="0.4"/>
<path d="M166.3,4 L185,15.2 L203.7,24.6" fill="none" stroke="#a9a9a9" stroke-width="0.4"/>
<path d="M209.3,4 L213,15.2 L226.1,20.8" fill="none" stroke="#a9a9a9" stroke-width="0.4"/>
<path d="M235.4,4 L239.2,15.2 L254.1,28.3 L269,32" fill="none" stroke="#a9a9a9" stroke-width="0.4"/>
<path d="M123.4,9.6 L143,15.2" fill="none" stroke="#a9a9a9" stroke-width="0.4"/>
<path d="M15,124.3 L18.7,131.8 L20.6,144.9 L26.2,145.8 L44.9,133.6 L46.8,126.2" fill="none" stroke="#a9a9a9" stroke-width="0.4"/>
<path d="M52.4,141.1 L61.7,154.2 L76.7,152.3 L89.7,156.1 L112.2,148.6 L119.6,146.7" fill="none" stroke="#a9a9a9" stroke-width="0.4"/>
<path d="M20.6,144.9 L18.7,159.8 L26.2,161.7 L33.7,156.1 L44.9,154.2 L61.7,154.2" fill="none" stroke="#a9a9a9" stroke-width="0.4"/>
<path d="M26.2,161.7 L24.3,165.4 L22.5,184.1" fill="none" stroke="#a9a9a9" stroke-width="0.4"/>
<path d="M89.7,156.1 L91.6,174.8 L89.7,187.9" fill="none" stroke="#a9a9a9" stroke-width="0.4"/>
<path d="M87.9,131.8 L86,143 L91.6,156.1" fill="none" stroke="#a9a9a9" stroke-width="0.4"/>
<path d="M140.2,143.9 L115.9,159.8 L104.7,165.4" fill="none" stroke="#a9a9a9" stroke-width="0.4"/>
<path d="M115.9,159.8 L114,187.9" fill="none" stroke="#a9a9a9" stroke-width="0.4"/>
<path d="M91.6,174.8 L114,187.9" fill="none" stroke="#a9a9a9" stroke-width="0.4"/>
<path d="M106.6,118.7 L119.6,122.4 L127.1,129.9" fill="none" stroke="#a9a9a9" stroke-width="0.4"/>
<path d="M15,107.5 L21,110" fill="none" stroke="#a9a9a9" stroke-width="0.4"/>
<path d="M40,10 L50,5 L60,6 L68,4" fill="none" stroke="#a9a9a9" stroke-width="0.4"/>
<path d="M99,28.2 L105.4,27.3 L112.4,27 L119.5,25.3 L120,27 L117.7,28.8 L116,31.7 L116.5,35.2 L114.2,37.5 L110.1,41 L107.2,43.4 L107.2,45.7 L108.9,48.6 L104.3,52.7 L101.9,56.2 L99,59.7 L96.1,61.7 L93.2,60.3 L92.6,56.2 L94.6,52.1 L95.2,47.4 L96.7,42.8 L97.3,38.7 L97.8,34.6 L98.1,30.5Z" fill="#C0A393"/>
<path d="M96.5,43.5 L101,41.5 L107.2,43.4" fill="none" stroke="#a88b7c" stroke-width="0.4"/>
<path d="M189.5,34 L196.1,32.6 L202.8,26.4 L208.5,24.5 L216.1,25.4 L220.8,24 L223.6,20.7 L226.5,20.7 L227.4,27.3 L231.2,25.9 L238.8,25.4 L239.3,26.9 L233.1,27.3 L227.4,29.2 L226.5,32.1 L227.4,36.8 L224.6,43.5 L219.8,45.4 L218,51.1 L211.3,53 L208.5,55.8 L202.8,58.6 L195.2,59.6 L189,59.6 L188.5,56.7 L190.4,53 L188.5,51.1 L187.1,46.3 L187.6,40.6 L189.5,36.8Z" fill="#C0A393"/>
<path d="M56.4,90.5 L99.7,90.5 L101.3,96 L101.9,101.4 L105.7,105.8 L101.3,110.2 L99.7,116.8 L98,122.2 L95.8,127.7 L91.5,131 L89.3,139.8 L86,133.2 L84.9,128.8 L81.6,131 L77.2,135.4 L72.8,137.6 L66.3,136.5 L59.7,135.4 L54.2,139.8 L52,138.7 L49.9,131 L46.6,126.6 L45.5,122.2 L47.7,115.7 L52,114.6 L53.1,98.1 L56.4,98.1Z" fill="#C0A393"/>
<path d="M151.2,75.2 L153.6,74.8 L154.3,78.5 L153.2,81 L151.5,79.5Z" fill="#C0A393"/>
<text x="95" y="19" font-size="8.8" text-anchor="middle" font-weight="normal" fill="#2a2a2a" stroke="#2a2a2a" stroke-width="0.2">Turkey</text>
<text x="106" y="37.8" font-size="8.8" text-anchor="middle" font-weight="normal" fill="#2a2a2a" stroke="#2a2a2a" stroke-width="0.2">Syria</text>
<text x="124.8" y="49" font-size="8.8" text-anchor="middle" font-weight="normal" fill="#2a2a2a" stroke="#2a2a2a" stroke-width="0.2">Iraq</text>
<text x="100.8" y="57.1" font-size="8.8" text-anchor="middle" font-weight="normal" fill="#2a2a2a" stroke="#2a2a2a" stroke-width="0.2">Jordan</text>
<text x="164.7" y="46.8" font-size="8.8" text-anchor="middle" font-weight="normal" fill="#2a2a2a" stroke="#2a2a2a" stroke-width="0.2">Iran</text>
<text x="211.8" y="42.6" font-size="8.8" text-anchor="middle" font-weight="normal" fill="#2a2a2a" stroke="#2a2a2a" stroke-width="0.2">Afghanistan</text>
<text x="31.8" y="71" font-size="8.8" text-anchor="middle" font-weight="normal" fill="#2a2a2a" stroke="#2a2a2a" stroke-width="0.2">Libya</text>
<text x="73.5" y="73.3" font-size="8.8" text-anchor="middle" font-weight="normal" fill="#2a2a2a" stroke="#2a2a2a" stroke-width="0.2">Egypt</text>
<text x="126.7" y="79.6" font-size="8.8" text-anchor="middle" font-weight="normal" fill="#2a2a2a" stroke="#2a2a2a" stroke-width="0.2">Saudi</text>
<text x="128.5" y="89.7" font-size="8.8" text-anchor="middle" font-weight="normal" fill="#2a2a2a" stroke="#2a2a2a" stroke-width="0.2">Arabia</text>
<text x="153.5" y="76.2" font-size="8.8" text-anchor="middle" font-weight="normal" fill="#2a2a2a" stroke="#2a2a2a" stroke-width="0.2">Qatar</text>
<text x="213" y="68.3" font-size="8.8" text-anchor="middle" font-weight="normal" fill="#2a2a2a" stroke="#2a2a2a" stroke-width="0.2">Pakistan</text>
<text x="252.3" y="86.8" font-size="8.8" text-anchor="middle" font-weight="normal" fill="#2a2a2a" stroke="#2a2a2a" stroke-width="0.2">India</text>
<text x="74.5" y="114.6" font-size="8.8" text-anchor="middle" font-weight="normal" fill="#2a2a2a" stroke="#2a2a2a" stroke-width="0.2">Sudan</text>
<text x="141.6" y="116.8" font-size="8.8" text-anchor="middle" font-weight="normal" fill="#2a2a2a" stroke="#2a2a2a" stroke-width="0.2">Yemen</text>
<text x="34.4" y="166" font-size="8.8" text-anchor="start" font-weight="normal" fill="#2a2a2a" stroke="#2a2a2a" stroke-width="0.2">Democratic</text>
<text x="34.4" y="176" font-size="8.8" text-anchor="start" font-weight="normal" fill="#2a2a2a" stroke="#2a2a2a" stroke-width="0.2">Republic of</text>
<text x="34.4" y="186.1" font-size="8.8" text-anchor="start" font-weight="normal" fill="#2a2a2a" stroke="#2a2a2a" stroke-width="0.2">Congo</text>
<rect x="17.8" y="187" width="118.9" height="8.8" fill="#fff" opacity="0.8"/>
<text x="19.5" y="194.3" font-size="7.6" text-anchor="start" font-weight="normal" fill="#6a6a6a">&#169; 2025 Mapbox &#169; OpenStreetMap</text>
</g>
<g id="pca1">
<rect x="49.5" y="260.8" width="1.15" height="244.1" fill="#b0b0b0"/>
<rect x="49.5" y="503.9" width="228.5" height="1.1" fill="#9a9a9a"/>
<rect x="46.2" y="493.42" width="3.4" height="0.8" fill="#666"/>
<text x="42.2" y="497.02" font-size="9" text-anchor="end" font-weight="normal" fill="#222" letter-spacing="0.4">&#8722;0.010</text>
<rect x="46.2" y="469.16" width="3.4" height="0.8" fill="#666"/>
<text x="42.2" y="472.76" font-size="9" text-anchor="end" font-weight="normal" fill="#222" letter-spacing="0.4">&#8722;0.005</text>
<rect x="46.2" y="444.9" width="3.4" height="0.8" fill="#666"/>
<text x="42.2" y="448.5" font-size="9" text-anchor="end" font-weight="normal" fill="#222" letter-spacing="0.4">0</text>
<rect x="46.2" y="420.64" width="3.4" height="0.8" fill="#666"/>
<text x="42.2" y="424.24" font-size="9" text-anchor="end" font-weight="normal" fill="#222" letter-spacing="0.4">0.005</text>
<rect x="46.2" y="396.38" width="3.4" height="0.8" fill="#666"/>
<text x="42.2" y="399.98" font-size="9" text-anchor="end" font-weight="normal" fill="#222" letter-spacing="0.4">0.010</text>
<rect x="46.2" y="372.12" width="3.4" height="0.8" fill="#666"/>
<text x="42.2" y="375.72" font-size="9" text-anchor="end" font-weight="normal" fill="#222" letter-spacing="0.4">0.015</text>
<rect x="46.2" y="347.86" width="3.4" height="0.8" fill="#666"/>
<text x="42.2" y="351.46" font-size="9" text-anchor="end" font-weight="normal" fill="#222" letter-spacing="0.4">0.020</text>
<rect x="46.2" y="323.6" width="3.4" height="0.8" fill="#666"/>
<text x="42.2" y="327.2" font-size="9" text-anchor="end" font-weight="normal" fill="#222" letter-spacing="0.4">0.025</text>
<rect x="46.2" y="299.34" width="3.4" height="0.8" fill="#666"/>
<text x="42.2" y="302.94" font-size="9" text-anchor="end" font-weight="normal" fill="#222" letter-spacing="0.4">0.030</text>
<rect x="46.2" y="275.08" width="3.4" height="0.8" fill="#666"/>
<text x="42.2" y="278.68" font-size="9" text-anchor="end" font-weight="normal" fill="#222" letter-spacing="0.4">0.035</text>
<line x1="237.5" y1="260.8" x2="237.5" y2="503.4" stroke="#cfcfcf" stroke-width="0.9" stroke-dasharray="4,3"/>
<line x1="51.5" y1="445.3" x2="278" y2="445.3" stroke="#cfcfcf" stroke-width="0.9" stroke-dasharray="4,3"/>
<rect x="91.25" y="504.8" width="0.9" height="3" fill="#555"/>
<text x="91.7" y="518.6" font-size="9" text-anchor="middle" font-weight="normal" fill="#222" letter-spacing="0.3">0.03</text>
<rect x="139.85" y="504.8" width="0.9" height="3" fill="#555"/>
<text x="140.3" y="518.6" font-size="9" text-anchor="middle" font-weight="normal" fill="#222" letter-spacing="0.3">0.02</text>
<rect x="188.45" y="504.8" width="0.9" height="3" fill="#555"/>
<text x="188.9" y="518.6" font-size="9" text-anchor="middle" font-weight="normal" fill="#222" letter-spacing="0.3">0.01</text>
<rect x="237.05" y="504.8" width="0.9" height="3" fill="#555"/>
<text x="237.5" y="518.6" font-size="9" text-anchor="middle" font-weight="normal" fill="#222" letter-spacing="0.3">0</text>
<text x="164.5" y="533.2" font-size="10" text-anchor="middle" font-weight="normal" fill="#222">PC1 (50.2%)</text>
<text x="8.6" y="381.8" font-size="10" text-anchor="middle" font-weight="normal" fill="#222" transform="rotate(-90 8.6 381.8)">PC2 (23.6%)</text>
<g fill="none" stroke="#BAB0AC" stroke-width="1.1">
<circle cx="195.86" cy="453.35" r="1.5"/>
<circle cx="227" cy="450.44" r="1.5"/>
<circle cx="199.52" cy="454.21" r="1.5"/>
<circle cx="178.19" cy="451.87" r="1.5"/>
<circle cx="207.57" cy="460.58" r="1.5"/>
<circle cx="172.21" cy="445.41" r="1.5"/>
<circle cx="171.98" cy="461.1" r="1.5"/>
<circle cx="211.77" cy="437.3" r="1.5"/>
<circle cx="209.16" cy="455.08" r="1.5"/>
<circle cx="200.87" cy="437.85" r="1.5"/>
<circle cx="178.55" cy="443.5" r="1.5"/>
<circle cx="167.99" cy="450.38" r="1.5"/>
<circle cx="195.08" cy="462.12" r="1.5"/>
<circle cx="200.26" cy="455.85" r="1.5"/>
<circle cx="198.99" cy="456.54" r="1.5"/>
<circle cx="196.18" cy="444.62" r="1.5"/>
<circle cx="221.45" cy="457.94" r="1.5"/>
<circle cx="186.81" cy="443.12" r="1.5"/>
<circle cx="185.08" cy="438.18" r="1.5"/>
<circle cx="216.58" cy="448.41" r="1.5"/>
<circle cx="221.87" cy="447.98" r="1.5"/>
<circle cx="226.08" cy="450.57" r="1.5"/>
<circle cx="230.7" cy="448.32" r="1.5"/>
<circle cx="170.82" cy="455.51" r="1.5"/>
<circle cx="217.38" cy="444.36" r="1.5"/>
<circle cx="171.75" cy="446.31" r="1.5"/>
<circle cx="173.79" cy="443.64" r="1.5"/>
<circle cx="218.6" cy="441.51" r="1.5"/>
<circle cx="202.91" cy="449.87" r="1.5"/>
<circle cx="178.59" cy="458.69" r="1.5"/>
<circle cx="174.64" cy="455.96" r="1.5"/>
<circle cx="173.69" cy="449.04" r="1.5"/>
<circle cx="180.05" cy="444.36" r="1.5"/>
<circle cx="186.07" cy="463.43" r="1.5"/>
<circle cx="179.91" cy="448.22" r="1.5"/>
<circle cx="222.39" cy="455.9" r="1.5"/>
<circle cx="180.07" cy="444.01" r="1.5"/>
<circle cx="217" cy="446.2" r="1.5"/>
<circle cx="185.56" cy="438.28" r="1.5"/>
<circle cx="171.95" cy="454.06" r="1.5"/>
<circle cx="182.04" cy="454.64" r="1.5"/>
<circle cx="190.53" cy="450.05" r="1.5"/>
<circle cx="229.3" cy="451" r="1.5"/>
<circle cx="203.92" cy="462.86" r="1.5"/>
<circle cx="178.07" cy="440.78" r="1.5"/>
<circle cx="225.96" cy="461.35" r="1.5"/>
<circle cx="182.47" cy="441.88" r="1.5"/>
<circle cx="178.97" cy="465.45" r="1.5"/>
<circle cx="224.22" cy="454.71" r="1.5"/>
<circle cx="193.82" cy="439.22" r="1.5"/>
<circle cx="181.73" cy="457.84" r="1.5"/>
<circle cx="182.96" cy="461.54" r="1.5"/>
<circle cx="205.37" cy="445.1" r="1.5"/>
<circle cx="177.58" cy="458.33" r="1.5"/>
<circle cx="170.54" cy="443.08" r="1.5"/>
<circle cx="202.92" cy="462.42" r="1.5"/>
<circle cx="206.54" cy="444.69" r="1.5"/>
<circle cx="226.55" cy="442.32" r="1.5"/>
<circle cx="167.09" cy="444.35" r="1.5"/>
<circle cx="195.42" cy="437.87" r="1.5"/>
<circle cx="177.63" cy="447.43" r="1.5"/>
<circle cx="203.76" cy="440.08" r="1.5"/>
<circle cx="189.9" cy="463.62" r="1.5"/>
<circle cx="211.62" cy="454.12" r="1.5"/>
<circle cx="167.4" cy="455.72" r="1.5"/>
<circle cx="197.83" cy="458.65" r="1.5"/>
<circle cx="170.97" cy="452.93" r="1.5"/>
<circle cx="214.64" cy="463.91" r="1.5"/>
<circle cx="214.65" cy="457.81" r="1.5"/>
<circle cx="189.22" cy="457.24" r="1.5"/>
<circle cx="193.53" cy="460.51" r="1.5"/>
<circle cx="222.99" cy="453.76" r="1.5"/>
<circle cx="207.25" cy="447.85" r="1.5"/>
<circle cx="204.46" cy="454.87" r="1.5"/>
<circle cx="171.29" cy="455.82" r="1.5"/>
<circle cx="214.06" cy="448.04" r="1.5"/>
<circle cx="214.51" cy="454.01" r="1.5"/>
<circle cx="195.07" cy="461.99" r="1.5"/>
<circle cx="171.53" cy="459.26" r="1.5"/>
<circle cx="167.97" cy="454.64" r="1.5"/>
<circle cx="197.74" cy="443.14" r="1.5"/>
<circle cx="212.09" cy="451.41" r="1.5"/>
<circle cx="206.56" cy="464.53" r="1.5"/>
<circle cx="185.87" cy="457.02" r="1.5"/>
<circle cx="179.37" cy="441.26" r="1.5"/>
<circle cx="225.78" cy="456.46" r="1.5"/>
<circle cx="195.17" cy="463.64" r="1.5"/>
<circle cx="187.58" cy="456.64" r="1.5"/>
<circle cx="179.1" cy="449.36" r="1.5"/>
<circle cx="224.1" cy="447.92" r="1.5"/>
<circle cx="204.49" cy="445.81" r="1.5"/>
<circle cx="174.99" cy="451.39" r="1.5"/>
<circle cx="221.25" cy="462.31" r="1.5"/>
<circle cx="184.27" cy="441.24" r="1.5"/>
<circle cx="195.74" cy="444.53" r="1.5"/>
<circle cx="180.13" cy="448.83" r="1.5"/>
<circle cx="207.3" cy="451.31" r="1.5"/>
<circle cx="186.81" cy="462.01" r="1.5"/>
<circle cx="230.81" cy="450.03" r="1.5"/>
<circle cx="212.77" cy="453.69" r="1.5"/>
<circle cx="186.4" cy="460.54" r="1.5"/>
<circle cx="196.02" cy="436.77" r="1.5"/>
<circle cx="220.76" cy="443.36" r="1.5"/>
<circle cx="207.53" cy="449.84" r="1.5"/>
<circle cx="207.58" cy="456.31" r="1.5"/>
<circle cx="211.18" cy="442.18" r="1.5"/>
<circle cx="197.36" cy="441.54" r="1.5"/>
<circle cx="213.14" cy="441.55" r="1.5"/>
<circle cx="183.98" cy="446.72" r="1.5"/>
<circle cx="212.02" cy="452.13" r="1.5"/>
<circle cx="206.55" cy="459.44" r="1.5"/>
<circle cx="191.97" cy="460.55" r="1.5"/>
<circle cx="227.55" cy="458.39" r="1.5"/>
<circle cx="174.57" cy="450.06" r="1.5"/>
<circle cx="207.29" cy="464.21" r="1.5"/>
<circle cx="190.87" cy="453.63" r="1.5"/>
<circle cx="224.04" cy="460.7" r="1.5"/>
<circle cx="228.32" cy="450.37" r="1.5"/>
<circle cx="208.99" cy="442.35" r="1.5"/>
<circle cx="213.65" cy="461.37" r="1.5"/>
<circle cx="208.35" cy="458.25" r="1.5"/>
<circle cx="180.08" cy="463.9" r="1.5"/>
<circle cx="201.44" cy="460.51" r="1.5"/>
<circle cx="187.15" cy="464.21" r="1.5"/>
<circle cx="222.48" cy="446.8" r="1.5"/>
<circle cx="171.46" cy="449.67" r="1.5"/>
<circle cx="202.32" cy="459.82" r="1.5"/>
<circle cx="198.17" cy="436.88" r="1.5"/>
<circle cx="219.4" cy="437.99" r="1.5"/>
<circle cx="218.79" cy="441.36" r="1.5"/>
<circle cx="188.11" cy="460.43" r="1.5"/>
<circle cx="175.27" cy="440.61" r="1.5"/>
<circle cx="200.09" cy="458.43" r="1.5"/>
<circle cx="221.44" cy="457.37" r="1.5"/>
<circle cx="228.42" cy="451.27" r="1.5"/>
<circle cx="180.61" cy="452.33" r="1.5"/>
<circle cx="185.15" cy="458.59" r="1.5"/>
<circle cx="208.17" cy="452.21" r="1.5"/>
<circle cx="221.68" cy="453.36" r="1.5"/>
<circle cx="186.57" cy="447.82" r="1.5"/>
<circle cx="179.74" cy="462.37" r="1.5"/>
<circle cx="229.92" cy="452.25" r="1.5"/>
<circle cx="203.82" cy="442.23" r="1.5"/>
<circle cx="201.37" cy="451.6" r="1.5"/>
<circle cx="205.95" cy="436.86" r="1.5"/>
<circle cx="229.98" cy="452" r="1.5"/>
<circle cx="192.44" cy="460.83" r="1.5"/>
<circle cx="203.15" cy="451.22" r="1.5"/>
<circle cx="211.61" cy="438.04" r="1.5"/>
<circle cx="201.56" cy="448.83" r="1.5"/>
<circle cx="183.77" cy="450.67" r="1.5"/>
<circle cx="174.38" cy="449.44" r="1.5"/>
<circle cx="197.45" cy="445.83" r="1.5"/>
<circle cx="178.64" cy="455.15" r="1.5"/>
<circle cx="178.81" cy="443.05" r="1.5"/>
<circle cx="211.34" cy="445.98" r="1.5"/>
<circle cx="189.45" cy="455.21" r="1.5"/>
<circle cx="172.92" cy="458.66" r="1.5"/>
<circle cx="174.1" cy="451.82" r="1.5"/>
<circle cx="182.54" cy="442.13" r="1.5"/>
<circle cx="201" cy="449.54" r="1.5"/>
<circle cx="190.8" cy="448.82" r="1.5"/>
<circle cx="200.94" cy="440.95" r="1.5"/>
<circle cx="179.48" cy="455.57" r="1.5"/>
<circle cx="208.14" cy="452.42" r="1.5"/>
<circle cx="222.18" cy="454.96" r="1.5"/>
<circle cx="222.55" cy="443.21" r="1.5"/>
<circle cx="214.89" cy="461.13" r="1.5"/>
<circle cx="225.58" cy="445.79" r="1.5"/>
<circle cx="186.79" cy="464.61" r="1.5"/>
<circle cx="224.58" cy="440.15" r="1.5"/>
<circle cx="181.8" cy="458.52" r="1.5"/>
<circle cx="183.13" cy="439.01" r="1.5"/>
<circle cx="220.92" cy="449.07" r="1.5"/>
<circle cx="218.14" cy="439.91" r="1.5"/>
<circle cx="192.58" cy="457.24" r="1.5"/>
<circle cx="167.17" cy="442.23" r="1.5"/>
<circle cx="211.04" cy="464.25" r="1.5"/>
<circle cx="199.37" cy="459.5" r="1.5"/>
<circle cx="199.18" cy="457.26" r="1.5"/>
<circle cx="178.47" cy="438.19" r="1.5"/>
<circle cx="202.41" cy="451.96" r="1.5"/>
<circle cx="203.54" cy="440.54" r="1.5"/>
<circle cx="178.18" cy="442.32" r="1.5"/>
<circle cx="196.5" cy="459.71" r="1.5"/>
<circle cx="187.57" cy="450.48" r="1.5"/>
<circle cx="200.01" cy="449.33" r="1.5"/>
<circle cx="205.66" cy="436.41" r="1.5"/>
<circle cx="212.27" cy="462.17" r="1.5"/>
<circle cx="177.96" cy="450.07" r="1.5"/>
<circle cx="214.8" cy="448.56" r="1.5"/>
<circle cx="178.88" cy="441.12" r="1.5"/>
<circle cx="199.83" cy="436.48" r="1.5"/>
<circle cx="224.95" cy="460.85" r="1.5"/>
<circle cx="212.51" cy="462.68" r="1.5"/>
<circle cx="207.54" cy="448.54" r="1.5"/>
<circle cx="205.57" cy="451.63" r="1.5"/>
<circle cx="183.05" cy="464.25" r="1.5"/>
<circle cx="215.13" cy="460.12" r="1.5"/>
<circle cx="219.77" cy="448.57" r="1.5"/>
<circle cx="211.86" cy="459.79" r="1.5"/>
<circle cx="216.51" cy="448.58" r="1.5"/>
<circle cx="213.69" cy="438.19" r="1.5"/>
<circle cx="188.55" cy="450.53" r="1.5"/>
<circle cx="166.7" cy="447.02" r="1.5"/>
<circle cx="208.15" cy="455.34" r="1.5"/>
<circle cx="181.32" cy="465.28" r="1.5"/>
<circle cx="209.96" cy="446.47" r="1.5"/>
<circle cx="209.54" cy="453.66" r="1.5"/>
<circle cx="201.18" cy="448.08" r="1.5"/>
<circle cx="212.28" cy="459.61" r="1.5"/>
<circle cx="206.62" cy="458.9" r="1.5"/>
<circle cx="182.94" cy="448.45" r="1.5"/>
<circle cx="169.33" cy="442.06" r="1.5"/>
<circle cx="190.79" cy="439.05" r="1.5"/>
<circle cx="182.56" cy="464.07" r="1.5"/>
<circle cx="202.3" cy="451.74" r="1.5"/>
<circle cx="229.83" cy="453.61" r="1.5"/>
<circle cx="219.43" cy="438.36" r="1.5"/>
<circle cx="205.44" cy="459.54" r="1.5"/>
<circle cx="176.56" cy="450.62" r="1.5"/>
<circle cx="177.16" cy="451.36" r="1.5"/>
<circle cx="206.34" cy="437.81" r="1.5"/>
<circle cx="228.39" cy="449.04" r="1.5"/>
<circle cx="200.77" cy="454.53" r="1.5"/>
<circle cx="190.13" cy="444.86" r="1.5"/>
<circle cx="209.24" cy="453.38" r="1.5"/>
<circle cx="184.71" cy="458.21" r="1.5"/>
<circle cx="182.17" cy="437.33" r="1.5"/>
<circle cx="176.33" cy="459.39" r="1.5"/>
<circle cx="191.74" cy="463.82" r="1.5"/>
<circle cx="215.39" cy="437.55" r="1.5"/>
<circle cx="170.85" cy="464.07" r="1.5"/>
<circle cx="194.35" cy="450.81" r="1.5"/>
<circle cx="200.54" cy="465.06" r="1.5"/>
<circle cx="213.7" cy="450.52" r="1.5"/>
<circle cx="205.84" cy="439.57" r="1.5"/>
<circle cx="207.2" cy="450.13" r="1.5"/>
<circle cx="179.44" cy="437.61" r="1.5"/>
<circle cx="200.85" cy="439.85" r="1.5"/>
<circle cx="195.23" cy="456.7" r="1.5"/>
<circle cx="196.07" cy="444.13" r="1.5"/>
<circle cx="204.43" cy="449.01" r="1.5"/>
<circle cx="217.35" cy="452.45" r="1.5"/>
<circle cx="214.46" cy="443.39" r="1.5"/>
<circle cx="173.52" cy="463.67" r="1.5"/>
<circle cx="217.76" cy="455.37" r="1.5"/>
<circle cx="189.71" cy="444.42" r="1.5"/>
<circle cx="211.21" cy="453.51" r="1.5"/>
<circle cx="205.05" cy="455.63" r="1.5"/>
<circle cx="215.72" cy="441.88" r="1.5"/>
<circle cx="182.43" cy="466.37" r="1.5"/>
<circle cx="183.88" cy="449.18" r="1.5"/>
<circle cx="207.14" cy="439.18" r="1.5"/>
<circle cx="201.75" cy="438.25" r="1.5"/>
<circle cx="171.71" cy="456.96" r="1.5"/>
<circle cx="202.34" cy="455.56" r="1.5"/>
<circle cx="190.63" cy="450.84" r="1.5"/>
<circle cx="179.9" cy="446.65" r="1.5"/>
<circle cx="215.16" cy="462" r="1.5"/>
</g>
<g fill="none" stroke="#BAB0AC" stroke-width="1.1">
<circle cx="221.5" cy="421.82" r="1.5"/>
<circle cx="218.43" cy="404.17" r="1.5"/>
<circle cx="221.55" cy="410.86" r="1.5"/>
<circle cx="184.73" cy="418.59" r="1.5"/>
<circle cx="216.7" cy="434.6" r="1.5"/>
<circle cx="192.5" cy="410.88" r="1.5"/>
<circle cx="167.37" cy="432.63" r="1.5"/>
<circle cx="202.88" cy="415.85" r="1.5"/>
<circle cx="212.08" cy="407.85" r="1.5"/>
<circle cx="176.21" cy="423.47" r="1.5"/>
<circle cx="215.1" cy="424.84" r="1.5"/>
<circle cx="187.19" cy="426.22" r="1.5"/>
<circle cx="213.9" cy="419.48" r="1.5"/>
<circle cx="229.42" cy="413.83" r="1.5"/>
<circle cx="221.03" cy="408.1" r="1.5"/>
<circle cx="190.07" cy="411.67" r="1.5"/>
<circle cx="174.82" cy="419.24" r="1.5"/>
<circle cx="220.58" cy="418.24" r="1.5"/>
<circle cx="223.56" cy="419.2" r="1.5"/>
<circle cx="173.42" cy="427.63" r="1.5"/>
<circle cx="226.95" cy="407.1" r="1.5"/>
<circle cx="201.36" cy="419.4" r="1.5"/>
<circle cx="233.45" cy="423" r="1.5"/>
<circle cx="201.56" cy="428.89" r="1.5"/>
<circle cx="216.02" cy="433.66" r="1.5"/>
<circle cx="170.93" cy="427.07" r="1.5"/>
<circle cx="176.75" cy="427.91" r="1.5"/>
<circle cx="199.64" cy="427.88" r="1.5"/>
<circle cx="197.52" cy="418.11" r="1.5"/>
<circle cx="214.79" cy="425.45" r="1.5"/>
<circle cx="229.54" cy="412.66" r="1.5"/>
<circle cx="222.79" cy="423.67" r="1.5"/>
<circle cx="224.87" cy="429.65" r="1.5"/>
<circle cx="223.37" cy="433.21" r="1.5"/>
<circle cx="232.79" cy="422.53" r="1.5"/>
<circle cx="199.81" cy="425.53" r="1.5"/>
<circle cx="220.97" cy="413.13" r="1.5"/>
<circle cx="182.19" cy="436.7" r="1.5"/>
<circle cx="218.97" cy="402.72" r="1.5"/>
<circle cx="204.39" cy="434.1" r="1.5"/>
<circle cx="177.89" cy="425.84" r="1.5"/>
<circle cx="173.11" cy="427.57" r="1.5"/>
<circle cx="183.69" cy="418.57" r="1.5"/>
<circle cx="222.1" cy="415.62" r="1.5"/>
<circle cx="179.8" cy="433.16" r="1.5"/>
<circle cx="229.48" cy="409.71" r="1.5"/>
<circle cx="163.78" cy="435.74" r="1.5"/>
<circle cx="220.91" cy="411.55" r="1.5"/>
<circle cx="200.1" cy="417.18" r="1.5"/>
<circle cx="188.24" cy="429.26" r="1.5"/>
<circle cx="214.21" cy="421.06" r="1.5"/>
<circle cx="226.06" cy="417.19" r="1.5"/>
<circle cx="180.25" cy="417.99" r="1.5"/>
<circle cx="171.45" cy="428.13" r="1.5"/>
<circle cx="224.31" cy="430.35" r="1.5"/>
</g>
<g fill="none" stroke="#BAB0AC" stroke-width="1.1">
<circle cx="184.81" cy="414.32" r="1.5"/>
<circle cx="198.76" cy="411.55" r="1.5"/>
<circle cx="193.56" cy="417.5" r="1.5"/>
<circle cx="204.02" cy="419.39" r="1.5"/>
<circle cx="201.86" cy="414.86" r="1.5"/>
<circle cx="200.37" cy="416.67" r="1.5"/>
<circle cx="203.17" cy="411.46" r="1.5"/>
<circle cx="201.18" cy="413.33" r="1.5"/>
<circle cx="194.95" cy="418.41" r="1.5"/>
<circle cx="186.47" cy="423.31" r="1.5"/>
<circle cx="189.85" cy="414.97" r="1.5"/>
<circle cx="184.67" cy="414.89" r="1.5"/>
<circle cx="193.28" cy="421.44" r="1.5"/>
<circle cx="190.91" cy="420.99" r="1.5"/>
<circle cx="185.33" cy="416.31" r="1.5"/>
<circle cx="193.16" cy="425.47" r="1.5"/>
<circle cx="201.25" cy="420.46" r="1.5"/>
<circle cx="198.62" cy="413.8" r="1.5"/>
<circle cx="195.41" cy="417.33" r="1.5"/>
<circle cx="200.59" cy="413.31" r="1.5"/>
<circle cx="196.55" cy="414.65" r="1.5"/>
<circle cx="191.27" cy="418.64" r="1.5"/>
<circle cx="189.56" cy="415.4" r="1.5"/>
<circle cx="191.63" cy="420.67" r="1.5"/>
<circle cx="188.64" cy="413.2" r="1.5"/>
</g>
<g fill="none" stroke="#BAB0AC" stroke-width="1.1">
<circle cx="246.17" cy="387.25" r="1.5"/>
<circle cx="250.01" cy="392.38" r="1.5"/>
<circle cx="246.03" cy="387.3" r="1.5"/>
<circle cx="247.88" cy="382.03" r="1.5"/>
<circle cx="235.53" cy="382.08" r="1.5"/>
<circle cx="245.2" cy="395.58" r="1.5"/>
<circle cx="236.24" cy="388.85" r="1.5"/>
<circle cx="248.06" cy="393.04" r="1.5"/>
<circle cx="234.62" cy="384.98" r="1.5"/>
<circle cx="235.83" cy="382.73" r="1.5"/>
<circle cx="240.32" cy="381.6" r="1.5"/>
<circle cx="249.57" cy="389.39" r="1.5"/>
<circle cx="242.21" cy="394.24" r="1.5"/>
<circle cx="246.8" cy="398.06" r="1.5"/>
<circle cx="239.95" cy="387.29" r="1.5"/>
<circle cx="240.42" cy="380.34" r="1.5"/>
<circle cx="240.21" cy="395.4" r="1.5"/>
<circle cx="244.88" cy="393.39" r="1.5"/>
<circle cx="233.33" cy="387.28" r="1.5"/>
<circle cx="239.16" cy="394.32" r="1.5"/>
<circle cx="234.91" cy="388.31" r="1.5"/>
<circle cx="242.17" cy="397.35" r="1.5"/>
<circle cx="247.85" cy="393.45" r="1.5"/>
<circle cx="235.85" cy="396.86" r="1.5"/>
<circle cx="249.25" cy="392.06" r="1.5"/>
<circle cx="239.35" cy="391.01" r="1.5"/>
<circle cx="235.55" cy="395.7" r="1.5"/>
<circle cx="245.88" cy="398.38" r="1.5"/>
<circle cx="236.55" cy="400.79" r="1.5"/>
<circle cx="244.29" cy="384.35" r="1.5"/>
</g>
<g fill="none" stroke="#BAB0AC" stroke-width="1.1">
<circle cx="179.58" cy="467.42" r="1.5"/>
<circle cx="206.71" cy="473.76" r="1.5"/>
<circle cx="194.87" cy="470.48" r="1.5"/>
<circle cx="204.89" cy="471.85" r="1.5"/>
<circle cx="205.82" cy="467.7" r="1.5"/>
<circle cx="219.96" cy="472.42" r="1.5"/>
<circle cx="188.25" cy="472.03" r="1.5"/>
<circle cx="220.69" cy="466.6" r="1.5"/>
<circle cx="176.76" cy="466.52" r="1.5"/>
<circle cx="211.21" cy="468.31" r="1.5"/>
<circle cx="211.92" cy="474.33" r="1.5"/>
<circle cx="195.99" cy="472.29" r="1.5"/>
<circle cx="185.97" cy="470.55" r="1.5"/>
<circle cx="182.86" cy="469.41" r="1.5"/>
<circle cx="203.59" cy="467.69" r="1.5"/>
<circle cx="206.24" cy="468.65" r="1.5"/>
<circle cx="211.9" cy="466.03" r="1.5"/>
<circle cx="200.85" cy="469.76" r="1.5"/>
</g>
<g fill="none" stroke="#BAB0AC" stroke-width="1.1">
<circle cx="175.7" cy="388" r="1.5"/>
<circle cx="197" cy="382" r="1.5"/>
<circle cx="225" cy="398.9" r="1.5"/>
<circle cx="236.3" cy="390" r="1.5"/>
<circle cx="160" cy="402" r="1.5"/>
<circle cx="150" cy="415" r="1.5"/>
<circle cx="185" cy="398" r="1.5"/>
<circle cx="210" cy="388" r="1.5"/>
<circle cx="228" cy="376" r="1.5"/>
<circle cx="204.7" cy="406" r="1.5"/>
<circle cx="217" cy="406" r="1.5"/>
<circle cx="205.8" cy="411.8" r="1.5"/>
<circle cx="214" cy="413.8" r="1.5"/>
<circle cx="168" cy="428" r="1.5"/>
<circle cx="157" cy="430" r="1.5"/>
<circle cx="190" cy="425" r="1.5"/>
<circle cx="240" cy="366" r="1.5"/>
<circle cx="244" cy="380" r="1.5"/>
<circle cx="176" cy="417" r="1.5"/>
<circle cx="167" cy="415" r="1.5"/>
<circle cx="181" cy="412" r="1.5"/>
<circle cx="213" cy="420" r="1.5"/>
<circle cx="220" cy="412" r="1.5"/>
</g>
<path d="M60.5,448 L75,445.8 L100.7,443.6 L106,443.8 L106,453.6 L82,453.1 L60.5,452.4Z" fill="#F28E2B"/>
<g fill="none" stroke="#F28E2B" stroke-width="1.1">
<circle cx="91.19" cy="450.2" r="1.5"/>
<circle cx="97.9" cy="450.77" r="1.5"/>
<circle cx="101.91" cy="451.7" r="1.5"/>
<circle cx="80.45" cy="447.91" r="1.5"/>
<circle cx="86.3" cy="448.73" r="1.5"/>
<circle cx="96.28" cy="452.1" r="1.5"/>
<circle cx="96.6" cy="449.38" r="1.5"/>
<circle cx="97.59" cy="446.74" r="1.5"/>
<circle cx="85.13" cy="447.57" r="1.5"/>
<circle cx="62.6" cy="450.25" r="1.5"/>
<circle cx="86.31" cy="446.15" r="1.5"/>
<circle cx="75.31" cy="447.56" r="1.5"/>
<circle cx="105.56" cy="452.7" r="1.5"/>
<circle cx="93.29" cy="451.8" r="1.5"/>
<circle cx="81.07" cy="451.25" r="1.5"/>
<circle cx="71.09" cy="450.72" r="1.5"/>
<circle cx="64.93" cy="451.13" r="1.5"/>
<circle cx="66.19" cy="448.84" r="1.5"/>
<circle cx="104.76" cy="451.34" r="1.5"/>
<circle cx="79.86" cy="447.21" r="1.5"/>
<circle cx="75.39" cy="448.49" r="1.5"/>
<circle cx="106.7" cy="452.8" r="1.5"/>
<circle cx="104.84" cy="445.76" r="1.5"/>
<circle cx="101.9" cy="447.19" r="1.5"/>
<circle cx="70.1" cy="449.69" r="1.5"/>
<circle cx="96.29" cy="446.82" r="1.5"/>
<circle cx="105.02" cy="451.83" r="1.5"/>
<circle cx="95.66" cy="445.21" r="1.5"/>
<circle cx="95.53" cy="445.77" r="1.5"/>
<circle cx="93.23" cy="451.11" r="1.5"/>
<circle cx="78.63" cy="449.96" r="1.5"/>
<circle cx="104.22" cy="449.31" r="1.5"/>
<circle cx="106.34" cy="450" r="1.5"/>
<circle cx="73.84" cy="449.76" r="1.5"/>
<circle cx="82.02" cy="448.75" r="1.5"/>
<circle cx="89.98" cy="446.56" r="1.5"/>
<circle cx="72.55" cy="451.23" r="1.5"/>
<circle cx="97.78" cy="446.21" r="1.5"/>
<circle cx="73.96" cy="448.93" r="1.5"/>
<circle cx="109.39" cy="444.3" r="1.5"/>
<circle cx="83.08" cy="450.76" r="1.5"/>
<circle cx="87.8" cy="449.8" r="1.5"/>
<circle cx="77.98" cy="449.92" r="1.5"/>
<circle cx="99.15" cy="448.65" r="1.5"/>
<circle cx="85.28" cy="451.61" r="1.5"/>
<circle cx="94.21" cy="448.68" r="1.5"/>
<circle cx="107.58" cy="445.57" r="1.5"/>
<circle cx="98.98" cy="445.49" r="1.5"/>
<circle cx="90.4" cy="446.12" r="1.5"/>
<circle cx="82.02" cy="450.96" r="1.5"/>
<circle cx="99.33" cy="451.12" r="1.5"/>
<circle cx="71.8" cy="448.4" r="1.5"/>
<circle cx="71.06" cy="449.22" r="1.5"/>
<circle cx="89.84" cy="450.43" r="1.5"/>
<circle cx="88.63" cy="451.86" r="1.5"/>
<circle cx="81.73" cy="447.98" r="1.5"/>
<circle cx="73.15" cy="451.19" r="1.5"/>
<circle cx="88.44" cy="448.89" r="1.5"/>
<circle cx="99.58" cy="446.14" r="1.5"/>
<circle cx="91.06" cy="448.73" r="1.5"/>
<circle cx="73.24" cy="449.3" r="1.5"/>
<circle cx="64.42" cy="451.39" r="1.5"/>
<circle cx="67.99" cy="450.22" r="1.5"/>
<circle cx="101.55" cy="451.08" r="1.5"/>
<circle cx="108.53" cy="444.38" r="1.5"/>
<circle cx="84.48" cy="450.85" r="1.5"/>
<circle cx="109.31" cy="445.3" r="1.5"/>
<circle cx="82.77" cy="450.7" r="1.5"/>
<circle cx="104.5" cy="445.27" r="1.5"/>
<circle cx="79.65" cy="446.68" r="1.5"/>
<circle cx="98.16" cy="450.61" r="1.5"/>
<circle cx="87.59" cy="446.18" r="1.5"/>
<circle cx="78.2" cy="447.03" r="1.5"/>
<circle cx="109.06" cy="449.5" r="1.5"/>
<circle cx="77.16" cy="450.25" r="1.5"/>
<circle cx="103.22" cy="449.32" r="1.5"/>
<circle cx="104.32" cy="448.16" r="1.5"/>
<circle cx="79.65" cy="451.59" r="1.5"/>
<circle cx="79.06" cy="451.03" r="1.5"/>
<circle cx="69.18" cy="448.95" r="1.5"/>
<circle cx="70.72" cy="448.21" r="1.5"/>
<circle cx="75.43" cy="448.02" r="1.5"/>
<circle cx="109.67" cy="450.11" r="1.5"/>
<circle cx="103.14" cy="445.84" r="1.5"/>
<circle cx="94.57" cy="447.27" r="1.5"/>
<circle cx="95.76" cy="446.42" r="1.5"/>
<circle cx="106.83" cy="447.24" r="1.5"/>
<circle cx="98.28" cy="450.51" r="1.5"/>
<circle cx="76.1" cy="447.46" r="1.5"/>
<circle cx="76.26" cy="450.94" r="1.5"/>
<circle cx="75.61" cy="447.82" r="1.5"/>
<circle cx="95.33" cy="446.34" r="1.5"/>
<circle cx="96.27" cy="450" r="1.5"/>
<circle cx="74.02" cy="450.41" r="1.5"/>
<circle cx="80.27" cy="447.48" r="1.5"/>
<circle cx="103.3" cy="446.03" r="1.5"/>
<circle cx="74.6" cy="447.1" r="1.5"/>
<circle cx="61.23" cy="449.67" r="1.5"/>
<circle cx="88.3" cy="451.28" r="1.5"/>
<circle cx="108.78" cy="446.68" r="1.5"/>
<circle cx="70.81" cy="450.2" r="1.5"/>
<circle cx="103.42" cy="446.11" r="1.5"/>
<circle cx="81.39" cy="447.53" r="1.5"/>
<circle cx="76.41" cy="448.47" r="1.5"/>
<circle cx="80.12" cy="448.28" r="1.5"/>
<circle cx="68.34" cy="449.99" r="1.5"/>
<circle cx="77.09" cy="447.8" r="1.5"/>
<circle cx="67.54" cy="449.24" r="1.5"/>
<circle cx="95.07" cy="448.98" r="1.5"/>
<circle cx="79.57" cy="447.28" r="1.5"/>
</g>
<g fill="none" stroke="#F28E2B" stroke-width="1.1">
<circle cx="123.44" cy="449.86" r="1.5"/>
<circle cx="113.02" cy="446.43" r="1.5"/>
<circle cx="135.67" cy="451.39" r="1.5"/>
<circle cx="110.48" cy="453.02" r="1.5"/>
<circle cx="107.44" cy="449.86" r="1.5"/>
<circle cx="114.51" cy="451.56" r="1.5"/>
<circle cx="137.7" cy="454.67" r="1.5"/>
<circle cx="125.09" cy="452.27" r="1.5"/>
<circle cx="116.44" cy="449.01" r="1.5"/>
<circle cx="135.19" cy="448.47" r="1.5"/>
<circle cx="105.43" cy="450.46" r="1.5"/>
<circle cx="112.34" cy="448.13" r="1.5"/>
<circle cx="139.08" cy="444.78" r="1.5"/>
<circle cx="107.7" cy="446.03" r="1.5"/>
<circle cx="127.21" cy="446.13" r="1.5"/>
<circle cx="115.76" cy="446.21" r="1.5"/>
<circle cx="119.74" cy="452.74" r="1.5"/>
<circle cx="121.93" cy="452.33" r="1.5"/>
<circle cx="138.75" cy="447.7" r="1.5"/>
<circle cx="127.82" cy="453.32" r="1.5"/>
<circle cx="138.56" cy="455.51" r="1.5"/>
<circle cx="106.38" cy="452.28" r="1.5"/>
<circle cx="119.63" cy="451.36" r="1.5"/>
<circle cx="114.78" cy="446.94" r="1.5"/>
<circle cx="129.96" cy="450.89" r="1.5"/>
<circle cx="109.48" cy="446.36" r="1.5"/>
<circle cx="113" cy="445.23" r="1.5"/>
<circle cx="120.55" cy="444.4" r="1.5"/>
<circle cx="104.51" cy="449.58" r="1.5"/>
<circle cx="130.88" cy="450.04" r="1.5"/>
<circle cx="110.16" cy="450.47" r="1.5"/>
<circle cx="131.86" cy="448.64" r="1.5"/>
<circle cx="128.64" cy="446.4" r="1.5"/>
<circle cx="128.63" cy="447.6" r="1.5"/>
<circle cx="133.71" cy="455.57" r="1.5"/>
<circle cx="122.7" cy="449.09" r="1.5"/>
<circle cx="128.28" cy="452.31" r="1.5"/>
<circle cx="133.24" cy="455.14" r="1.5"/>
<circle cx="105.01" cy="448.39" r="1.5"/>
<circle cx="126.77" cy="446.07" r="1.5"/>
<circle cx="138.82" cy="444.53" r="1.5"/>
<circle cx="127.5" cy="449.07" r="1.5"/>
<circle cx="125.26" cy="448.71" r="1.5"/>
<circle cx="139.75" cy="444.31" r="1.5"/>
<circle cx="121.7" cy="450.08" r="1.5"/>
<circle cx="114.94" cy="447.32" r="1.5"/>
<circle cx="132.02" cy="455.74" r="1.5"/>
<circle cx="111.35" cy="448.63" r="1.5"/>
<circle cx="124.71" cy="454.57" r="1.5"/>
<circle cx="139.24" cy="448.59" r="1.5"/>
<circle cx="127.76" cy="451.08" r="1.5"/>
<circle cx="132.01" cy="444.74" r="1.5"/>
<circle cx="107" cy="444.1" r="1.5"/>
<circle cx="137.34" cy="446.4" r="1.5"/>
<circle cx="119.53" cy="444.31" r="1.5"/>
<circle cx="122.64" cy="444.68" r="1.5"/>
<circle cx="125.01" cy="446.76" r="1.5"/>
<circle cx="109.1" cy="450.07" r="1.5"/>
<circle cx="114.63" cy="446.53" r="1.5"/>
<circle cx="135.71" cy="447.32" r="1.5"/>
<circle cx="103.14" cy="445.3" r="1.5"/>
<circle cx="119.37" cy="448.99" r="1.5"/>
<circle cx="132.28" cy="448.7" r="1.5"/>
<circle cx="126.28" cy="452.31" r="1.5"/>
<circle cx="129" cy="445.2" r="1.5"/>
<circle cx="101.07" cy="445.08" r="1.5"/>
<circle cx="112.4" cy="450.58" r="1.5"/>
<circle cx="131.69" cy="454.09" r="1.5"/>
<circle cx="133.11" cy="454.61" r="1.5"/>
<circle cx="139.44" cy="444" r="1.5"/>
<circle cx="138.02" cy="448.8" r="1.5"/>
<circle cx="128.21" cy="446.38" r="1.5"/>
<circle cx="123.07" cy="446.01" r="1.5"/>
<circle cx="115.54" cy="448.27" r="1.5"/>
<circle cx="114.59" cy="452.54" r="1.5"/>
<circle cx="114.16" cy="446.84" r="1.5"/>
<circle cx="136.21" cy="447.51" r="1.5"/>
<circle cx="103.77" cy="447.72" r="1.5"/>
<circle cx="129.67" cy="445.76" r="1.5"/>
<circle cx="129.73" cy="451.09" r="1.5"/>
<circle cx="127.21" cy="445.22" r="1.5"/>
<circle cx="104.23" cy="444.67" r="1.5"/>
<circle cx="114.01" cy="449.25" r="1.5"/>
<circle cx="116.13" cy="447.51" r="1.5"/>
<circle cx="108.79" cy="448.89" r="1.5"/>
<circle cx="128.24" cy="445.23" r="1.5"/>
<circle cx="110.93" cy="453.17" r="1.5"/>
<circle cx="137.91" cy="447.52" r="1.5"/>
<circle cx="107.34" cy="448.08" r="1.5"/>
<circle cx="139.58" cy="444.76" r="1.5"/>
<circle cx="125.39" cy="448.41" r="1.5"/>
<circle cx="125.76" cy="445.78" r="1.5"/>
<circle cx="134.25" cy="452.4" r="1.5"/>
<circle cx="120.19" cy="451.43" r="1.5"/>
<circle cx="127.59" cy="449.61" r="1.5"/>
<circle cx="126.62" cy="449.07" r="1.5"/>
<circle cx="115.39" cy="446.06" r="1.5"/>
<circle cx="124.03" cy="451.51" r="1.5"/>
<circle cx="120.61" cy="442.91" r="1.5"/>
<circle cx="125.09" cy="449.5" r="1.5"/>
<circle cx="123.73" cy="451.85" r="1.5"/>
<circle cx="137.26" cy="444.82" r="1.5"/>
<circle cx="129.52" cy="447.38" r="1.5"/>
<circle cx="119.64" cy="446.12" r="1.5"/>
<circle cx="133.61" cy="452.72" r="1.5"/>
<circle cx="137.51" cy="455.59" r="1.5"/>
<circle cx="131.91" cy="450.53" r="1.5"/>
<circle cx="134.8" cy="453.72" r="1.5"/>
<circle cx="118.16" cy="450.93" r="1.5"/>
<circle cx="134.62" cy="445.52" r="1.5"/>
<circle cx="111.18" cy="452.63" r="1.5"/>
<circle cx="131.49" cy="450.2" r="1.5"/>
<circle cx="134.2" cy="454.66" r="1.5"/>
<circle cx="131.87" cy="444.81" r="1.5"/>
<circle cx="114.63" cy="444" r="1.5"/>
<circle cx="134.59" cy="455.66" r="1.5"/>
<circle cx="104.7" cy="445.29" r="1.5"/>
<circle cx="108.27" cy="452.4" r="1.5"/>
<circle cx="135.06" cy="453.97" r="1.5"/>
<circle cx="117.23" cy="442.64" r="1.5"/>
<circle cx="113.58" cy="447.41" r="1.5"/>
<circle cx="125.19" cy="446.83" r="1.5"/>
<circle cx="124.12" cy="453.45" r="1.5"/>
<circle cx="107.23" cy="444.44" r="1.5"/>
<circle cx="127.75" cy="449.82" r="1.5"/>
<circle cx="105.16" cy="444.24" r="1.5"/>
<circle cx="137.64" cy="452.1" r="1.5"/>
<circle cx="114.3" cy="445.52" r="1.5"/>
<circle cx="139.79" cy="453.4" r="1.5"/>
<circle cx="129.45" cy="448.13" r="1.5"/>
<circle cx="112.41" cy="448.89" r="1.5"/>
<circle cx="105.85" cy="452.44" r="1.5"/>
<circle cx="116.36" cy="449.66" r="1.5"/>
<circle cx="109.4" cy="451.61" r="1.5"/>
<circle cx="127.07" cy="449.63" r="1.5"/>
<circle cx="137.35" cy="448.56" r="1.5"/>
<circle cx="129.73" cy="451.96" r="1.5"/>
<circle cx="117.94" cy="443.42" r="1.5"/>
<circle cx="116.76" cy="446.87" r="1.5"/>
<circle cx="126.88" cy="446.29" r="1.5"/>
<circle cx="116.46" cy="444.5" r="1.5"/>
<circle cx="135.81" cy="446.4" r="1.5"/>
<circle cx="116.83" cy="447.83" r="1.5"/>
<circle cx="132.82" cy="455.92" r="1.5"/>
<circle cx="123.63" cy="451.08" r="1.5"/>
<circle cx="103.54" cy="448.18" r="1.5"/>
<circle cx="126.77" cy="447.87" r="1.5"/>
<circle cx="118.77" cy="448.15" r="1.5"/>
<circle cx="118.59" cy="447.42" r="1.5"/>
<circle cx="126.83" cy="452.03" r="1.5"/>
</g>
<g fill="none" stroke="#F28E2B" stroke-width="1.1">
<circle cx="170.99" cy="459.98" r="1.5"/>
<circle cx="171.75" cy="449.51" r="1.5"/>
<circle cx="166.17" cy="454.1" r="1.5"/>
<circle cx="161.84" cy="460.36" r="1.5"/>
<circle cx="140.26" cy="450.72" r="1.5"/>
<circle cx="151.64" cy="454.21" r="1.5"/>
<circle cx="145.12" cy="449.06" r="1.5"/>
<circle cx="142.86" cy="449.5" r="1.5"/>
<circle cx="163.22" cy="443.9" r="1.5"/>
<circle cx="143.67" cy="454.08" r="1.5"/>
<circle cx="159.18" cy="455.76" r="1.5"/>
<circle cx="146.62" cy="457" r="1.5"/>
<circle cx="162.85" cy="456.37" r="1.5"/>
<circle cx="142.07" cy="450.84" r="1.5"/>
<circle cx="170.11" cy="458.52" r="1.5"/>
<circle cx="138.82" cy="448.72" r="1.5"/>
<circle cx="156.22" cy="452.01" r="1.5"/>
<circle cx="141.78" cy="456.61" r="1.5"/>
<circle cx="148.25" cy="451.53" r="1.5"/>
<circle cx="142.24" cy="452.62" r="1.5"/>
<circle cx="142.41" cy="443.99" r="1.5"/>
<circle cx="155.41" cy="447.69" r="1.5"/>
<circle cx="164.43" cy="446.84" r="1.5"/>
<circle cx="152.07" cy="443.38" r="1.5"/>
<circle cx="145.4" cy="450.53" r="1.5"/>
<circle cx="156.98" cy="450.67" r="1.5"/>
<circle cx="166.93" cy="444.28" r="1.5"/>
<circle cx="166.9" cy="445.19" r="1.5"/>
<circle cx="170.99" cy="451.85" r="1.5"/>
<circle cx="151.82" cy="453.42" r="1.5"/>
<circle cx="167.37" cy="459.75" r="1.5"/>
<circle cx="143.23" cy="457.13" r="1.5"/>
<circle cx="162.97" cy="455.23" r="1.5"/>
<circle cx="143.32" cy="451.96" r="1.5"/>
<circle cx="138.97" cy="444.38" r="1.5"/>
<circle cx="159.86" cy="457.66" r="1.5"/>
<circle cx="139.57" cy="449.89" r="1.5"/>
<circle cx="140.66" cy="447.09" r="1.5"/>
<circle cx="149.18" cy="451.2" r="1.5"/>
<circle cx="160.24" cy="458.36" r="1.5"/>
<circle cx="170.18" cy="452.62" r="1.5"/>
<circle cx="155.03" cy="458.67" r="1.5"/>
<circle cx="151.41" cy="447.79" r="1.5"/>
<circle cx="163.14" cy="447.05" r="1.5"/>
<circle cx="150.51" cy="450.13" r="1.5"/>
<circle cx="154.21" cy="448.85" r="1.5"/>
<circle cx="152.64" cy="450.51" r="1.5"/>
<circle cx="139.69" cy="457.44" r="1.5"/>
<circle cx="140.1" cy="451.9" r="1.5"/>
<circle cx="156.62" cy="449.6" r="1.5"/>
<circle cx="145.57" cy="444.19" r="1.5"/>
<circle cx="150.65" cy="448.06" r="1.5"/>
<circle cx="154.46" cy="446.55" r="1.5"/>
<circle cx="163.48" cy="451.17" r="1.5"/>
<circle cx="138.3" cy="449.72" r="1.5"/>
<circle cx="158.17" cy="459.69" r="1.5"/>
<circle cx="150.43" cy="453.17" r="1.5"/>
<circle cx="150.54" cy="447.82" r="1.5"/>
<circle cx="158.71" cy="453.01" r="1.5"/>
<circle cx="148.71" cy="451.36" r="1.5"/>
<circle cx="155.55" cy="455.97" r="1.5"/>
<circle cx="139.8" cy="444.07" r="1.5"/>
<circle cx="146.57" cy="447.26" r="1.5"/>
<circle cx="165.05" cy="450.06" r="1.5"/>
<circle cx="167.24" cy="449.64" r="1.5"/>
<circle cx="147.72" cy="454.64" r="1.5"/>
<circle cx="166.27" cy="448.31" r="1.5"/>
<circle cx="148.79" cy="457.15" r="1.5"/>
<circle cx="164.8" cy="453.96" r="1.5"/>
<circle cx="139.93" cy="456.14" r="1.5"/>
<circle cx="139.63" cy="453.64" r="1.5"/>
<circle cx="156.77" cy="459.09" r="1.5"/>
<circle cx="159.72" cy="442.8" r="1.5"/>
<circle cx="169.77" cy="455.95" r="1.5"/>
<circle cx="157.71" cy="442.5" r="1.5"/>
<circle cx="163.06" cy="449.93" r="1.5"/>
<circle cx="161.11" cy="460.11" r="1.5"/>
<circle cx="164.57" cy="450.33" r="1.5"/>
<circle cx="163.55" cy="449.2" r="1.5"/>
<circle cx="153.22" cy="450.26" r="1.5"/>
<circle cx="142.01" cy="448.16" r="1.5"/>
<circle cx="162.98" cy="443.69" r="1.5"/>
<circle cx="141.94" cy="457.41" r="1.5"/>
<circle cx="160.65" cy="452.27" r="1.5"/>
<circle cx="141.85" cy="444.53" r="1.5"/>
<circle cx="157.05" cy="459" r="1.5"/>
<circle cx="145.18" cy="449.87" r="1.5"/>
<circle cx="156.24" cy="457.51" r="1.5"/>
<circle cx="154.06" cy="442.96" r="1.5"/>
<circle cx="152.69" cy="449.2" r="1.5"/>
<circle cx="160.93" cy="459.11" r="1.5"/>
<circle cx="154.78" cy="454.81" r="1.5"/>
<circle cx="151.19" cy="456.41" r="1.5"/>
<circle cx="141.58" cy="455.76" r="1.5"/>
<circle cx="143.66" cy="452.94" r="1.5"/>
<circle cx="144.87" cy="448.63" r="1.5"/>
<circle cx="143.57" cy="448.7" r="1.5"/>
<circle cx="158.11" cy="451.76" r="1.5"/>
<circle cx="151.21" cy="452.74" r="1.5"/>
<circle cx="166.64" cy="448.85" r="1.5"/>
</g>
<g fill="none" stroke="#F28E2B" stroke-width="1.1">
<circle cx="134.6" cy="416.8" r="1.5"/>
<circle cx="153.3" cy="415.7" r="1.5"/>
<circle cx="161" cy="425.2" r="1.5"/>
<circle cx="147.9" cy="433.4" r="1.5"/>
<circle cx="156.8" cy="440.2" r="1.5"/>
<circle cx="130" cy="440.9" r="1.5"/>
<circle cx="120" cy="439" r="1.5"/>
<circle cx="140" cy="438.5" r="1.5"/>
<circle cx="165" cy="439" r="1.5"/>
</g>
<path d="M250,355 L255,352 L257,362 L256.5,374 L250,374Z" fill="#FF9DA7"/>
<g fill="none" stroke="#FF9DA7" stroke-width="1.1">
<circle cx="253.55" cy="341.11" r="1.5"/>
<circle cx="254.63" cy="323.58" r="1.5"/>
<circle cx="250.48" cy="358.86" r="1.5"/>
<circle cx="253.46" cy="325.25" r="1.5"/>
<circle cx="248.61" cy="365.56" r="1.5"/>
<circle cx="251.59" cy="357.87" r="1.5"/>
<circle cx="252.11" cy="350.85" r="1.5"/>
<circle cx="253.32" cy="376.28" r="1.5"/>
<circle cx="256.64" cy="339.36" r="1.5"/>
<circle cx="252.62" cy="323.42" r="1.5"/>
<circle cx="255.15" cy="314.26" r="1.5"/>
<circle cx="250.91" cy="367.17" r="1.5"/>
<circle cx="248.33" cy="356.59" r="1.5"/>
<circle cx="253.4" cy="346.16" r="1.5"/>
<circle cx="251.16" cy="317.76" r="1.5"/>
<circle cx="257.03" cy="361.3" r="1.5"/>
<circle cx="255.65" cy="313.94" r="1.5"/>
<circle cx="255.45" cy="322.51" r="1.5"/>
<circle cx="249.89" cy="344.98" r="1.5"/>
<circle cx="253.79" cy="315.58" r="1.5"/>
<circle cx="255.27" cy="348.35" r="1.5"/>
<circle cx="256.54" cy="372.6" r="1.5"/>
<circle cx="254.55" cy="332.85" r="1.5"/>
<circle cx="257.03" cy="358.02" r="1.5"/>
<circle cx="250.76" cy="367.89" r="1.5"/>
<circle cx="254.91" cy="325.8" r="1.5"/>
<circle cx="250.37" cy="308.44" r="1.5"/>
<circle cx="253.1" cy="325" r="1.5"/>
<circle cx="250.78" cy="324.95" r="1.5"/>
<circle cx="249.25" cy="341.43" r="1.5"/>
<circle cx="250.59" cy="327.24" r="1.5"/>
<circle cx="250.64" cy="343.15" r="1.5"/>
<circle cx="256.3" cy="318.37" r="1.5"/>
<circle cx="256.17" cy="367.69" r="1.5"/>
<circle cx="253.79" cy="345.61" r="1.5"/>
<circle cx="254.97" cy="344.95" r="1.5"/>
<circle cx="254.27" cy="372.27" r="1.5"/>
<circle cx="255.36" cy="325.45" r="1.5"/>
<circle cx="248.52" cy="373.5" r="1.5"/>
<circle cx="251.45" cy="362.9" r="1.5"/>
<circle cx="250.22" cy="339.15" r="1.5"/>
<circle cx="251.52" cy="358.78" r="1.5"/>
<circle cx="256.96" cy="342.9" r="1.5"/>
<circle cx="253.38" cy="331.76" r="1.5"/>
<circle cx="250.21" cy="374.44" r="1.5"/>
<circle cx="249.05" cy="373.77" r="1.5"/>
<circle cx="254.24" cy="312.1" r="1.5"/>
<circle cx="253.37" cy="315.5" r="1.5"/>
<circle cx="254.33" cy="311.82" r="1.5"/>
<circle cx="248.28" cy="347.54" r="1.5"/>
<circle cx="257.34" cy="355.64" r="1.5"/>
<circle cx="256.13" cy="362.72" r="1.5"/>
<circle cx="252.95" cy="312.48" r="1.5"/>
<circle cx="253.01" cy="320.1" r="1.5"/>
<circle cx="253" cy="332.15" r="1.5"/>
<circle cx="252.74" cy="321.02" r="1.5"/>
<circle cx="254.7" cy="336.63" r="1.5"/>
<circle cx="252.62" cy="312.59" r="1.5"/>
<circle cx="252.63" cy="346.59" r="1.5"/>
<circle cx="257.24" cy="346.86" r="1.5"/>
<circle cx="249.28" cy="328.32" r="1.5"/>
<circle cx="251.19" cy="356.85" r="1.5"/>
<circle cx="257.02" cy="372.7" r="1.5"/>
<circle cx="256.16" cy="373.38" r="1.5"/>
<circle cx="248.19" cy="341.77" r="1.5"/>
<circle cx="253.61" cy="355.69" r="1.5"/>
<circle cx="253.82" cy="350.53" r="1.5"/>
<circle cx="252.93" cy="375.12" r="1.5"/>
<circle cx="256.26" cy="374.96" r="1.5"/>
<circle cx="255.88" cy="355.88" r="1.5"/>
<circle cx="252.94" cy="348.19" r="1.5"/>
<circle cx="255.2" cy="364.35" r="1.5"/>
<circle cx="255.54" cy="376.25" r="1.5"/>
<circle cx="255.92" cy="335.94" r="1.5"/>
<circle cx="251.19" cy="331.62" r="1.5"/>
<circle cx="248.14" cy="361.68" r="1.5"/>
<circle cx="250.49" cy="348.58" r="1.5"/>
<circle cx="253" cy="330.81" r="1.5"/>
<circle cx="254.41" cy="339.3" r="1.5"/>
<circle cx="250.23" cy="369.61" r="1.5"/>
<circle cx="249.67" cy="317.65" r="1.5"/>
<circle cx="250.41" cy="341.01" r="1.5"/>
<circle cx="255.44" cy="330.63" r="1.5"/>
<circle cx="250.26" cy="353.46" r="1.5"/>
<circle cx="250.47" cy="344.12" r="1.5"/>
<circle cx="250.42" cy="369.27" r="1.5"/>
<circle cx="249.75" cy="323.49" r="1.5"/>
<circle cx="250.86" cy="330.4" r="1.5"/>
<circle cx="254.9" cy="354.86" r="1.5"/>
<circle cx="255.51" cy="345.35" r="1.5"/>
<circle cx="248.75" cy="361.21" r="1.5"/>
<circle cx="250.32" cy="322.47" r="1.5"/>
<circle cx="251.52" cy="332.31" r="1.5"/>
<circle cx="251.68" cy="316.62" r="1.5"/>
<circle cx="255.5" cy="362.54" r="1.5"/>
<circle cx="251.21" cy="363.12" r="1.5"/>
<circle cx="251.6" cy="327.38" r="1.5"/>
<circle cx="253.64" cy="359.65" r="1.5"/>
<circle cx="252.52" cy="365.1" r="1.5"/>
<circle cx="248.13" cy="342.43" r="1.5"/>
<circle cx="251.61" cy="311.62" r="1.5"/>
<circle cx="249.95" cy="369.35" r="1.5"/>
<circle cx="257.12" cy="373.14" r="1.5"/>
<circle cx="251.25" cy="373.08" r="1.5"/>
<circle cx="249.35" cy="357.73" r="1.5"/>
<circle cx="249.29" cy="355.15" r="1.5"/>
<circle cx="256.38" cy="358.58" r="1.5"/>
<circle cx="257.02" cy="339.22" r="1.5"/>
<circle cx="251.54" cy="315.53" r="1.5"/>
<circle cx="250.59" cy="373.66" r="1.5"/>
<circle cx="248.68" cy="320.12" r="1.5"/>
<circle cx="251.3" cy="310.5" r="1.5"/>
<circle cx="250.92" cy="319.98" r="1.5"/>
<circle cx="249.17" cy="344.41" r="1.5"/>
<circle cx="253.13" cy="347.31" r="1.5"/>
<circle cx="255.24" cy="344.4" r="1.5"/>
<circle cx="250.12" cy="312.45" r="1.5"/>
<circle cx="250.94" cy="361.01" r="1.5"/>
<circle cx="256.78" cy="342.77" r="1.5"/>
<circle cx="249.52" cy="330.46" r="1.5"/>
</g>
<g fill="none" stroke="#FF9DA7" stroke-width="1.1">
<circle cx="221.4" cy="351.1" r="1.5"/>
<circle cx="208" cy="368" r="1.5"/>
<circle cx="225.5" cy="370.1" r="1.5"/>
<circle cx="232.1" cy="345.3" r="1.5"/>
<circle cx="233" cy="382" r="1.5"/>
<circle cx="233.3" cy="374.5" r="1.5"/>
<circle cx="238.5" cy="357" r="1.5"/>
<circle cx="243.2" cy="352.3" r="1.5"/>
<circle cx="240.3" cy="369.8" r="1.5"/>
<circle cx="242.5" cy="333.6" r="1.5"/>
<circle cx="241.8" cy="338.7" r="1.5"/>
<circle cx="236" cy="362" r="1.5"/>
<circle cx="240" cy="378" r="1.5"/>
<circle cx="214" cy="366" r="1.5"/>
<circle cx="242.6" cy="325" r="1.5"/>
<circle cx="242" cy="338.8" r="1.5"/>
<circle cx="244" cy="342" r="1.5"/>
<circle cx="243" cy="355" r="1.5"/>
<circle cx="246" cy="360" r="1.5"/>
<circle cx="245" cy="366" r="1.5"/>
<circle cx="244" cy="372" r="1.5"/>
</g>
<path d="M245.5,272 L248,270.5 L251.5,271.5 L252.8,276 L252.5,284 L250,287 L247,286.5 L245,282 L244.7,276Z" fill="#59A14F"/>
<g fill="none" stroke="#59A14F" stroke-width="1.1">
<circle cx="247.5" cy="289" r="1.5"/>
<circle cx="248.5" cy="292" r="1.5"/>
<circle cx="249" cy="295" r="1.5"/>
<circle cx="251" cy="297" r="1.5"/>
<circle cx="246.5" cy="291" r="1.5"/>
<circle cx="245.8" cy="273" r="1.5"/>
<circle cx="246" cy="281" r="1.5"/>
<circle cx="251.5" cy="279" r="1.5"/>
<circle cx="251" cy="285" r="1.5"/>
</g>
<g fill="none" stroke="#B07AA1" stroke-width="1.1">
<circle cx="240.85" cy="416.37" r="1.5"/>
<circle cx="235.53" cy="429.33" r="1.5"/>
<circle cx="254.45" cy="423.53" r="1.5"/>
<circle cx="250.37" cy="420.82" r="1.5"/>
<circle cx="221.48" cy="434.93" r="1.5"/>
<circle cx="223.77" cy="437.56" r="1.5"/>
<circle cx="237.46" cy="431.42" r="1.5"/>
<circle cx="235.79" cy="411.67" r="1.5"/>
<circle cx="243.32" cy="419.51" r="1.5"/>
<circle cx="236.17" cy="430.2" r="1.5"/>
<circle cx="228.54" cy="418.98" r="1.5"/>
<circle cx="256.31" cy="428.4" r="1.5"/>
<circle cx="233.43" cy="426.69" r="1.5"/>
<circle cx="235.56" cy="417.96" r="1.5"/>
<circle cx="257.77" cy="413.8" r="1.5"/>
<circle cx="256.22" cy="410.83" r="1.5"/>
<circle cx="248.45" cy="413.87" r="1.5"/>
<circle cx="241.6" cy="410.62" r="1.5"/>
<circle cx="259.43" cy="415.93" r="1.5"/>
<circle cx="217.75" cy="432.87" r="1.5"/>
<circle cx="230.01" cy="427.49" r="1.5"/>
<circle cx="237.36" cy="442.75" r="1.5"/>
<circle cx="238.2" cy="419.92" r="1.5"/>
<circle cx="226.18" cy="428.12" r="1.5"/>
<circle cx="243.96" cy="423.41" r="1.5"/>
<circle cx="217.41" cy="424.9" r="1.5"/>
<circle cx="236.61" cy="430.93" r="1.5"/>
<circle cx="252.2" cy="413.85" r="1.5"/>
<circle cx="253.62" cy="437.51" r="1.5"/>
<circle cx="237.69" cy="421.9" r="1.5"/>
<circle cx="240.2" cy="443.73" r="1.5"/>
<circle cx="237" cy="424.25" r="1.5"/>
<circle cx="227.24" cy="439.33" r="1.5"/>
<circle cx="237.65" cy="418.38" r="1.5"/>
<circle cx="253.87" cy="437.75" r="1.5"/>
<circle cx="246.57" cy="437.49" r="1.5"/>
<circle cx="247.87" cy="438" r="1.5"/>
<circle cx="252.26" cy="411.4" r="1.5"/>
<circle cx="252.92" cy="416.74" r="1.5"/>
<circle cx="229.81" cy="437.25" r="1.5"/>
<circle cx="242.92" cy="442.26" r="1.5"/>
<circle cx="258.69" cy="431.06" r="1.5"/>
<circle cx="216.16" cy="432.02" r="1.5"/>
<circle cx="255.7" cy="417.05" r="1.5"/>
<circle cx="222.11" cy="433.16" r="1.5"/>
<circle cx="243.52" cy="409.26" r="1.5"/>
<circle cx="248.61" cy="406.46" r="1.5"/>
<circle cx="255.52" cy="436.28" r="1.5"/>
<circle cx="251.48" cy="440.69" r="1.5"/>
<circle cx="240.89" cy="443.62" r="1.5"/>
<circle cx="244.32" cy="424.66" r="1.5"/>
<circle cx="231.84" cy="418.84" r="1.5"/>
<circle cx="251.99" cy="413.61" r="1.5"/>
<circle cx="245.03" cy="436.56" r="1.5"/>
<circle cx="247.03" cy="425.66" r="1.5"/>
<circle cx="228.48" cy="415.46" r="1.5"/>
<circle cx="222.18" cy="431.21" r="1.5"/>
<circle cx="246.63" cy="443.57" r="1.5"/>
<circle cx="257.66" cy="416.2" r="1.5"/>
<circle cx="259.65" cy="430.01" r="1.5"/>
<circle cx="229.33" cy="415.73" r="1.5"/>
<circle cx="238.6" cy="424.49" r="1.5"/>
<circle cx="239.24" cy="423.87" r="1.5"/>
<circle cx="249.49" cy="414.49" r="1.5"/>
<circle cx="222.76" cy="428.39" r="1.5"/>
<circle cx="224.82" cy="417.76" r="1.5"/>
<circle cx="230.41" cy="426.13" r="1.5"/>
<circle cx="259.5" cy="430.86" r="1.5"/>
<circle cx="233.31" cy="421.08" r="1.5"/>
<circle cx="224.53" cy="423.9" r="1.5"/>
<circle cx="234.22" cy="432.8" r="1.5"/>
<circle cx="250.36" cy="427.31" r="1.5"/>
<circle cx="244.42" cy="443.41" r="1.5"/>
<circle cx="257.23" cy="414.55" r="1.5"/>
<circle cx="238.86" cy="411.95" r="1.5"/>
<circle cx="250.54" cy="406.39" r="1.5"/>
<circle cx="220.37" cy="427.15" r="1.5"/>
<circle cx="226.36" cy="434.23" r="1.5"/>
<circle cx="248.61" cy="417.41" r="1.5"/>
<circle cx="250.58" cy="431.2" r="1.5"/>
<circle cx="247.59" cy="423.18" r="1.5"/>
<circle cx="234.19" cy="408.48" r="1.5"/>
<circle cx="247.03" cy="422.38" r="1.5"/>
<circle cx="219.26" cy="421.88" r="1.5"/>
<circle cx="241.09" cy="435.26" r="1.5"/>
<circle cx="232.75" cy="431.29" r="1.5"/>
<circle cx="246.38" cy="429.86" r="1.5"/>
<circle cx="215.27" cy="433.84" r="1.5"/>
<circle cx="235.96" cy="408.44" r="1.5"/>
<circle cx="236.85" cy="428.69" r="1.5"/>
<circle cx="223.83" cy="440.36" r="1.5"/>
<circle cx="237.93" cy="421.24" r="1.5"/>
<circle cx="232.54" cy="441.26" r="1.5"/>
<circle cx="225.61" cy="437.23" r="1.5"/>
<circle cx="247.7" cy="422.83" r="1.5"/>
<circle cx="230.92" cy="422.35" r="1.5"/>
<circle cx="235.2" cy="417.25" r="1.5"/>
<circle cx="243.57" cy="421.27" r="1.5"/>
<circle cx="227.88" cy="436.46" r="1.5"/>
<circle cx="235.3" cy="423.89" r="1.5"/>
<circle cx="256.1" cy="423.1" r="1.5"/>
<circle cx="231.42" cy="441.72" r="1.5"/>
<circle cx="232.67" cy="432.19" r="1.5"/>
<circle cx="249.31" cy="416.44" r="1.5"/>
<circle cx="248.48" cy="443.89" r="1.5"/>
<circle cx="245.13" cy="432.09" r="1.5"/>
<circle cx="234.32" cy="431.44" r="1.5"/>
<circle cx="224.07" cy="436.36" r="1.5"/>
<circle cx="229.74" cy="433.89" r="1.5"/>
<circle cx="250.55" cy="414.9" r="1.5"/>
<circle cx="243.06" cy="413.28" r="1.5"/>
<circle cx="215.93" cy="428.49" r="1.5"/>
<circle cx="253.24" cy="439.17" r="1.5"/>
<circle cx="232.17" cy="428.79" r="1.5"/>
<circle cx="247.89" cy="435.99" r="1.5"/>
<circle cx="249.59" cy="428.31" r="1.5"/>
<circle cx="225.33" cy="433.62" r="1.5"/>
<circle cx="240.5" cy="426.86" r="1.5"/>
<circle cx="251.25" cy="417.64" r="1.5"/>
<circle cx="248.6" cy="443.91" r="1.5"/>
<circle cx="226.45" cy="427.82" r="1.5"/>
<circle cx="238.89" cy="424.8" r="1.5"/>
<circle cx="221.19" cy="430.27" r="1.5"/>
<circle cx="256.78" cy="431.86" r="1.5"/>
<circle cx="227.17" cy="437.85" r="1.5"/>
<circle cx="233.58" cy="410.1" r="1.5"/>
<circle cx="242.69" cy="423.34" r="1.5"/>
<circle cx="240.9" cy="444.05" r="1.5"/>
<circle cx="230.28" cy="435.87" r="1.5"/>
<circle cx="246.9" cy="432.99" r="1.5"/>
<circle cx="253.59" cy="419.97" r="1.5"/>
<circle cx="226.41" cy="419.05" r="1.5"/>
<circle cx="231.35" cy="431.6" r="1.5"/>
<circle cx="251.91" cy="435.04" r="1.5"/>
<circle cx="225.96" cy="424.54" r="1.5"/>
<circle cx="247.07" cy="405.18" r="1.5"/>
<circle cx="253.13" cy="440.1" r="1.5"/>
<circle cx="223.35" cy="433.54" r="1.5"/>
<circle cx="247.27" cy="418.16" r="1.5"/>
<circle cx="256.04" cy="413.17" r="1.5"/>
<circle cx="236.22" cy="417.18" r="1.5"/>
<circle cx="234.65" cy="438.12" r="1.5"/>
<circle cx="240.93" cy="429.59" r="1.5"/>
<circle cx="223.91" cy="430.03" r="1.5"/>
<circle cx="229.72" cy="422.48" r="1.5"/>
<circle cx="234.13" cy="438.76" r="1.5"/>
<circle cx="257.85" cy="432.43" r="1.5"/>
<circle cx="221.4" cy="418.92" r="1.5"/>
<circle cx="247.61" cy="413.08" r="1.5"/>
<circle cx="256.25" cy="440.64" r="1.5"/>
<circle cx="224.1" cy="419.3" r="1.5"/>
<circle cx="224.21" cy="434.18" r="1.5"/>
<circle cx="215.31" cy="433.22" r="1.5"/>
<circle cx="216.07" cy="439.33" r="1.5"/>
<circle cx="239.62" cy="428.49" r="1.5"/>
<circle cx="242.41" cy="440.22" r="1.5"/>
<circle cx="214.02" cy="433.27" r="1.5"/>
<circle cx="245.68" cy="433.21" r="1.5"/>
<circle cx="228.8" cy="423.63" r="1.5"/>
<circle cx="227.16" cy="427.58" r="1.5"/>
<circle cx="230.44" cy="419.12" r="1.5"/>
<circle cx="225.2" cy="416.27" r="1.5"/>
<circle cx="228.21" cy="428.87" r="1.5"/>
<circle cx="254.46" cy="423.7" r="1.5"/>
<circle cx="238.08" cy="417.1" r="1.5"/>
<circle cx="256.47" cy="435.67" r="1.5"/>
<circle cx="243.51" cy="431.7" r="1.5"/>
<circle cx="246.93" cy="425.02" r="1.5"/>
<circle cx="233.24" cy="420.38" r="1.5"/>
<circle cx="237.7" cy="423.68" r="1.5"/>
</g>
<g fill="none" stroke="#B07AA1" stroke-width="1.1">
<circle cx="248.58" cy="418.66" r="1.5"/>
<circle cx="253.77" cy="425.85" r="1.5"/>
<circle cx="253.93" cy="420.41" r="1.5"/>
<circle cx="243.71" cy="411.83" r="1.5"/>
<circle cx="255.37" cy="424.72" r="1.5"/>
<circle cx="251.67" cy="421.83" r="1.5"/>
<circle cx="252.89" cy="417.09" r="1.5"/>
<circle cx="245.95" cy="419.06" r="1.5"/>
<circle cx="239.49" cy="412.94" r="1.5"/>
<circle cx="248.3" cy="414.2" r="1.5"/>
<circle cx="255.24" cy="418.34" r="1.5"/>
<circle cx="240.97" cy="415.79" r="1.5"/>
<circle cx="250.79" cy="410.21" r="1.5"/>
<circle cx="249.25" cy="426.79" r="1.5"/>
<circle cx="246.71" cy="423.25" r="1.5"/>
<circle cx="249.84" cy="419.65" r="1.5"/>
<circle cx="241.46" cy="417.28" r="1.5"/>
<circle cx="256.01" cy="421.48" r="1.5"/>
<circle cx="242.34" cy="416.94" r="1.5"/>
<circle cx="248.87" cy="414.74" r="1.5"/>
<circle cx="249.56" cy="420.63" r="1.5"/>
<circle cx="238.36" cy="412.4" r="1.5"/>
<circle cx="251.13" cy="412.29" r="1.5"/>
<circle cx="244.68" cy="427.16" r="1.5"/>
<circle cx="249.18" cy="410.03" r="1.5"/>
<circle cx="250.74" cy="413.25" r="1.5"/>
<circle cx="254.29" cy="422.48" r="1.5"/>
<circle cx="240.81" cy="412.04" r="1.5"/>
<circle cx="247.47" cy="427.16" r="1.5"/>
<circle cx="244.43" cy="413.19" r="1.5"/>
<circle cx="254.56" cy="411.69" r="1.5"/>
<circle cx="250.7" cy="420.3" r="1.5"/>
<circle cx="249.26" cy="415.66" r="1.5"/>
<circle cx="254.47" cy="413.05" r="1.5"/>
<circle cx="252.3" cy="411.71" r="1.5"/>
<circle cx="242.8" cy="413.58" r="1.5"/>
<circle cx="256.35" cy="421.49" r="1.5"/>
<circle cx="239.32" cy="411.73" r="1.5"/>
<circle cx="242.74" cy="413.8" r="1.5"/>
<circle cx="254.89" cy="422.01" r="1.5"/>
<circle cx="250.56" cy="415.66" r="1.5"/>
<circle cx="252.35" cy="417.87" r="1.5"/>
<circle cx="245.68" cy="418.62" r="1.5"/>
<circle cx="257.66" cy="415.43" r="1.5"/>
<circle cx="244.6" cy="410.97" r="1.5"/>
<circle cx="249.85" cy="426.29" r="1.5"/>
<circle cx="241.61" cy="418" r="1.5"/>
<circle cx="247.99" cy="423.32" r="1.5"/>
<circle cx="249.3" cy="412.78" r="1.5"/>
<circle cx="247.36" cy="424.88" r="1.5"/>
</g>
<path d="M240,418 L250,412 L256,418 L253,424 L244,425Z" fill="#B07AA1"/>
<g fill="none" stroke="#BAB0AC" stroke-width="1.1">
<circle cx="247.15" cy="429.2" r="1.5"/>
<circle cx="249.7" cy="428.95" r="1.5"/>
<circle cx="251.79" cy="425.19" r="1.5"/>
<circle cx="251.23" cy="427.62" r="1.5"/>
<circle cx="252.49" cy="421.41" r="1.5"/>
<circle cx="238.03" cy="424.15" r="1.5"/>
<circle cx="239.61" cy="428.04" r="1.5"/>
<circle cx="245.64" cy="425.13" r="1.5"/>
<circle cx="238.69" cy="427.25" r="1.5"/>
<circle cx="245.14" cy="425.27" r="1.5"/>
<circle cx="247.07" cy="423.13" r="1.5"/>
<circle cx="251.98" cy="427.46" r="1.5"/>
<circle cx="243.06" cy="426.96" r="1.5"/>
<circle cx="252.92" cy="422.45" r="1.5"/>
</g>
<path d="M251,362.5 L255,362 L257,372 L258.5,390 L260.5,405 L262,415 L250.5,415 L250,400 L250,375Z" fill="#EDC948"/>
<g fill="none" stroke="#EDC948" stroke-width="1.1">
<circle cx="252.5" cy="363.5" r="1.5"/>
<circle cx="250" cy="372" r="1.5"/>
<circle cx="249.5" cy="388" r="1.5"/>
<circle cx="249" cy="400" r="1.5"/>
<circle cx="248" cy="408" r="1.5"/>
<circle cx="250" cy="414" r="1.5"/>
<circle cx="256" cy="364" r="1.5"/>
<circle cx="249" cy="380" r="1.5"/>
<circle cx="248.5" cy="395" r="1.5"/>
<circle cx="258" cy="413" r="1.5"/>
<circle cx="261.5" cy="412" r="1.5"/>
<circle cx="260" cy="400" r="1.5"/>
<circle cx="257.5" cy="380" r="1.5"/>
</g>
<g fill="none" stroke="#E15759" stroke-width="1.1">
<circle cx="238.95" cy="449.95" r="1.5"/>
<circle cx="238.51" cy="449.91" r="1.5"/>
<circle cx="235.1" cy="437.08" r="1.5"/>
<circle cx="253.26" cy="452.31" r="1.5"/>
<circle cx="251.28" cy="456.67" r="1.5"/>
<circle cx="231.24" cy="440.19" r="1.5"/>
<circle cx="257.26" cy="451.73" r="1.5"/>
<circle cx="252.88" cy="454.84" r="1.5"/>
<circle cx="238.12" cy="446.77" r="1.5"/>
<circle cx="261.39" cy="455.84" r="1.5"/>
<circle cx="246.51" cy="455.59" r="1.5"/>
<circle cx="262.96" cy="454.02" r="1.5"/>
<circle cx="249.58" cy="457.77" r="1.5"/>
<circle cx="229.61" cy="440.51" r="1.5"/>
<circle cx="246" cy="432.08" r="1.5"/>
<circle cx="254.45" cy="429.93" r="1.5"/>
<circle cx="248.52" cy="436.67" r="1.5"/>
<circle cx="236.59" cy="446.81" r="1.5"/>
<circle cx="231.47" cy="441.87" r="1.5"/>
<circle cx="234.24" cy="439.33" r="1.5"/>
<circle cx="251.06" cy="433.88" r="1.5"/>
<circle cx="257.12" cy="434.16" r="1.5"/>
<circle cx="245.71" cy="438.52" r="1.5"/>
<circle cx="248.87" cy="430.02" r="1.5"/>
<circle cx="251.92" cy="435.21" r="1.5"/>
<circle cx="242.78" cy="450.4" r="1.5"/>
<circle cx="257.41" cy="456.99" r="1.5"/>
<circle cx="240.42" cy="437.85" r="1.5"/>
<circle cx="239.5" cy="437.69" r="1.5"/>
<circle cx="252.92" cy="442.35" r="1.5"/>
<circle cx="250.74" cy="432.71" r="1.5"/>
<circle cx="231.92" cy="447.11" r="1.5"/>
<circle cx="240.15" cy="433.68" r="1.5"/>
<circle cx="252.5" cy="445.74" r="1.5"/>
<circle cx="250.31" cy="458.01" r="1.5"/>
<circle cx="256.15" cy="449.2" r="1.5"/>
<circle cx="245.36" cy="454.54" r="1.5"/>
<circle cx="238.51" cy="431.5" r="1.5"/>
<circle cx="249.02" cy="428.79" r="1.5"/>
<circle cx="244.73" cy="431.97" r="1.5"/>
<circle cx="247.53" cy="453.55" r="1.5"/>
<circle cx="237.43" cy="431.73" r="1.5"/>
<circle cx="250.18" cy="450.58" r="1.5"/>
<circle cx="258.48" cy="445.18" r="1.5"/>
<circle cx="246.7" cy="454.76" r="1.5"/>
<circle cx="250.41" cy="458.22" r="1.5"/>
<circle cx="235.19" cy="452.01" r="1.5"/>
<circle cx="248.68" cy="442.52" r="1.5"/>
<circle cx="234.27" cy="446.65" r="1.5"/>
<circle cx="243.87" cy="443.82" r="1.5"/>
<circle cx="247.67" cy="449.14" r="1.5"/>
<circle cx="262.63" cy="452.57" r="1.5"/>
<circle cx="235.31" cy="442.13" r="1.5"/>
<circle cx="243.72" cy="452.92" r="1.5"/>
<circle cx="239.39" cy="456.54" r="1.5"/>
<circle cx="242.87" cy="440.34" r="1.5"/>
<circle cx="242.71" cy="439.08" r="1.5"/>
<circle cx="239.59" cy="430.46" r="1.5"/>
<circle cx="250.44" cy="432.67" r="1.5"/>
<circle cx="229.82" cy="441.12" r="1.5"/>
<circle cx="247.48" cy="451.67" r="1.5"/>
<circle cx="241.34" cy="437.15" r="1.5"/>
<circle cx="238.35" cy="455.54" r="1.5"/>
<circle cx="258.55" cy="442.97" r="1.5"/>
<circle cx="258.73" cy="451.22" r="1.5"/>
<circle cx="226.51" cy="448.93" r="1.5"/>
<circle cx="232.34" cy="441.82" r="1.5"/>
<circle cx="247.6" cy="429.58" r="1.5"/>
<circle cx="260.48" cy="438.39" r="1.5"/>
<circle cx="229.61" cy="452.19" r="1.5"/>
<circle cx="249.43" cy="442.57" r="1.5"/>
<circle cx="259.12" cy="452.51" r="1.5"/>
<circle cx="247.53" cy="442.58" r="1.5"/>
<circle cx="235.74" cy="456.42" r="1.5"/>
<circle cx="232.13" cy="447.94" r="1.5"/>
<circle cx="261" cy="447.16" r="1.5"/>
<circle cx="236.49" cy="450.44" r="1.5"/>
<circle cx="259.24" cy="452.64" r="1.5"/>
<circle cx="225.59" cy="443.63" r="1.5"/>
<circle cx="229.46" cy="444.94" r="1.5"/>
<circle cx="261.05" cy="454.81" r="1.5"/>
<circle cx="233.7" cy="445.11" r="1.5"/>
<circle cx="236.38" cy="433.22" r="1.5"/>
<circle cx="253.01" cy="451.54" r="1.5"/>
<circle cx="237.13" cy="441.03" r="1.5"/>
<circle cx="251.16" cy="450.55" r="1.5"/>
<circle cx="242.08" cy="431.67" r="1.5"/>
<circle cx="256.23" cy="443.39" r="1.5"/>
<circle cx="249.13" cy="439.3" r="1.5"/>
<circle cx="238.39" cy="433.46" r="1.5"/>
<circle cx="262.01" cy="446.77" r="1.5"/>
<circle cx="229.02" cy="449.78" r="1.5"/>
<circle cx="247.32" cy="447.01" r="1.5"/>
<circle cx="254.03" cy="446.86" r="1.5"/>
<circle cx="239.86" cy="448.1" r="1.5"/>
<circle cx="238.6" cy="440.73" r="1.5"/>
<circle cx="238.28" cy="448.07" r="1.5"/>
<circle cx="237.75" cy="438.91" r="1.5"/>
<circle cx="257.02" cy="452.79" r="1.5"/>
<circle cx="250.37" cy="454.15" r="1.5"/>
<circle cx="239.06" cy="447.92" r="1.5"/>
<circle cx="233.8" cy="437.78" r="1.5"/>
<circle cx="227.93" cy="452.75" r="1.5"/>
<circle cx="259.93" cy="437.38" r="1.5"/>
<circle cx="238.75" cy="431.63" r="1.5"/>
<circle cx="229.55" cy="447.78" r="1.5"/>
<circle cx="258.79" cy="430.6" r="1.5"/>
<circle cx="233.93" cy="451.53" r="1.5"/>
<circle cx="232.81" cy="455.21" r="1.5"/>
<circle cx="237.76" cy="442.68" r="1.5"/>
<circle cx="231.86" cy="437.01" r="1.5"/>
<circle cx="240.56" cy="436.62" r="1.5"/>
<circle cx="252.44" cy="428.94" r="1.5"/>
<circle cx="248.91" cy="452.88" r="1.5"/>
<circle cx="236.72" cy="433.94" r="1.5"/>
<circle cx="254.89" cy="446.69" r="1.5"/>
<circle cx="247.35" cy="437.9" r="1.5"/>
<circle cx="238.03" cy="456.6" r="1.5"/>
<circle cx="257.85" cy="445.8" r="1.5"/>
<circle cx="228.91" cy="453.04" r="1.5"/>
<circle cx="227.52" cy="445.27" r="1.5"/>
<circle cx="240.01" cy="432.85" r="1.5"/>
<circle cx="262.69" cy="445.92" r="1.5"/>
<circle cx="253.56" cy="448.02" r="1.5"/>
<circle cx="242.45" cy="452.11" r="1.5"/>
<circle cx="250.11" cy="432.9" r="1.5"/>
<circle cx="244.67" cy="440.82" r="1.5"/>
<circle cx="244.1" cy="450.11" r="1.5"/>
<circle cx="250.87" cy="445.66" r="1.5"/>
<circle cx="254.76" cy="453.58" r="1.5"/>
<circle cx="261.4" cy="437.6" r="1.5"/>
<circle cx="241.12" cy="442.43" r="1.5"/>
<circle cx="246.01" cy="436.66" r="1.5"/>
<circle cx="254.37" cy="438.28" r="1.5"/>
<circle cx="256.98" cy="452.91" r="1.5"/>
<circle cx="253.98" cy="446.32" r="1.5"/>
<circle cx="250.01" cy="440.8" r="1.5"/>
<circle cx="244.3" cy="434.3" r="1.5"/>
<circle cx="242.03" cy="435.98" r="1.5"/>
<circle cx="250.35" cy="431.31" r="1.5"/>
<circle cx="244.78" cy="446.03" r="1.5"/>
<circle cx="256.58" cy="439.77" r="1.5"/>
<circle cx="230.19" cy="453.6" r="1.5"/>
<circle cx="253.49" cy="453.36" r="1.5"/>
<circle cx="260.55" cy="434.47" r="1.5"/>
<circle cx="259.49" cy="442.69" r="1.5"/>
<circle cx="228.97" cy="438.93" r="1.5"/>
<circle cx="233.4" cy="448.1" r="1.5"/>
<circle cx="252.08" cy="452.06" r="1.5"/>
<circle cx="241.04" cy="442.16" r="1.5"/>
<circle cx="242.25" cy="439.48" r="1.5"/>
<circle cx="241.75" cy="449.24" r="1.5"/>
<circle cx="251.74" cy="438.12" r="1.5"/>
<circle cx="246.11" cy="432.5" r="1.5"/>
<circle cx="227.1" cy="441.2" r="1.5"/>
<circle cx="260.75" cy="453.96" r="1.5"/>
<circle cx="238.38" cy="437.64" r="1.5"/>
<circle cx="229.35" cy="446.3" r="1.5"/>
<circle cx="256.72" cy="439.83" r="1.5"/>
<circle cx="233" cy="450.44" r="1.5"/>
<circle cx="254.84" cy="430.59" r="1.5"/>
<circle cx="231.37" cy="437.78" r="1.5"/>
<circle cx="253.99" cy="450.84" r="1.5"/>
<circle cx="235.81" cy="442.01" r="1.5"/>
<circle cx="237.85" cy="442.62" r="1.5"/>
<circle cx="254.95" cy="436.11" r="1.5"/>
<circle cx="255.61" cy="456.52" r="1.5"/>
<circle cx="247.44" cy="457.73" r="1.5"/>
<circle cx="255.38" cy="431.76" r="1.5"/>
<circle cx="235.8" cy="441.71" r="1.5"/>
<circle cx="256.73" cy="449.1" r="1.5"/>
<circle cx="257.75" cy="443.81" r="1.5"/>
<circle cx="235.41" cy="440.98" r="1.5"/>
<circle cx="260.76" cy="446.45" r="1.5"/>
<circle cx="255.96" cy="430.21" r="1.5"/>
<circle cx="233.57" cy="450.67" r="1.5"/>
<circle cx="237.28" cy="435.05" r="1.5"/>
<circle cx="240.08" cy="444.93" r="1.5"/>
<circle cx="239.6" cy="445.52" r="1.5"/>
<circle cx="250.3" cy="438.41" r="1.5"/>
<circle cx="243.17" cy="439.71" r="1.5"/>
<circle cx="235.57" cy="437.24" r="1.5"/>
<circle cx="258.28" cy="439.17" r="1.5"/>
<circle cx="241.31" cy="444.3" r="1.5"/>
<circle cx="254.63" cy="445.25" r="1.5"/>
<circle cx="243.24" cy="438.66" r="1.5"/>
<circle cx="253.3" cy="443.6" r="1.5"/>
<circle cx="254.9" cy="453.91" r="1.5"/>
<circle cx="258.86" cy="450.5" r="1.5"/>
<circle cx="250.28" cy="442.31" r="1.5"/>
<circle cx="244.8" cy="445.95" r="1.5"/>
<circle cx="244.48" cy="453.39" r="1.5"/>
<circle cx="257.47" cy="429.61" r="1.5"/>
<circle cx="253.33" cy="447.1" r="1.5"/>
<circle cx="247.34" cy="456.16" r="1.5"/>
<circle cx="225.93" cy="442.73" r="1.5"/>
<circle cx="238.64" cy="457.4" r="1.5"/>
<circle cx="230.42" cy="445.45" r="1.5"/>
<circle cx="229.63" cy="451.37" r="1.5"/>
<circle cx="243.07" cy="450.8" r="1.5"/>
</g>
<path d="M241,434 L256,430 L262,440 L261,455 L248,456 L240,448Z" fill="#E15759"/>
<g fill="none" stroke="#E15759" stroke-width="1.1">
<circle cx="257.5" cy="426.37" r="1.5"/>
<circle cx="260.27" cy="426.3" r="1.5"/>
<circle cx="260.55" cy="417.85" r="1.5"/>
<circle cx="256.03" cy="423.93" r="1.5"/>
<circle cx="260.25" cy="414.85" r="1.5"/>
<circle cx="257.7" cy="415.46" r="1.5"/>
<circle cx="261.25" cy="427.08" r="1.5"/>
<circle cx="256.31" cy="420.24" r="1.5"/>
<circle cx="257.28" cy="423.41" r="1.5"/>
<circle cx="256.21" cy="418.67" r="1.5"/>
<circle cx="258.17" cy="420.62" r="1.5"/>
<circle cx="258.33" cy="422.34" r="1.5"/>
<circle cx="261.61" cy="427.04" r="1.5"/>
<circle cx="261.4" cy="425.61" r="1.5"/>
</g>
<g fill="none" stroke="#4E79A7" stroke-width="1.1">
<circle cx="248" cy="443" r="1.5"/>
<circle cx="253.5" cy="445" r="1.5"/>
<circle cx="250" cy="450" r="1.5"/>
<circle cx="256" cy="452" r="1.5"/>
</g>
<path d="M259.5,424 L265,423 L266.5,440 L266,458 L259.5,459Z" fill="#B07AA1"/>
<g fill="none" stroke="#B07AA1" stroke-width="1.1">
<circle cx="265" cy="426" r="1.5"/>
<circle cx="265.5" cy="435" r="1.5"/>
<circle cx="265.5" cy="448" r="1.5"/>
<circle cx="265" cy="457" r="1.5"/>
<circle cx="263" cy="424" r="1.5"/>
</g>
<g fill="none" stroke="#4E79A7" stroke-width="1.1">
<circle cx="223.87" cy="461.6" r="1.5"/>
<circle cx="235.91" cy="472.37" r="1.5"/>
<circle cx="243.53" cy="464.44" r="1.5"/>
<circle cx="224.32" cy="461.54" r="1.5"/>
<circle cx="252.9" cy="479.24" r="1.5"/>
<circle cx="249.26" cy="467.76" r="1.5"/>
<circle cx="250.83" cy="475.72" r="1.5"/>
<circle cx="238.49" cy="462.32" r="1.5"/>
<circle cx="239.31" cy="472.88" r="1.5"/>
<circle cx="228.86" cy="472.26" r="1.5"/>
<circle cx="222.99" cy="461.11" r="1.5"/>
<circle cx="260.11" cy="477.71" r="1.5"/>
<circle cx="256.13" cy="477.17" r="1.5"/>
<circle cx="241.47" cy="457.01" r="1.5"/>
<circle cx="250.05" cy="477.57" r="1.5"/>
<circle cx="247.13" cy="472.96" r="1.5"/>
<circle cx="248.07" cy="464.93" r="1.5"/>
<circle cx="245.25" cy="456.83" r="1.5"/>
<circle cx="258.8" cy="474.54" r="1.5"/>
<circle cx="253.73" cy="467.48" r="1.5"/>
<circle cx="222.67" cy="467.18" r="1.5"/>
<circle cx="247.39" cy="469.8" r="1.5"/>
<circle cx="232.68" cy="461.61" r="1.5"/>
<circle cx="223.79" cy="460.98" r="1.5"/>
<circle cx="233.62" cy="473.77" r="1.5"/>
<circle cx="259.48" cy="473.27" r="1.5"/>
<circle cx="243.66" cy="474.76" r="1.5"/>
<circle cx="243.91" cy="464.57" r="1.5"/>
<circle cx="246.53" cy="456.46" r="1.5"/>
<circle cx="247.42" cy="479.6" r="1.5"/>
<circle cx="246.73" cy="471.37" r="1.5"/>
<circle cx="254.02" cy="480.91" r="1.5"/>
<circle cx="243.95" cy="472.24" r="1.5"/>
<circle cx="256.88" cy="471.53" r="1.5"/>
<circle cx="255.19" cy="471.87" r="1.5"/>
<circle cx="263.24" cy="471.02" r="1.5"/>
<circle cx="256.34" cy="475.85" r="1.5"/>
<circle cx="258.65" cy="465.71" r="1.5"/>
<circle cx="232.53" cy="462.42" r="1.5"/>
<circle cx="247.92" cy="457.63" r="1.5"/>
<circle cx="227.89" cy="465.67" r="1.5"/>
<circle cx="218.47" cy="471.15" r="1.5"/>
<circle cx="222.17" cy="469.33" r="1.5"/>
<circle cx="227.16" cy="468.19" r="1.5"/>
<circle cx="239.25" cy="462.18" r="1.5"/>
<circle cx="239.81" cy="456.77" r="1.5"/>
<circle cx="230.17" cy="462.68" r="1.5"/>
<circle cx="254.4" cy="475.79" r="1.5"/>
<circle cx="248.44" cy="471.06" r="1.5"/>
<circle cx="257.06" cy="475.01" r="1.5"/>
<circle cx="250.89" cy="477.68" r="1.5"/>
<circle cx="263.44" cy="475.93" r="1.5"/>
<circle cx="220.21" cy="470.31" r="1.5"/>
<circle cx="244.46" cy="471.33" r="1.5"/>
<circle cx="238.54" cy="462.26" r="1.5"/>
<circle cx="263.01" cy="465.39" r="1.5"/>
<circle cx="225.5" cy="460.89" r="1.5"/>
<circle cx="227.73" cy="471.39" r="1.5"/>
<circle cx="228.63" cy="472.95" r="1.5"/>
<circle cx="259.08" cy="481.75" r="1.5"/>
<circle cx="258.23" cy="479.88" r="1.5"/>
<circle cx="216.67" cy="470.71" r="1.5"/>
<circle cx="249.29" cy="469.23" r="1.5"/>
<circle cx="254.56" cy="468.4" r="1.5"/>
<circle cx="235.21" cy="455.75" r="1.5"/>
<circle cx="247.26" cy="458.15" r="1.5"/>
<circle cx="249.49" cy="473.94" r="1.5"/>
<circle cx="242.1" cy="466.17" r="1.5"/>
<circle cx="239.34" cy="462.44" r="1.5"/>
<circle cx="231.08" cy="460.14" r="1.5"/>
<circle cx="242.63" cy="456.68" r="1.5"/>
<circle cx="243.84" cy="471.79" r="1.5"/>
<circle cx="261.69" cy="462.99" r="1.5"/>
<circle cx="224.13" cy="460.97" r="1.5"/>
<circle cx="237.67" cy="466.34" r="1.5"/>
<circle cx="239.69" cy="457.78" r="1.5"/>
<circle cx="248.51" cy="461.28" r="1.5"/>
<circle cx="247.73" cy="477.49" r="1.5"/>
<circle cx="249.81" cy="461.6" r="1.5"/>
<circle cx="259.62" cy="479.93" r="1.5"/>
<circle cx="240.14" cy="456.39" r="1.5"/>
<circle cx="230.39" cy="457.22" r="1.5"/>
<circle cx="230.52" cy="460.5" r="1.5"/>
<circle cx="234.53" cy="471.63" r="1.5"/>
<circle cx="246.21" cy="457.6" r="1.5"/>
<circle cx="239.79" cy="456.52" r="1.5"/>
<circle cx="224.69" cy="465.62" r="1.5"/>
<circle cx="240.81" cy="469.49" r="1.5"/>
<circle cx="248.11" cy="461.04" r="1.5"/>
<circle cx="222.35" cy="468.01" r="1.5"/>
<circle cx="226.63" cy="469.94" r="1.5"/>
<circle cx="233.67" cy="456.35" r="1.5"/>
<circle cx="256.16" cy="478.79" r="1.5"/>
<circle cx="243.52" cy="467.86" r="1.5"/>
<circle cx="217.96" cy="472.35" r="1.5"/>
<circle cx="242.88" cy="472.37" r="1.5"/>
<circle cx="253.65" cy="477.32" r="1.5"/>
<circle cx="219.13" cy="463.21" r="1.5"/>
<circle cx="219.48" cy="468.26" r="1.5"/>
<circle cx="247.45" cy="476.83" r="1.5"/>
<circle cx="255.41" cy="477.39" r="1.5"/>
<circle cx="253.91" cy="460.83" r="1.5"/>
<circle cx="251.75" cy="467.78" r="1.5"/>
<circle cx="262.38" cy="475.44" r="1.5"/>
<circle cx="257.89" cy="479.94" r="1.5"/>
<circle cx="226.13" cy="471.65" r="1.5"/>
<circle cx="261.53" cy="468.66" r="1.5"/>
<circle cx="219.58" cy="470.37" r="1.5"/>
<circle cx="215.4" cy="467.46" r="1.5"/>
<circle cx="216.17" cy="466.27" r="1.5"/>
<circle cx="254.53" cy="474.96" r="1.5"/>
<circle cx="256.38" cy="467.35" r="1.5"/>
<circle cx="234.94" cy="456.49" r="1.5"/>
<circle cx="253.03" cy="470.38" r="1.5"/>
<circle cx="233.21" cy="458.92" r="1.5"/>
<circle cx="235.84" cy="456.7" r="1.5"/>
<circle cx="234.1" cy="458.71" r="1.5"/>
<circle cx="255.02" cy="471.47" r="1.5"/>
<circle cx="257.08" cy="469.94" r="1.5"/>
<circle cx="220.3" cy="462.46" r="1.5"/>
<circle cx="255.66" cy="470.79" r="1.5"/>
<circle cx="245.6" cy="472.08" r="1.5"/>
<circle cx="261.06" cy="470.96" r="1.5"/>
<circle cx="241.06" cy="466.05" r="1.5"/>
<circle cx="260.4" cy="460.58" r="1.5"/>
<circle cx="257.3" cy="459.15" r="1.5"/>
<circle cx="224.82" cy="471.59" r="1.5"/>
<circle cx="259.41" cy="475.17" r="1.5"/>
<circle cx="226.56" cy="471.38" r="1.5"/>
<circle cx="247.27" cy="479.08" r="1.5"/>
<circle cx="242.28" cy="461.95" r="1.5"/>
<circle cx="245.64" cy="463.38" r="1.5"/>
<circle cx="243.74" cy="461.53" r="1.5"/>
<circle cx="226.2" cy="464.81" r="1.5"/>
<circle cx="260.49" cy="477.37" r="1.5"/>
<circle cx="244.37" cy="470.72" r="1.5"/>
<circle cx="228.84" cy="465.24" r="1.5"/>
<circle cx="241.63" cy="461.67" r="1.5"/>
<circle cx="245.38" cy="478.33" r="1.5"/>
<circle cx="249.46" cy="461.08" r="1.5"/>
<circle cx="240.45" cy="468.98" r="1.5"/>
<circle cx="243.5" cy="469.93" r="1.5"/>
<circle cx="247.26" cy="470.06" r="1.5"/>
<circle cx="240.74" cy="461.37" r="1.5"/>
<circle cx="218.42" cy="466.87" r="1.5"/>
<circle cx="258.1" cy="480.56" r="1.5"/>
<circle cx="227.25" cy="470.52" r="1.5"/>
<circle cx="238.95" cy="467.26" r="1.5"/>
<circle cx="226.49" cy="460.48" r="1.5"/>
<circle cx="239.22" cy="459.64" r="1.5"/>
<circle cx="245.41" cy="471.21" r="1.5"/>
<circle cx="244.48" cy="467.97" r="1.5"/>
<circle cx="243.85" cy="462.98" r="1.5"/>
<circle cx="236.13" cy="473.59" r="1.5"/>
<circle cx="244.05" cy="469.82" r="1.5"/>
<circle cx="251.95" cy="462.79" r="1.5"/>
<circle cx="231.37" cy="466.67" r="1.5"/>
<circle cx="250.2" cy="474.42" r="1.5"/>
<circle cx="263.07" cy="468.38" r="1.5"/>
<circle cx="232" cy="457.35" r="1.5"/>
<circle cx="249.36" cy="471.63" r="1.5"/>
<circle cx="252.71" cy="466.78" r="1.5"/>
<circle cx="250.59" cy="471.31" r="1.5"/>
<circle cx="244.98" cy="469.81" r="1.5"/>
<circle cx="246.69" cy="470.12" r="1.5"/>
<circle cx="248.59" cy="466.55" r="1.5"/>
<circle cx="262.44" cy="467.99" r="1.5"/>
<circle cx="220.65" cy="468.81" r="1.5"/>
<circle cx="230.62" cy="459.47" r="1.5"/>
<circle cx="258.2" cy="459.78" r="1.5"/>
<circle cx="249.04" cy="459.59" r="1.5"/>
<circle cx="259.24" cy="467.11" r="1.5"/>
<circle cx="245.16" cy="467.42" r="1.5"/>
<circle cx="220.51" cy="464.61" r="1.5"/>
<circle cx="217.93" cy="469.56" r="1.5"/>
<circle cx="236.52" cy="469.93" r="1.5"/>
<circle cx="253.2" cy="471.18" r="1.5"/>
<circle cx="243.14" cy="462.32" r="1.5"/>
<circle cx="237.35" cy="462.78" r="1.5"/>
<circle cx="220.29" cy="461.26" r="1.5"/>
<circle cx="234.75" cy="466.39" r="1.5"/>
<circle cx="243.27" cy="462.3" r="1.5"/>
<circle cx="244.24" cy="467.78" r="1.5"/>
<circle cx="253.37" cy="476.72" r="1.5"/>
<circle cx="240.41" cy="464.04" r="1.5"/>
<circle cx="225.24" cy="474.25" r="1.5"/>
<circle cx="234.71" cy="473.46" r="1.5"/>
<circle cx="234.8" cy="465.83" r="1.5"/>
<circle cx="242.03" cy="469.12" r="1.5"/>
<circle cx="240.49" cy="470.14" r="1.5"/>
<circle cx="261.4" cy="475.06" r="1.5"/>
<circle cx="254.56" cy="462.44" r="1.5"/>
<circle cx="228.39" cy="468.26" r="1.5"/>
<circle cx="262.37" cy="472.5" r="1.5"/>
<circle cx="256.44" cy="470.95" r="1.5"/>
<circle cx="259.34" cy="473.18" r="1.5"/>
<circle cx="224.48" cy="465.05" r="1.5"/>
<circle cx="236.94" cy="457.97" r="1.5"/>
<circle cx="260.06" cy="468.04" r="1.5"/>
<circle cx="222.41" cy="468.27" r="1.5"/>
<circle cx="253.87" cy="462.38" r="1.5"/>
<circle cx="242.55" cy="457.47" r="1.5"/>
<circle cx="224.55" cy="460.06" r="1.5"/>
<circle cx="238.28" cy="473.57" r="1.5"/>
<circle cx="223.82" cy="473.6" r="1.5"/>
<circle cx="242.47" cy="475.27" r="1.5"/>
<circle cx="238.5" cy="459.8" r="1.5"/>
<circle cx="216.38" cy="469.65" r="1.5"/>
<circle cx="222.19" cy="462.11" r="1.5"/>
<circle cx="251.89" cy="467.05" r="1.5"/>
<circle cx="219.66" cy="473.34" r="1.5"/>
<circle cx="263.73" cy="471.8" r="1.5"/>
<circle cx="235.14" cy="469.53" r="1.5"/>
<circle cx="248.54" cy="477.63" r="1.5"/>
<circle cx="252.85" cy="461.7" r="1.5"/>
<circle cx="252.56" cy="457.8" r="1.5"/>
<circle cx="218.67" cy="468.7" r="1.5"/>
<circle cx="221.6" cy="470.15" r="1.5"/>
<circle cx="261.13" cy="467.22" r="1.5"/>
<circle cx="251.97" cy="468.29" r="1.5"/>
</g>
<path d="M230,462 L245,458 L260,462 L262,474 L250,477 L236,470Z" fill="#4E79A7"/>
<g fill="none" stroke="#4E79A7" stroke-width="1.1">
<circle cx="180.9" cy="464" r="1.5"/>
<circle cx="198.9" cy="466.7" r="1.5"/>
<circle cx="204.7" cy="465" r="1.5"/>
<circle cx="208" cy="470" r="1.5"/>
<circle cx="246" cy="447" r="1.5"/>
<circle cx="252" cy="445" r="1.5"/>
<circle cx="244" cy="452" r="1.5"/>
<circle cx="214" cy="475" r="1.5"/>
<circle cx="211" cy="473" r="1.5"/>
</g>
<g fill="none" stroke="#76B7B2" stroke-width="1.1">
<circle cx="249.38" cy="471.23" r="1.5"/>
<circle cx="258.32" cy="476.24" r="1.5"/>
<circle cx="253.28" cy="477.27" r="1.5"/>
<circle cx="252.87" cy="471.82" r="1.5"/>
<circle cx="259.7" cy="474.59" r="1.5"/>
<circle cx="249.5" cy="474.44" r="1.5"/>
<circle cx="255.52" cy="479.2" r="1.5"/>
<circle cx="258.2" cy="479.05" r="1.5"/>
<circle cx="261.29" cy="482.33" r="1.5"/>
<circle cx="240.26" cy="480.79" r="1.5"/>
<circle cx="244.84" cy="475.75" r="1.5"/>
<circle cx="266.39" cy="480.48" r="1.5"/>
<circle cx="259.9" cy="472.06" r="1.5"/>
<circle cx="256.52" cy="471.08" r="1.5"/>
<circle cx="257.55" cy="469.18" r="1.5"/>
<circle cx="260.77" cy="469.75" r="1.5"/>
<circle cx="260.78" cy="474.09" r="1.5"/>
<circle cx="255.71" cy="481.65" r="1.5"/>
<circle cx="242.83" cy="481.64" r="1.5"/>
<circle cx="255.48" cy="479.97" r="1.5"/>
<circle cx="256.72" cy="482.66" r="1.5"/>
<circle cx="257.01" cy="478.69" r="1.5"/>
<circle cx="263.1" cy="481.82" r="1.5"/>
<circle cx="262.66" cy="488.08" r="1.5"/>
<circle cx="258.39" cy="482.36" r="1.5"/>
<circle cx="257.49" cy="474.45" r="1.5"/>
<circle cx="255.98" cy="482.28" r="1.5"/>
<circle cx="255.82" cy="479.16" r="1.5"/>
<circle cx="244.42" cy="475.89" r="1.5"/>
<circle cx="258.6" cy="491.03" r="1.5"/>
<circle cx="246.88" cy="476.16" r="1.5"/>
<circle cx="250.88" cy="479.16" r="1.5"/>
<circle cx="256.6" cy="487.65" r="1.5"/>
<circle cx="260.8" cy="489.04" r="1.5"/>
<circle cx="250.91" cy="479.61" r="1.5"/>
<circle cx="257.19" cy="476.16" r="1.5"/>
<circle cx="262.71" cy="478.86" r="1.5"/>
<circle cx="254.26" cy="481.51" r="1.5"/>
<circle cx="245.63" cy="480.38" r="1.5"/>
<circle cx="264.99" cy="493.29" r="1.5"/>
<circle cx="261.53" cy="475.27" r="1.5"/>
<circle cx="239.12" cy="475.76" r="1.5"/>
<circle cx="266.1" cy="485.52" r="1.5"/>
<circle cx="262.54" cy="489.68" r="1.5"/>
<circle cx="242.52" cy="481.12" r="1.5"/>
<circle cx="239.93" cy="477.85" r="1.5"/>
<circle cx="241.37" cy="474.67" r="1.5"/>
<circle cx="255.17" cy="486.54" r="1.5"/>
<circle cx="259.4" cy="482.78" r="1.5"/>
<circle cx="264.08" cy="472.67" r="1.5"/>
<circle cx="246.06" cy="482.34" r="1.5"/>
<circle cx="258.05" cy="469.21" r="1.5"/>
<circle cx="266.27" cy="480.15" r="1.5"/>
<circle cx="256.47" cy="490.22" r="1.5"/>
<circle cx="254.09" cy="474.64" r="1.5"/>
<circle cx="251.58" cy="480.12" r="1.5"/>
<circle cx="247.91" cy="483.1" r="1.5"/>
<circle cx="241.63" cy="474.58" r="1.5"/>
<circle cx="253.28" cy="487.18" r="1.5"/>
<circle cx="255.86" cy="485.12" r="1.5"/>
<circle cx="258.17" cy="472.64" r="1.5"/>
<circle cx="259.68" cy="472.04" r="1.5"/>
<circle cx="248.95" cy="477.84" r="1.5"/>
<circle cx="247.38" cy="477.41" r="1.5"/>
<circle cx="241.98" cy="478.4" r="1.5"/>
<circle cx="264.27" cy="486.34" r="1.5"/>
<circle cx="263.07" cy="491.75" r="1.5"/>
<circle cx="265.84" cy="478.74" r="1.5"/>
<circle cx="255.38" cy="469.8" r="1.5"/>
<circle cx="248.3" cy="476.53" r="1.5"/>
<circle cx="260.38" cy="469.93" r="1.5"/>
<circle cx="250.11" cy="480.61" r="1.5"/>
<circle cx="263.1" cy="484.44" r="1.5"/>
<circle cx="244.29" cy="484.04" r="1.5"/>
<circle cx="250.92" cy="475.07" r="1.5"/>
<circle cx="247.8" cy="474.31" r="1.5"/>
<circle cx="253.59" cy="485.42" r="1.5"/>
<circle cx="252.35" cy="485.97" r="1.5"/>
<circle cx="257.91" cy="470.4" r="1.5"/>
<circle cx="246.42" cy="472.74" r="1.5"/>
<circle cx="245.89" cy="470.97" r="1.5"/>
<circle cx="260.49" cy="472.15" r="1.5"/>
<circle cx="252.21" cy="475.73" r="1.5"/>
<circle cx="261.33" cy="481.16" r="1.5"/>
<circle cx="253.22" cy="477.73" r="1.5"/>
<circle cx="240.28" cy="479.24" r="1.5"/>
<circle cx="253.73" cy="472.02" r="1.5"/>
<circle cx="253.88" cy="487.05" r="1.5"/>
<circle cx="255.64" cy="480.42" r="1.5"/>
<circle cx="250.74" cy="485.65" r="1.5"/>
<circle cx="251.85" cy="475.44" r="1.5"/>
<circle cx="261.23" cy="481.54" r="1.5"/>
<circle cx="246" cy="478.2" r="1.5"/>
<circle cx="264.23" cy="482.15" r="1.5"/>
<circle cx="266.17" cy="482.02" r="1.5"/>
<circle cx="258.13" cy="470.72" r="1.5"/>
<circle cx="250.53" cy="483.89" r="1.5"/>
<circle cx="249.68" cy="484.97" r="1.5"/>
<circle cx="247.64" cy="485.03" r="1.5"/>
<circle cx="243.45" cy="480.73" r="1.5"/>
</g>
<path d="M243,479 L252,474 L262,475 L266.5,487 L265.5,492.5 L258,489 L248,484Z" fill="#76B7B2"/>
<g fill="none" stroke="#76B7B2" stroke-width="1.1">
<circle cx="249" cy="469" r="1.5"/>
<circle cx="253" cy="470" r="1.5"/>
<circle cx="262" cy="466" r="1.5"/>
<circle cx="240" cy="470" r="1.5"/>
<circle cx="236" cy="478" r="1.5"/>
</g>
<path d="M99.7,446.4 L104.1,446.4 L101.9,450 Z" fill="#0B1E4F"/>
<path d="M102.3,448 L106.7,448 L104.5,451.6 Z" fill="#0B1E4F"/>
<circle cx="262.5" cy="418.3" r="2.1" fill="#0B1E4F"/>
<rect x="254.38" y="456.38" width="3.24" height="3.24" fill="#0B1E4F"/>
<rect x="256.88" y="456.88" width="3.24" height="3.24" fill="#0B1E4F"/>
<rect x="258.38" y="457.38" width="3.24" height="3.24" fill="#0B1E4F"/>
<path d="M248.5,465.94 L252.1,465.94 L250.3,462.7 Z" fill="#0B1E4F"/>
<path d="M250.7,467.94 L254.3,467.94 L252.5,464.7 Z" fill="#0B1E4F"/>
<path d="M252.7,468.94 L256.3,468.94 L254.5,465.7 Z" fill="#0B1E4F"/>
<path d="M251.56,461.56 L254.44,464.44 M251.56,464.44 L254.44,461.56" stroke="#0B1E4F" stroke-width="1.17"/>
<path d="M251.5,471.52 L253.48,473.5 L251.5,475.48 L249.52,473.5 Z" fill="#0B1E4F"/>
<path d="M256,474.52 L257.98,476.5 L256,478.48 L254.02,476.5 Z" fill="#0B1E4F"/>
<path d="M260.5,477.02 L262.48,479 L260.5,480.98 L258.52,479 Z" fill="#0B1E4F"/>
<text x="60.7" y="266.6" font-size="10.5" text-anchor="start" font-weight="normal" fill="#222">Genetic ancestry</text>
<rect x="60.9" y="275.5" width="9.2" height="8.6" fill="#B07AA1"/>
<text x="75.5" y="283.1" font-size="9" text-anchor="start" font-weight="normal" fill="#222">EUR</text>
<rect x="60.9" y="288.58" width="9.2" height="8.6" fill="#F28E2B"/>
<text x="75.5" y="296.18" font-size="9" text-anchor="start" font-weight="normal" fill="#222">AFR</text>
<rect x="60.9" y="301.66" width="9.2" height="8.6" fill="#FF9DA7"/>
<text x="75.5" y="309.26" font-size="9" text-anchor="start" font-weight="normal" fill="#222">AMR</text>
<rect x="60.9" y="314.74" width="9.2" height="8.6" fill="#EDC948"/>
<text x="75.5" y="322.34" font-size="9" text-anchor="start" font-weight="normal" fill="#222">SAS</text>
<rect x="60.9" y="327.82" width="9.2" height="8.6" fill="#59A14F"/>
<text x="75.5" y="335.42" font-size="9" text-anchor="start" font-weight="normal" fill="#222">EAS</text>
<rect x="60.9" y="340.9" width="9.2" height="8.6" fill="#E15759"/>
<text x="75.5" y="348.5" font-size="9" text-anchor="start" font-weight="normal" fill="#222">WEP</text>
<rect x="60.9" y="353.98" width="9.2" height="8.6" fill="#76B7B2"/>
<text x="75.5" y="361.58" font-size="9" text-anchor="start" font-weight="normal" fill="#222">PAR</text>
<rect x="60.9" y="367.06" width="9.2" height="8.6" fill="#4E79A7"/>
<text x="75.5" y="374.66" font-size="9" text-anchor="start" font-weight="normal" fill="#222">GAR</text>
<rect x="60.9" y="380.14" width="9.2" height="8.6" fill="#BAB0AC"/>
<text x="75.5" y="387.74" font-size="9" text-anchor="start" font-weight="normal" fill="#222">ADM</text>
<path d="M148.28,270.14 L153.12,270.14 L150.7,274.1 Z" fill="#111"/>
<text x="158.6" y="275.2" font-size="9" text-anchor="start" font-weight="normal" fill="#222">Sudanese</text>
<circle cx="150.7" cy="283.08" r="2.62" fill="#111"/>
<text x="158.6" y="286.38" font-size="9" text-anchor="start" font-weight="normal" fill="#222">Afghani</text>
<path d="M148.7,295.86 L152.7,295.86 L150.7,292.26 Z" fill="#111"/>
<text x="158.6" y="297.56" font-size="9" text-anchor="start" font-weight="normal" fill="#222">Jordanian</text>
<rect x="148.36" y="303.1" width="4.68" height="4.68" fill="#111"/>
<text x="158.6" y="308.74" font-size="9" text-anchor="start" font-weight="normal" fill="#222">Syrian</text>
<path d="M148.54,314.46 L152.86,318.78 M148.54,318.78 L152.86,314.46" stroke="#111" stroke-width="1.76"/>
<text x="158.6" y="319.92" font-size="9" text-anchor="start" font-weight="normal" fill="#222">Qatari 1</text>
<path d="M150.7,325.16 L153.34,327.8 L150.7,330.44 L148.06,327.8 Z" fill="#111"/>
<text x="158.6" y="331.1" font-size="9" text-anchor="start" font-weight="normal" fill="#222">Qatari 2</text>
</g>
<g id="pca2">
<rect x="49.5" y="556.8" width="1.15" height="244.9" fill="#b0b0b0"/>
<rect x="49.5" y="800.7" width="228.5" height="1.1" fill="#9a9a9a"/>
<rect x="46.2" y="790.3" width="3.4" height="0.8" fill="#666"/>
<text x="43.3" y="793.9" font-size="9" text-anchor="end" font-weight="normal" fill="#222" letter-spacing="0.4">&#8722;0.010</text>
<rect x="46.2" y="766.1" width="3.4" height="0.8" fill="#666"/>
<text x="43.3" y="769.7" font-size="9" text-anchor="end" font-weight="normal" fill="#222" letter-spacing="0.4">&#8722;0.005</text>
<rect x="46.2" y="741.9" width="3.4" height="0.8" fill="#666"/>
<text x="43.3" y="745.5" font-size="9" text-anchor="end" font-weight="normal" fill="#222" letter-spacing="0.4">0</text>
<rect x="46.2" y="717.7" width="3.4" height="0.8" fill="#666"/>
<text x="43.3" y="721.3" font-size="9" text-anchor="end" font-weight="normal" fill="#222" letter-spacing="0.4">0.005</text>
<rect x="46.2" y="693.5" width="3.4" height="0.8" fill="#666"/>
<text x="43.3" y="697.1" font-size="9" text-anchor="end" font-weight="normal" fill="#222" letter-spacing="0.4">0.010</text>
<rect x="46.2" y="669.3" width="3.4" height="0.8" fill="#666"/>
<text x="43.3" y="672.9" font-size="9" text-anchor="end" font-weight="normal" fill="#222" letter-spacing="0.4">0.015</text>
<rect x="46.2" y="645.1" width="3.4" height="0.8" fill="#666"/>
<text x="43.3" y="648.7" font-size="9" text-anchor="end" font-weight="normal" fill="#222" letter-spacing="0.4">0.020</text>
<rect x="46.2" y="620.9" width="3.4" height="0.8" fill="#666"/>
<text x="43.3" y="624.5" font-size="9" text-anchor="end" font-weight="normal" fill="#222" letter-spacing="0.4">0.025</text>
<rect x="46.2" y="596.7" width="3.4" height="0.8" fill="#666"/>
<text x="43.3" y="600.3" font-size="9" text-anchor="end" font-weight="normal" fill="#222" letter-spacing="0.4">0.030</text>
<rect x="46.2" y="572.5" width="3.4" height="0.8" fill="#666"/>
<text x="43.3" y="576.1" font-size="9" text-anchor="end" font-weight="normal" fill="#222" letter-spacing="0.4">0.035</text>
<line x1="148.2" y1="556.8" x2="148.2" y2="800.2" stroke="#cfcfcf" stroke-width="0.9" stroke-dasharray="4,3"/>
<line x1="51.5" y1="742.3" x2="278" y2="742.3" stroke="#cfcfcf" stroke-width="0.9" stroke-dasharray="4,3"/>
<rect x="92.7" y="801.5" width="0.9" height="3.2" fill="#555"/>
<text x="93.15" y="815" font-size="9" text-anchor="middle" font-weight="normal" fill="#222" letter-spacing="0.3">0.010</text>
<rect x="147.75" y="801.5" width="0.9" height="3.2" fill="#555"/>
<text x="148.2" y="815" font-size="9" text-anchor="middle" font-weight="normal" fill="#222" letter-spacing="0.3">0</text>
<rect x="202.8" y="801.5" width="0.9" height="3.2" fill="#555"/>
<text x="203.25" y="815" font-size="9" text-anchor="middle" font-weight="normal" fill="#222" letter-spacing="0.3">&#8722;0.010</text>
<rect x="257.85" y="801.5" width="0.9" height="3.2" fill="#555"/>
<text x="258.3" y="815" font-size="9" text-anchor="middle" font-weight="normal" fill="#222" letter-spacing="0.3">&#8722;0.020</text>
<rect x="65.17" y="801.5" width="0.9" height="3.2" fill="#555"/>
<rect x="120.22" y="801.5" width="0.9" height="3.2" fill="#555"/>
<rect x="175.28" y="801.5" width="0.9" height="3.2" fill="#555"/>
<rect x="230.32" y="801.5" width="0.9" height="3.2" fill="#555"/>
<text x="164" y="830" font-size="10" text-anchor="middle" font-weight="normal" fill="#222">PC3 (8.3%)</text>
<text x="8.4" y="678.8" font-size="10" text-anchor="middle" font-weight="normal" fill="#222" transform="rotate(-90 8.4 678.8)">PC2 (23.6%)</text>
<g fill="none" stroke="#BAB0AC" stroke-width="1.1">
<circle cx="127.94" cy="700.7" r="1.5"/>
<circle cx="135.16" cy="685.58" r="1.5"/>
<circle cx="132.5" cy="709.43" r="1.5"/>
<circle cx="126.93" cy="695.22" r="1.5"/>
<circle cx="128.97" cy="690" r="1.5"/>
<circle cx="131.17" cy="709.37" r="1.5"/>
<circle cx="132.65" cy="699.19" r="1.5"/>
<circle cx="130.02" cy="695.9" r="1.5"/>
<circle cx="133.4" cy="706.59" r="1.5"/>
<circle cx="127.83" cy="697.77" r="1.5"/>
<circle cx="128.89" cy="709.97" r="1.5"/>
<circle cx="135.78" cy="691.54" r="1.5"/>
<circle cx="118.95" cy="709.35" r="1.5"/>
<circle cx="120.14" cy="709.86" r="1.5"/>
<circle cx="121.6" cy="712.11" r="1.5"/>
<circle cx="132.81" cy="705.34" r="1.5"/>
<circle cx="135.6" cy="683.27" r="1.5"/>
<circle cx="134.8" cy="687.29" r="1.5"/>
<circle cx="121.24" cy="709.43" r="1.5"/>
<circle cx="136.33" cy="689.86" r="1.5"/>
<circle cx="128.79" cy="697.33" r="1.5"/>
<circle cx="124.02" cy="716.25" r="1.5"/>
<circle cx="131.21" cy="709.01" r="1.5"/>
<circle cx="136.26" cy="685.68" r="1.5"/>
<circle cx="133.94" cy="697.01" r="1.5"/>
<circle cx="126.3" cy="709.46" r="1.5"/>
<circle cx="131.06" cy="692.07" r="1.5"/>
<circle cx="118.59" cy="711.67" r="1.5"/>
<circle cx="136.94" cy="681.26" r="1.5"/>
<circle cx="124.65" cy="713.2" r="1.5"/>
<circle cx="132.37" cy="701.37" r="1.5"/>
<circle cx="130.32" cy="691.39" r="1.5"/>
<circle cx="129.33" cy="694.01" r="1.5"/>
<circle cx="131.89" cy="706.91" r="1.5"/>
<circle cx="124.13" cy="704.1" r="1.5"/>
<circle cx="123.68" cy="709.92" r="1.5"/>
<circle cx="122.32" cy="703.56" r="1.5"/>
<circle cx="133.54" cy="694.86" r="1.5"/>
<circle cx="130.54" cy="692.9" r="1.5"/>
<circle cx="136.64" cy="697.63" r="1.5"/>
<circle cx="129.08" cy="705.79" r="1.5"/>
<circle cx="125.69" cy="707.07" r="1.5"/>
<circle cx="119.37" cy="711.73" r="1.5"/>
<circle cx="136.26" cy="683.63" r="1.5"/>
<circle cx="122.71" cy="703.59" r="1.5"/>
</g>
<path d="M118,730 L130,724 L136,734 L130,744 L120,742Z" fill="#BAB0AC"/>
<g fill="none" stroke="#BAB0AC" stroke-width="1.1">
<circle cx="127.71" cy="729.78" r="1.5"/>
<circle cx="120.76" cy="722.14" r="1.5"/>
<circle cx="130.99" cy="728.97" r="1.5"/>
<circle cx="128.19" cy="742.15" r="1.5"/>
<circle cx="112.65" cy="730.49" r="1.5"/>
<circle cx="120.85" cy="745.5" r="1.5"/>
<circle cx="128.78" cy="723.81" r="1.5"/>
<circle cx="125.62" cy="720.06" r="1.5"/>
<circle cx="114.48" cy="733" r="1.5"/>
<circle cx="126.32" cy="724.28" r="1.5"/>
<circle cx="127.67" cy="727.19" r="1.5"/>
<circle cx="135.31" cy="731.24" r="1.5"/>
<circle cx="115.52" cy="726.58" r="1.5"/>
<circle cx="128.99" cy="720.8" r="1.5"/>
<circle cx="122.55" cy="720.14" r="1.5"/>
<circle cx="123.9" cy="746.37" r="1.5"/>
<circle cx="115.93" cy="723.26" r="1.5"/>
<circle cx="126.59" cy="736.88" r="1.5"/>
<circle cx="114.63" cy="724.46" r="1.5"/>
<circle cx="128.28" cy="725.06" r="1.5"/>
<circle cx="136.11" cy="741.78" r="1.5"/>
<circle cx="119.57" cy="735.7" r="1.5"/>
<circle cx="128.63" cy="736.47" r="1.5"/>
<circle cx="126.77" cy="724.9" r="1.5"/>
<circle cx="121.09" cy="727.12" r="1.5"/>
<circle cx="112.39" cy="725.18" r="1.5"/>
<circle cx="124.66" cy="724.83" r="1.5"/>
<circle cx="125.19" cy="741.65" r="1.5"/>
<circle cx="120.86" cy="740.21" r="1.5"/>
<circle cx="133.42" cy="728.38" r="1.5"/>
<circle cx="132.31" cy="728.36" r="1.5"/>
<circle cx="115.53" cy="730.36" r="1.5"/>
<circle cx="117.85" cy="732.68" r="1.5"/>
<circle cx="134.34" cy="735.65" r="1.5"/>
<circle cx="137.3" cy="739.41" r="1.5"/>
<circle cx="130.9" cy="739.85" r="1.5"/>
<circle cx="130.84" cy="745.1" r="1.5"/>
<circle cx="128" cy="737.49" r="1.5"/>
<circle cx="126.68" cy="733.75" r="1.5"/>
<circle cx="138.26" cy="726.85" r="1.5"/>
<circle cx="116.03" cy="732.78" r="1.5"/>
<circle cx="119.63" cy="739.07" r="1.5"/>
<circle cx="116.58" cy="736.27" r="1.5"/>
<circle cx="122.13" cy="738.06" r="1.5"/>
<circle cx="124.3" cy="721.29" r="1.5"/>
<circle cx="130.81" cy="746.72" r="1.5"/>
<circle cx="128.56" cy="736.07" r="1.5"/>
<circle cx="125.36" cy="732.95" r="1.5"/>
<circle cx="123.27" cy="741.99" r="1.5"/>
<circle cx="130.16" cy="741.75" r="1.5"/>
<circle cx="116.68" cy="724.85" r="1.5"/>
<circle cx="134.63" cy="745.26" r="1.5"/>
<circle cx="117.1" cy="732.32" r="1.5"/>
<circle cx="136.73" cy="739.31" r="1.5"/>
<circle cx="127.77" cy="744.35" r="1.5"/>
<circle cx="128.59" cy="740.22" r="1.5"/>
<circle cx="119.1" cy="727.04" r="1.5"/>
<circle cx="137.2" cy="741.34" r="1.5"/>
<circle cx="128.94" cy="739.82" r="1.5"/>
<circle cx="115.53" cy="725.64" r="1.5"/>
<circle cx="127.29" cy="727.52" r="1.5"/>
<circle cx="130.69" cy="742.03" r="1.5"/>
<circle cx="114.05" cy="733.15" r="1.5"/>
<circle cx="139.41" cy="728.65" r="1.5"/>
<circle cx="126.23" cy="741.92" r="1.5"/>
<circle cx="133.32" cy="739.72" r="1.5"/>
<circle cx="120.55" cy="732.51" r="1.5"/>
<circle cx="115.98" cy="731.57" r="1.5"/>
<circle cx="133.75" cy="734.64" r="1.5"/>
<circle cx="116.3" cy="735.28" r="1.5"/>
<circle cx="113.08" cy="727.28" r="1.5"/>
<circle cx="122.67" cy="727.83" r="1.5"/>
<circle cx="129.5" cy="746.13" r="1.5"/>
<circle cx="129.17" cy="745.12" r="1.5"/>
<circle cx="114.16" cy="736.17" r="1.5"/>
<circle cx="121.2" cy="742.99" r="1.5"/>
<circle cx="128.12" cy="736.11" r="1.5"/>
<circle cx="114.46" cy="730.91" r="1.5"/>
<circle cx="117.04" cy="738.61" r="1.5"/>
<circle cx="118.35" cy="733.34" r="1.5"/>
<circle cx="131.6" cy="721.46" r="1.5"/>
<circle cx="128.78" cy="721.79" r="1.5"/>
<circle cx="126.1" cy="720.75" r="1.5"/>
<circle cx="118.74" cy="731.28" r="1.5"/>
<circle cx="126.52" cy="737.29" r="1.5"/>
<circle cx="137.84" cy="727.89" r="1.5"/>
<circle cx="120.76" cy="724.17" r="1.5"/>
<circle cx="132.23" cy="728.83" r="1.5"/>
<circle cx="116.67" cy="723.67" r="1.5"/>
<circle cx="122.85" cy="742.67" r="1.5"/>
</g>
<g fill="none" stroke="#BAB0AC" stroke-width="1.1">
<circle cx="172.6" cy="660.1" r="1.5"/>
<circle cx="177.6" cy="672.6" r="1.5"/>
<circle cx="194.4" cy="670.9" r="1.5"/>
<circle cx="150.7" cy="683.7" r="1.5"/>
<circle cx="160.8" cy="717.2" r="1.5"/>
<circle cx="184.3" cy="722.3" r="1.5"/>
<circle cx="181" cy="730.7" r="1.5"/>
<circle cx="167.5" cy="734" r="1.5"/>
<circle cx="174.2" cy="737.4" r="1.5"/>
<circle cx="154.1" cy="734" r="1.5"/>
<circle cx="139" cy="700.4" r="1.5"/>
<circle cx="147.4" cy="708.8" r="1.5"/>
<circle cx="135.6" cy="724" r="1.5"/>
<circle cx="157.5" cy="710.5" r="1.5"/>
<circle cx="162.5" cy="732.3" r="1.5"/>
<circle cx="127.2" cy="687" r="1.5"/>
<circle cx="145" cy="695" r="1.5"/>
<circle cx="150" cy="725" r="1.5"/>
<circle cx="143" cy="716" r="1.5"/>
<circle cx="170" cy="742" r="1.5"/>
<circle cx="177" cy="746" r="1.5"/>
<circle cx="108" cy="718" r="1.5"/>
<circle cx="112" cy="712" r="1.5"/>
</g>
<path d="M63,690 L67,675 L80,671 L92,668 L86,675 L81,690 L80,705 L70,708 L64,700Z" fill="#EDC948"/>
<g fill="none" stroke="#EDC948" stroke-width="1.1">
<circle cx="80.69" cy="703.87" r="1.5"/>
<circle cx="82.26" cy="691.39" r="1.5"/>
<circle cx="72.11" cy="682.12" r="1.5"/>
<circle cx="94.15" cy="664.63" r="1.5"/>
<circle cx="81.44" cy="673.7" r="1.5"/>
<circle cx="73.77" cy="678.29" r="1.5"/>
<circle cx="69.41" cy="691.11" r="1.5"/>
<circle cx="72.49" cy="669.84" r="1.5"/>
<circle cx="101.82" cy="667.25" r="1.5"/>
<circle cx="68.93" cy="676.96" r="1.5"/>
<circle cx="75.92" cy="683.16" r="1.5"/>
<circle cx="66.11" cy="707.11" r="1.5"/>
<circle cx="69.99" cy="677.24" r="1.5"/>
<circle cx="68.32" cy="705.74" r="1.5"/>
<circle cx="65.39" cy="683.75" r="1.5"/>
<circle cx="70.46" cy="673.35" r="1.5"/>
<circle cx="89.97" cy="672.32" r="1.5"/>
<circle cx="62.39" cy="689.4" r="1.5"/>
<circle cx="82.96" cy="706.52" r="1.5"/>
<circle cx="71.48" cy="713.07" r="1.5"/>
<circle cx="69.87" cy="711.68" r="1.5"/>
<circle cx="83.05" cy="688.41" r="1.5"/>
<circle cx="78.64" cy="705.96" r="1.5"/>
<circle cx="68.33" cy="678.89" r="1.5"/>
<circle cx="72.46" cy="701.67" r="1.5"/>
<circle cx="80.18" cy="691.21" r="1.5"/>
<circle cx="66.04" cy="680.38" r="1.5"/>
<circle cx="72.12" cy="700.46" r="1.5"/>
<circle cx="63.83" cy="709.33" r="1.5"/>
<circle cx="85.71" cy="669.42" r="1.5"/>
<circle cx="66.21" cy="707.57" r="1.5"/>
<circle cx="74.81" cy="704" r="1.5"/>
<circle cx="63.31" cy="690.77" r="1.5"/>
<circle cx="93.27" cy="671.8" r="1.5"/>
<circle cx="75.73" cy="683.68" r="1.5"/>
<circle cx="98.29" cy="665.13" r="1.5"/>
<circle cx="69.23" cy="682.06" r="1.5"/>
<circle cx="73.84" cy="686.91" r="1.5"/>
<circle cx="94.75" cy="664.99" r="1.5"/>
<circle cx="79.25" cy="686.42" r="1.5"/>
<circle cx="65.05" cy="708.6" r="1.5"/>
<circle cx="77.62" cy="673.2" r="1.5"/>
<circle cx="63.95" cy="688.99" r="1.5"/>
<circle cx="75.92" cy="711.11" r="1.5"/>
<circle cx="83.36" cy="687.34" r="1.5"/>
<circle cx="79.4" cy="708.86" r="1.5"/>
<circle cx="75.69" cy="683.35" r="1.5"/>
<circle cx="74.01" cy="700.96" r="1.5"/>
<circle cx="64.6" cy="689.99" r="1.5"/>
<circle cx="89.37" cy="665.61" r="1.5"/>
<circle cx="75.02" cy="690.26" r="1.5"/>
<circle cx="61.85" cy="689.11" r="1.5"/>
<circle cx="69.89" cy="693.51" r="1.5"/>
<circle cx="63.59" cy="693.72" r="1.5"/>
<circle cx="64.36" cy="677.82" r="1.5"/>
<circle cx="70.95" cy="694.09" r="1.5"/>
<circle cx="77.48" cy="709.26" r="1.5"/>
<circle cx="82.08" cy="703.1" r="1.5"/>
<circle cx="68.7" cy="679.17" r="1.5"/>
<circle cx="77.74" cy="675.09" r="1.5"/>
<circle cx="73.02" cy="675.77" r="1.5"/>
<circle cx="70.78" cy="697.46" r="1.5"/>
<circle cx="94.96" cy="671.21" r="1.5"/>
<circle cx="76.34" cy="685.67" r="1.5"/>
<circle cx="65.81" cy="711.21" r="1.5"/>
<circle cx="67.09" cy="695.02" r="1.5"/>
<circle cx="81.13" cy="706.96" r="1.5"/>
<circle cx="70.64" cy="697.84" r="1.5"/>
<circle cx="75.14" cy="676.44" r="1.5"/>
<circle cx="70.33" cy="695.49" r="1.5"/>
<circle cx="102.87" cy="666.23" r="1.5"/>
<circle cx="73.58" cy="681.69" r="1.5"/>
<circle cx="99.19" cy="668.56" r="1.5"/>
<circle cx="61.51" cy="698.14" r="1.5"/>
<circle cx="98.44" cy="670.3" r="1.5"/>
<circle cx="67.62" cy="708.95" r="1.5"/>
<circle cx="70.23" cy="704.94" r="1.5"/>
<circle cx="104.54" cy="666.6" r="1.5"/>
<circle cx="79.47" cy="672.64" r="1.5"/>
<circle cx="102.92" cy="661.95" r="1.5"/>
<circle cx="101.87" cy="661.13" r="1.5"/>
<circle cx="75.21" cy="691.9" r="1.5"/>
<circle cx="67.76" cy="672.47" r="1.5"/>
<circle cx="78.27" cy="705.64" r="1.5"/>
<circle cx="63.4" cy="685.37" r="1.5"/>
<circle cx="80" cy="684.82" r="1.5"/>
<circle cx="79" cy="688.05" r="1.5"/>
<circle cx="72.86" cy="711.28" r="1.5"/>
<circle cx="78.3" cy="707.41" r="1.5"/>
<circle cx="77.44" cy="700.18" r="1.5"/>
<circle cx="83.67" cy="694.34" r="1.5"/>
<circle cx="68.47" cy="690.68" r="1.5"/>
<circle cx="80.23" cy="696.7" r="1.5"/>
<circle cx="96.49" cy="671.2" r="1.5"/>
<circle cx="77.48" cy="673.89" r="1.5"/>
<circle cx="83.75" cy="666.92" r="1.5"/>
<circle cx="78.9" cy="684.36" r="1.5"/>
<circle cx="85.14" cy="669.02" r="1.5"/>
<circle cx="68.51" cy="696.67" r="1.5"/>
<circle cx="84.35" cy="682.14" r="1.5"/>
<circle cx="83.3" cy="682.15" r="1.5"/>
<circle cx="62.38" cy="686.77" r="1.5"/>
<circle cx="71.85" cy="691.44" r="1.5"/>
<circle cx="81.86" cy="701.04" r="1.5"/>
<circle cx="65.42" cy="699.39" r="1.5"/>
<circle cx="69.35" cy="680.52" r="1.5"/>
<circle cx="87.55" cy="674.35" r="1.5"/>
<circle cx="81.92" cy="677.47" r="1.5"/>
<circle cx="80.82" cy="680.03" r="1.5"/>
<circle cx="72.74" cy="709.68" r="1.5"/>
<circle cx="80.92" cy="704.92" r="1.5"/>
<circle cx="68.49" cy="708.61" r="1.5"/>
<circle cx="78.3" cy="698.57" r="1.5"/>
<circle cx="91.46" cy="665.22" r="1.5"/>
<circle cx="84.05" cy="675.13" r="1.5"/>
<circle cx="90.56" cy="669.09" r="1.5"/>
<circle cx="74.1" cy="673.66" r="1.5"/>
<circle cx="73.28" cy="690.53" r="1.5"/>
<circle cx="78.47" cy="683.12" r="1.5"/>
<circle cx="90.72" cy="671.22" r="1.5"/>
<circle cx="101.5" cy="663.61" r="1.5"/>
<circle cx="66.22" cy="693.3" r="1.5"/>
<circle cx="76.39" cy="669.75" r="1.5"/>
<circle cx="85.32" cy="687.62" r="1.5"/>
<circle cx="90.16" cy="666.17" r="1.5"/>
<circle cx="63.94" cy="684.45" r="1.5"/>
<circle cx="92.1" cy="672.73" r="1.5"/>
<circle cx="83.19" cy="685.31" r="1.5"/>
<circle cx="71.92" cy="694.22" r="1.5"/>
<circle cx="77.12" cy="678.57" r="1.5"/>
<circle cx="66.29" cy="709.44" r="1.5"/>
<circle cx="80.88" cy="691.23" r="1.5"/>
<circle cx="71.63" cy="710.44" r="1.5"/>
<circle cx="65.08" cy="697.63" r="1.5"/>
<circle cx="63.19" cy="688.69" r="1.5"/>
<circle cx="75.38" cy="711.26" r="1.5"/>
<circle cx="80.73" cy="705.24" r="1.5"/>
<circle cx="77.15" cy="688.48" r="1.5"/>
<circle cx="78.04" cy="676.5" r="1.5"/>
<circle cx="82.4" cy="685.34" r="1.5"/>
<circle cx="68.7" cy="687.97" r="1.5"/>
<circle cx="70.11" cy="710.83" r="1.5"/>
<circle cx="65.64" cy="676.44" r="1.5"/>
<circle cx="79.7" cy="682.3" r="1.5"/>
<circle cx="70.01" cy="706.41" r="1.5"/>
<circle cx="74.32" cy="689.53" r="1.5"/>
<circle cx="88.74" cy="667.12" r="1.5"/>
<circle cx="65.43" cy="684.78" r="1.5"/>
<circle cx="100.96" cy="663.71" r="1.5"/>
<circle cx="78.37" cy="697.57" r="1.5"/>
</g>
<g fill="none" stroke="#EDC948" stroke-width="1.1">
<circle cx="88" cy="712" r="1.5"/>
<circle cx="92" cy="708" r="1.5"/>
<circle cx="98" cy="702" r="1.5"/>
<circle cx="103" cy="708" r="1.5"/>
<circle cx="82" cy="718" r="1.5"/>
<circle cx="96" cy="705" r="1.5"/>
<circle cx="101" cy="669" r="1.5"/>
</g>
<g fill="none" stroke="#FF9DA7" stroke-width="1.1">
<circle cx="150.53" cy="655.18" r="1.5"/>
<circle cx="156" cy="636.5" r="1.5"/>
<circle cx="157.76" cy="646.92" r="1.5"/>
<circle cx="156.85" cy="643.23" r="1.5"/>
<circle cx="165.62" cy="628" r="1.5"/>
<circle cx="171.72" cy="608.02" r="1.5"/>
<circle cx="144.2" cy="659.46" r="1.5"/>
<circle cx="156.01" cy="641.41" r="1.5"/>
<circle cx="150.27" cy="645.53" r="1.5"/>
<circle cx="154.83" cy="636.06" r="1.5"/>
<circle cx="167.14" cy="624.66" r="1.5"/>
<circle cx="155.81" cy="636.55" r="1.5"/>
<circle cx="137.8" cy="668.55" r="1.5"/>
<circle cx="162.95" cy="627.68" r="1.5"/>
<circle cx="170.85" cy="609.84" r="1.5"/>
<circle cx="161.54" cy="624.91" r="1.5"/>
<circle cx="159.71" cy="631.5" r="1.5"/>
<circle cx="155.6" cy="651.11" r="1.5"/>
<circle cx="167.85" cy="624.42" r="1.5"/>
<circle cx="156.8" cy="645.56" r="1.5"/>
<circle cx="158.18" cy="642.24" r="1.5"/>
<circle cx="138.3" cy="666.7" r="1.5"/>
<circle cx="165.87" cy="617.03" r="1.5"/>
<circle cx="142.38" cy="656.76" r="1.5"/>
<circle cx="160.01" cy="630.76" r="1.5"/>
<circle cx="165.59" cy="631.83" r="1.5"/>
<circle cx="160.52" cy="638.88" r="1.5"/>
<circle cx="140.07" cy="664.45" r="1.5"/>
<circle cx="163.56" cy="634.29" r="1.5"/>
<circle cx="160.2" cy="636.29" r="1.5"/>
<circle cx="165.36" cy="626.84" r="1.5"/>
<circle cx="158.42" cy="631.2" r="1.5"/>
<circle cx="164.77" cy="630.3" r="1.5"/>
<circle cx="147.99" cy="655.98" r="1.5"/>
<circle cx="160.12" cy="632.87" r="1.5"/>
<circle cx="162.39" cy="639.21" r="1.5"/>
<circle cx="150.32" cy="657.36" r="1.5"/>
<circle cx="164.13" cy="618.17" r="1.5"/>
<circle cx="170.56" cy="617.94" r="1.5"/>
<circle cx="139.8" cy="664.37" r="1.5"/>
<circle cx="156.07" cy="638.78" r="1.5"/>
<circle cx="141.14" cy="670.82" r="1.5"/>
<circle cx="163.57" cy="631.28" r="1.5"/>
<circle cx="144.2" cy="667.38" r="1.5"/>
<circle cx="163.45" cy="636.22" r="1.5"/>
<circle cx="156.42" cy="644.39" r="1.5"/>
<circle cx="138.63" cy="668.84" r="1.5"/>
<circle cx="155.49" cy="642.5" r="1.5"/>
<circle cx="161.63" cy="631.98" r="1.5"/>
<circle cx="154.08" cy="640.85" r="1.5"/>
<circle cx="167.07" cy="625.13" r="1.5"/>
<circle cx="162.71" cy="621.1" r="1.5"/>
<circle cx="143.79" cy="659.92" r="1.5"/>
<circle cx="145.19" cy="652.27" r="1.5"/>
<circle cx="148.24" cy="649.94" r="1.5"/>
<circle cx="142.75" cy="663.57" r="1.5"/>
<circle cx="166.54" cy="614.28" r="1.5"/>
<circle cx="135.83" cy="672.66" r="1.5"/>
<circle cx="156.42" cy="640.74" r="1.5"/>
<circle cx="144.85" cy="659.51" r="1.5"/>
<circle cx="161.89" cy="623.72" r="1.5"/>
<circle cx="142.4" cy="660.16" r="1.5"/>
<circle cx="146.64" cy="654.03" r="1.5"/>
<circle cx="148.97" cy="660.88" r="1.5"/>
<circle cx="155.73" cy="649.58" r="1.5"/>
<circle cx="139.97" cy="663.02" r="1.5"/>
<circle cx="152.49" cy="641.02" r="1.5"/>
<circle cx="146.61" cy="660.31" r="1.5"/>
<circle cx="142.78" cy="661.58" r="1.5"/>
<circle cx="148.32" cy="654.47" r="1.5"/>
<circle cx="141.66" cy="660.24" r="1.5"/>
<circle cx="164.27" cy="619.53" r="1.5"/>
<circle cx="147.21" cy="660.49" r="1.5"/>
<circle cx="140.41" cy="666.07" r="1.5"/>
<circle cx="152.18" cy="644.56" r="1.5"/>
<circle cx="139.39" cy="672.87" r="1.5"/>
<circle cx="136.77" cy="668.94" r="1.5"/>
<circle cx="139.23" cy="673.9" r="1.5"/>
<circle cx="158.43" cy="640.66" r="1.5"/>
<circle cx="145.33" cy="661.67" r="1.5"/>
<circle cx="167.34" cy="609.13" r="1.5"/>
<circle cx="138.7" cy="674.4" r="1.5"/>
<circle cx="170.65" cy="620.04" r="1.5"/>
<circle cx="168.94" cy="609.27" r="1.5"/>
<circle cx="139.69" cy="658.47" r="1.5"/>
<circle cx="150.3" cy="661.15" r="1.5"/>
<circle cx="168.43" cy="608.46" r="1.5"/>
<circle cx="151.26" cy="642.24" r="1.5"/>
<circle cx="142.82" cy="655.62" r="1.5"/>
<circle cx="167.58" cy="635.11" r="1.5"/>
<circle cx="158.59" cy="630.29" r="1.5"/>
<circle cx="160.06" cy="647.25" r="1.5"/>
<circle cx="144.09" cy="669.18" r="1.5"/>
<circle cx="147.56" cy="663.58" r="1.5"/>
<circle cx="169.34" cy="626.8" r="1.5"/>
<circle cx="136.51" cy="676.03" r="1.5"/>
<circle cx="160.23" cy="646.5" r="1.5"/>
<circle cx="159.28" cy="627.34" r="1.5"/>
<circle cx="167.82" cy="610.11" r="1.5"/>
<circle cx="161.7" cy="649.49" r="1.5"/>
<circle cx="167.15" cy="629.35" r="1.5"/>
<circle cx="167.74" cy="630.18" r="1.5"/>
<circle cx="175.19" cy="609" r="1.5"/>
<circle cx="144.92" cy="670.47" r="1.5"/>
<circle cx="169.39" cy="607.62" r="1.5"/>
<circle cx="151.84" cy="656.34" r="1.5"/>
<circle cx="151.72" cy="640.96" r="1.5"/>
<circle cx="148.46" cy="663.93" r="1.5"/>
<circle cx="137.23" cy="674.05" r="1.5"/>
<circle cx="161.39" cy="623.98" r="1.5"/>
</g>
<g fill="none" stroke="#FF9DA7" stroke-width="1.1">
<circle cx="197.9" cy="609.6" r="1.5"/>
<circle cx="157.6" cy="664.6" r="1.5"/>
<circle cx="159.3" cy="654" r="1.5"/>
<circle cx="162.1" cy="648" r="1.5"/>
<circle cx="152" cy="668" r="1.5"/>
<circle cx="138" cy="678" r="1.5"/>
</g>
<path d="M246.6,576.3 L249.9,572.3 L256.5,569.1 L263.1,567.7 L267,569.7 L267.7,573.7 L263.1,577.6 L255.2,581.5 L248.6,582.2 L246.6,580.2Z" fill="#59A14F"/>
<g fill="none" stroke="#59A14F" stroke-width="1.1">
<circle cx="245.3" cy="582.2" r="1.5"/>
<circle cx="235.5" cy="586.6" r="1.5"/>
<circle cx="235.5" cy="588.6" r="1.5"/>
<circle cx="236.8" cy="592.7" r="1.5"/>
<circle cx="266.5" cy="573" r="1.5"/>
<circle cx="249" cy="575" r="1.5"/>
</g>
<path d="M102,730 L106,716 L116,706 L123,702 L120,718 L112,732Z" fill="#B07AA1"/>
<g fill="none" stroke="#B07AA1" stroke-width="1.1">
<circle cx="113.66" cy="707.01" r="1.5"/>
<circle cx="104.05" cy="729.56" r="1.5"/>
<circle cx="111.55" cy="719.83" r="1.5"/>
<circle cx="116.81" cy="727.02" r="1.5"/>
<circle cx="100.38" cy="726.94" r="1.5"/>
<circle cx="112.14" cy="719.26" r="1.5"/>
<circle cx="119.58" cy="720.91" r="1.5"/>
<circle cx="103.12" cy="716.07" r="1.5"/>
<circle cx="106.74" cy="720.55" r="1.5"/>
<circle cx="116.91" cy="709.42" r="1.5"/>
<circle cx="108.93" cy="717.19" r="1.5"/>
<circle cx="125.08" cy="699.1" r="1.5"/>
<circle cx="124.67" cy="712.83" r="1.5"/>
<circle cx="103.72" cy="723.25" r="1.5"/>
<circle cx="106.95" cy="717.97" r="1.5"/>
<circle cx="117.21" cy="719.84" r="1.5"/>
<circle cx="109.84" cy="713.81" r="1.5"/>
<circle cx="103.23" cy="714.34" r="1.5"/>
<circle cx="112.73" cy="708.65" r="1.5"/>
<circle cx="113.55" cy="720.93" r="1.5"/>
<circle cx="108.75" cy="729.72" r="1.5"/>
<circle cx="110.75" cy="734.29" r="1.5"/>
<circle cx="120.14" cy="725.02" r="1.5"/>
<circle cx="101.91" cy="725.47" r="1.5"/>
<circle cx="117.05" cy="718.95" r="1.5"/>
<circle cx="119.05" cy="719.13" r="1.5"/>
<circle cx="121.13" cy="703.38" r="1.5"/>
<circle cx="111.21" cy="722.46" r="1.5"/>
<circle cx="124.64" cy="700.62" r="1.5"/>
<circle cx="119.17" cy="726.07" r="1.5"/>
<circle cx="116.25" cy="721.18" r="1.5"/>
<circle cx="111.33" cy="714.84" r="1.5"/>
<circle cx="115.17" cy="710.71" r="1.5"/>
<circle cx="121.12" cy="719.12" r="1.5"/>
<circle cx="110.13" cy="717.86" r="1.5"/>
<circle cx="118.41" cy="730.8" r="1.5"/>
<circle cx="111.29" cy="727.57" r="1.5"/>
<circle cx="110.3" cy="732.3" r="1.5"/>
<circle cx="107.86" cy="716.63" r="1.5"/>
<circle cx="116.92" cy="707.07" r="1.5"/>
<circle cx="116.58" cy="706.45" r="1.5"/>
<circle cx="111.32" cy="709.25" r="1.5"/>
<circle cx="120.4" cy="713.21" r="1.5"/>
<circle cx="99.59" cy="732.94" r="1.5"/>
<circle cx="118.13" cy="702.35" r="1.5"/>
<circle cx="115.27" cy="715.01" r="1.5"/>
<circle cx="102.21" cy="729.79" r="1.5"/>
<circle cx="112.73" cy="714.86" r="1.5"/>
<circle cx="105.48" cy="736.84" r="1.5"/>
<circle cx="122.7" cy="698.19" r="1.5"/>
<circle cx="102.98" cy="718.41" r="1.5"/>
<circle cx="100.07" cy="725.14" r="1.5"/>
<circle cx="103.57" cy="719.45" r="1.5"/>
<circle cx="107.34" cy="733.69" r="1.5"/>
<circle cx="123.23" cy="699.56" r="1.5"/>
<circle cx="111.82" cy="716.66" r="1.5"/>
<circle cx="118.46" cy="713.84" r="1.5"/>
<circle cx="115.39" cy="720.87" r="1.5"/>
<circle cx="113.95" cy="725.08" r="1.5"/>
<circle cx="122.19" cy="718.41" r="1.5"/>
<circle cx="112.14" cy="735.28" r="1.5"/>
<circle cx="109.6" cy="716.09" r="1.5"/>
<circle cx="120.26" cy="715.02" r="1.5"/>
<circle cx="110.02" cy="726.76" r="1.5"/>
<circle cx="124.1" cy="715.56" r="1.5"/>
<circle cx="118.21" cy="719.72" r="1.5"/>
<circle cx="113.66" cy="705.72" r="1.5"/>
<circle cx="117.33" cy="727.18" r="1.5"/>
<circle cx="116.37" cy="725.91" r="1.5"/>
<circle cx="101.75" cy="732.37" r="1.5"/>
<circle cx="121.85" cy="705.16" r="1.5"/>
<circle cx="121.34" cy="704.08" r="1.5"/>
<circle cx="107.51" cy="728.9" r="1.5"/>
<circle cx="122.07" cy="713.2" r="1.5"/>
<circle cx="109.46" cy="725.14" r="1.5"/>
<circle cx="102.65" cy="721.74" r="1.5"/>
<circle cx="118.74" cy="706.06" r="1.5"/>
<circle cx="119.47" cy="721.46" r="1.5"/>
<circle cx="114.29" cy="718.31" r="1.5"/>
<circle cx="113.24" cy="723.78" r="1.5"/>
</g>
<path d="M66.8,737.4 L83.6,742 L98.7,750.8 L93.7,755.8 L70.1,750.8Z" fill="#B07AA1"/>
<g fill="none" stroke="#B07AA1" stroke-width="1.1">
<circle cx="69.68" cy="738.36" r="1.5"/>
<circle cx="82.5" cy="748.88" r="1.5"/>
<circle cx="77.16" cy="748.31" r="1.5"/>
<circle cx="69.83" cy="741.2" r="1.5"/>
<circle cx="70.43" cy="749.35" r="1.5"/>
<circle cx="94.93" cy="750.53" r="1.5"/>
<circle cx="85.37" cy="747.19" r="1.5"/>
<circle cx="82.33" cy="751.61" r="1.5"/>
<circle cx="87.18" cy="747.36" r="1.5"/>
<circle cx="82.58" cy="748.36" r="1.5"/>
<circle cx="80.99" cy="744.37" r="1.5"/>
<circle cx="91.14" cy="749.3" r="1.5"/>
<circle cx="82.86" cy="746.54" r="1.5"/>
<circle cx="92" cy="754.14" r="1.5"/>
<circle cx="77.59" cy="748.46" r="1.5"/>
<circle cx="79.09" cy="744.47" r="1.5"/>
<circle cx="87.12" cy="750.13" r="1.5"/>
<circle cx="82.57" cy="745.69" r="1.5"/>
<circle cx="70.37" cy="746.56" r="1.5"/>
<circle cx="85.26" cy="750.13" r="1.5"/>
<circle cx="77.9" cy="747.32" r="1.5"/>
<circle cx="87.11" cy="747.35" r="1.5"/>
<circle cx="92.49" cy="752.79" r="1.5"/>
<circle cx="84.03" cy="743.33" r="1.5"/>
<circle cx="69.36" cy="744.25" r="1.5"/>
<circle cx="71.58" cy="745.63" r="1.5"/>
<circle cx="87.08" cy="751.99" r="1.5"/>
<circle cx="95.39" cy="752.48" r="1.5"/>
<circle cx="73.34" cy="742.52" r="1.5"/>
<circle cx="77.05" cy="742.99" r="1.5"/>
<circle cx="70.42" cy="739.19" r="1.5"/>
<circle cx="69.24" cy="744.23" r="1.5"/>
<circle cx="81.68" cy="748.08" r="1.5"/>
<circle cx="82.2" cy="742.67" r="1.5"/>
<circle cx="83.15" cy="749.54" r="1.5"/>
<circle cx="96.42" cy="754.32" r="1.5"/>
<circle cx="66.1" cy="741.4" r="1.5"/>
<circle cx="93.69" cy="756.15" r="1.5"/>
<circle cx="71.34" cy="738.2" r="1.5"/>
<circle cx="66.89" cy="741.12" r="1.5"/>
<circle cx="68.39" cy="746.47" r="1.5"/>
<circle cx="74.61" cy="752.12" r="1.5"/>
<circle cx="67.6" cy="746.75" r="1.5"/>
<circle cx="68.97" cy="743.96" r="1.5"/>
<circle cx="94" cy="754.51" r="1.5"/>
<circle cx="89.84" cy="755.19" r="1.5"/>
<circle cx="93.63" cy="746.7" r="1.5"/>
<circle cx="95.09" cy="754.98" r="1.5"/>
<circle cx="93.29" cy="754.37" r="1.5"/>
<circle cx="67.66" cy="738.43" r="1.5"/>
<circle cx="96.13" cy="751.94" r="1.5"/>
<circle cx="70.37" cy="743.47" r="1.5"/>
<circle cx="81.71" cy="743.43" r="1.5"/>
<circle cx="68.23" cy="742.18" r="1.5"/>
<circle cx="83.75" cy="741.76" r="1.5"/>
<circle cx="70.14" cy="745.83" r="1.5"/>
<circle cx="83.16" cy="739.18" r="1.5"/>
<circle cx="67.07" cy="738.85" r="1.5"/>
<circle cx="75.05" cy="739.41" r="1.5"/>
<circle cx="85.34" cy="754.72" r="1.5"/>
</g>
<g fill="none" stroke="#B07AA1" stroke-width="1.1">
<circle cx="120" cy="696" r="1.5"/>
<circle cx="128" cy="697" r="1.5"/>
<circle cx="80" cy="733" r="1.5"/>
<circle cx="72" cy="735" r="1.5"/>
</g>
<path d="M72,728 L78,724 L90,733 L110,743 L124,752 L122,757 L100,752 L76,744Z" fill="#E15759"/>
<g fill="none" stroke="#E15759" stroke-width="1.1">
<circle cx="95.6" cy="739.74" r="1.5"/>
<circle cx="93.44" cy="748.52" r="1.5"/>
<circle cx="80.93" cy="740.41" r="1.5"/>
<circle cx="82.1" cy="745.08" r="1.5"/>
<circle cx="85.51" cy="734.47" r="1.5"/>
<circle cx="91.02" cy="738.51" r="1.5"/>
<circle cx="82.57" cy="729.69" r="1.5"/>
<circle cx="70.96" cy="734.25" r="1.5"/>
<circle cx="87.99" cy="749.31" r="1.5"/>
<circle cx="125.24" cy="753.65" r="1.5"/>
<circle cx="114.82" cy="751.26" r="1.5"/>
<circle cx="108.22" cy="743.01" r="1.5"/>
<circle cx="97.01" cy="750.21" r="1.5"/>
<circle cx="79.22" cy="735.1" r="1.5"/>
<circle cx="83.91" cy="736.88" r="1.5"/>
<circle cx="99.31" cy="738.37" r="1.5"/>
<circle cx="73.14" cy="734.73" r="1.5"/>
<circle cx="120.11" cy="755.01" r="1.5"/>
<circle cx="86.71" cy="734.61" r="1.5"/>
<circle cx="101.58" cy="743.45" r="1.5"/>
<circle cx="98.84" cy="741.83" r="1.5"/>
<circle cx="94.75" cy="733.55" r="1.5"/>
<circle cx="81.68" cy="737.49" r="1.5"/>
<circle cx="75.54" cy="730.32" r="1.5"/>
<circle cx="90.6" cy="734.78" r="1.5"/>
<circle cx="94.04" cy="743.36" r="1.5"/>
<circle cx="73.76" cy="726.45" r="1.5"/>
<circle cx="85.6" cy="737.83" r="1.5"/>
<circle cx="114.58" cy="753.49" r="1.5"/>
<circle cx="80.83" cy="730.87" r="1.5"/>
<circle cx="98.68" cy="742.29" r="1.5"/>
<circle cx="100.21" cy="738.64" r="1.5"/>
<circle cx="94.04" cy="746.68" r="1.5"/>
<circle cx="89.34" cy="738.74" r="1.5"/>
<circle cx="84.22" cy="740.37" r="1.5"/>
<circle cx="117.28" cy="754.91" r="1.5"/>
<circle cx="97.2" cy="734.15" r="1.5"/>
<circle cx="75.43" cy="741.8" r="1.5"/>
<circle cx="77.74" cy="742.35" r="1.5"/>
<circle cx="85.7" cy="743.7" r="1.5"/>
<circle cx="88.26" cy="746.42" r="1.5"/>
<circle cx="115.21" cy="751.56" r="1.5"/>
<circle cx="84.34" cy="746.38" r="1.5"/>
<circle cx="72.31" cy="734.04" r="1.5"/>
<circle cx="113.98" cy="747" r="1.5"/>
<circle cx="94.75" cy="752.36" r="1.5"/>
<circle cx="93.27" cy="745.57" r="1.5"/>
<circle cx="101.82" cy="743.4" r="1.5"/>
<circle cx="83.87" cy="725.94" r="1.5"/>
<circle cx="79.22" cy="728.51" r="1.5"/>
<circle cx="107.8" cy="740.04" r="1.5"/>
<circle cx="79.88" cy="734.94" r="1.5"/>
<circle cx="96.33" cy="738.75" r="1.5"/>
<circle cx="103.22" cy="747.26" r="1.5"/>
<circle cx="77.26" cy="745.67" r="1.5"/>
<circle cx="84.32" cy="730.34" r="1.5"/>
<circle cx="80.9" cy="732.23" r="1.5"/>
<circle cx="108.93" cy="749.26" r="1.5"/>
<circle cx="91.27" cy="747.07" r="1.5"/>
<circle cx="76.04" cy="731.11" r="1.5"/>
<circle cx="126.71" cy="752.93" r="1.5"/>
<circle cx="107.8" cy="740" r="1.5"/>
<circle cx="92.7" cy="743.06" r="1.5"/>
<circle cx="80.04" cy="726.18" r="1.5"/>
<circle cx="76.27" cy="721" r="1.5"/>
<circle cx="75.45" cy="733.27" r="1.5"/>
<circle cx="124.86" cy="749.76" r="1.5"/>
<circle cx="79.11" cy="735.91" r="1.5"/>
<circle cx="71.89" cy="727.97" r="1.5"/>
<circle cx="125.71" cy="758.18" r="1.5"/>
<circle cx="96.22" cy="737.34" r="1.5"/>
<circle cx="101" cy="752.81" r="1.5"/>
<circle cx="97.89" cy="746.5" r="1.5"/>
<circle cx="74.11" cy="735.86" r="1.5"/>
<circle cx="101.79" cy="750.65" r="1.5"/>
<circle cx="86.85" cy="747.69" r="1.5"/>
<circle cx="111.52" cy="750.54" r="1.5"/>
<circle cx="87.17" cy="733.69" r="1.5"/>
<circle cx="102.73" cy="737.86" r="1.5"/>
<circle cx="96.24" cy="742.46" r="1.5"/>
<circle cx="80.96" cy="725.47" r="1.5"/>
<circle cx="94.77" cy="750.23" r="1.5"/>
<circle cx="82.07" cy="747.81" r="1.5"/>
<circle cx="77.62" cy="732.3" r="1.5"/>
<circle cx="98.18" cy="749.51" r="1.5"/>
<circle cx="89.98" cy="731.34" r="1.5"/>
<circle cx="74.08" cy="738.83" r="1.5"/>
<circle cx="99.86" cy="751.31" r="1.5"/>
<circle cx="111.05" cy="754.46" r="1.5"/>
<circle cx="84.95" cy="727.46" r="1.5"/>
<circle cx="102.71" cy="737.61" r="1.5"/>
<circle cx="80.79" cy="728.04" r="1.5"/>
<circle cx="122.9" cy="755.3" r="1.5"/>
<circle cx="86.74" cy="732.85" r="1.5"/>
<circle cx="88.41" cy="733.93" r="1.5"/>
<circle cx="69.47" cy="734.62" r="1.5"/>
<circle cx="100.7" cy="744.18" r="1.5"/>
<circle cx="88.06" cy="748.44" r="1.5"/>
<circle cx="92.07" cy="745.61" r="1.5"/>
<circle cx="97.01" cy="748" r="1.5"/>
<circle cx="111.63" cy="748.34" r="1.5"/>
<circle cx="106.82" cy="751.26" r="1.5"/>
<circle cx="82.92" cy="743.84" r="1.5"/>
<circle cx="86.86" cy="742.11" r="1.5"/>
<circle cx="114.68" cy="753.72" r="1.5"/>
<circle cx="100.08" cy="740.5" r="1.5"/>
<circle cx="77.4" cy="721.89" r="1.5"/>
<circle cx="114.25" cy="748.02" r="1.5"/>
<circle cx="89.08" cy="749.35" r="1.5"/>
<circle cx="80.47" cy="727.17" r="1.5"/>
<circle cx="83.93" cy="726.65" r="1.5"/>
<circle cx="80.94" cy="724.54" r="1.5"/>
<circle cx="92.71" cy="733.65" r="1.5"/>
<circle cx="76.71" cy="727.47" r="1.5"/>
<circle cx="79.96" cy="726.98" r="1.5"/>
<circle cx="113.28" cy="750.33" r="1.5"/>
<circle cx="93.03" cy="734.18" r="1.5"/>
<circle cx="106.81" cy="739.27" r="1.5"/>
<circle cx="84.37" cy="736.88" r="1.5"/>
<circle cx="71.25" cy="736.1" r="1.5"/>
<circle cx="93.71" cy="744" r="1.5"/>
<circle cx="74.56" cy="746.53" r="1.5"/>
<circle cx="76.32" cy="731.31" r="1.5"/>
<circle cx="100.65" cy="737.8" r="1.5"/>
<circle cx="78.86" cy="743.19" r="1.5"/>
<circle cx="80.51" cy="742.17" r="1.5"/>
<circle cx="80.82" cy="727.98" r="1.5"/>
<circle cx="88.05" cy="737.98" r="1.5"/>
<circle cx="122.91" cy="755.99" r="1.5"/>
<circle cx="114.02" cy="748.08" r="1.5"/>
<circle cx="111.19" cy="746.02" r="1.5"/>
<circle cx="82.31" cy="744.76" r="1.5"/>
<circle cx="76.74" cy="720.92" r="1.5"/>
<circle cx="104.75" cy="744.36" r="1.5"/>
<circle cx="122.17" cy="751.7" r="1.5"/>
<circle cx="77.45" cy="738.8" r="1.5"/>
<circle cx="108.93" cy="744.53" r="1.5"/>
<circle cx="96.84" cy="741.44" r="1.5"/>
<circle cx="77.75" cy="740.22" r="1.5"/>
<circle cx="106.43" cy="746.23" r="1.5"/>
<circle cx="123.32" cy="751.28" r="1.5"/>
<circle cx="84.57" cy="737.23" r="1.5"/>
<circle cx="80.62" cy="744.99" r="1.5"/>
<circle cx="91.28" cy="738.39" r="1.5"/>
<circle cx="103.12" cy="748.61" r="1.5"/>
<circle cx="104.58" cy="744.65" r="1.5"/>
<circle cx="100.71" cy="752.59" r="1.5"/>
<circle cx="123.75" cy="750.05" r="1.5"/>
<circle cx="101.57" cy="740.58" r="1.5"/>
<circle cx="80.6" cy="733.03" r="1.5"/>
</g>
<g fill="none" stroke="#E15759" stroke-width="1.1">
<circle cx="66" cy="722" r="1.5"/>
<circle cx="75" cy="716" r="1.5"/>
<circle cx="63" cy="728" r="1.5"/>
<circle cx="95" cy="728" r="1.5"/>
<circle cx="88" cy="724" r="1.5"/>
</g>
<path d="M124,741 L142,737 L158,743 L167,755 L150,753 L132,748Z" fill="#F28E2B"/>
<g fill="none" stroke="#F28E2B" stroke-width="1.1">
<circle cx="136.74" cy="741.16" r="1.5"/>
<circle cx="131.91" cy="738.93" r="1.5"/>
<circle cx="121.64" cy="737.71" r="1.5"/>
<circle cx="118.31" cy="738.8" r="1.5"/>
<circle cx="168.04" cy="757.65" r="1.5"/>
<circle cx="134.55" cy="749.33" r="1.5"/>
<circle cx="136.51" cy="745.32" r="1.5"/>
<circle cx="120.67" cy="745.3" r="1.5"/>
<circle cx="155.53" cy="755.17" r="1.5"/>
<circle cx="150.88" cy="741.55" r="1.5"/>
<circle cx="118.64" cy="740.16" r="1.5"/>
<circle cx="148.8" cy="750.07" r="1.5"/>
<circle cx="151.74" cy="748.28" r="1.5"/>
<circle cx="121.21" cy="745.31" r="1.5"/>
<circle cx="166.83" cy="749.39" r="1.5"/>
<circle cx="138.14" cy="739.61" r="1.5"/>
<circle cx="153.79" cy="750.69" r="1.5"/>
<circle cx="167.13" cy="753" r="1.5"/>
<circle cx="163.24" cy="756.29" r="1.5"/>
<circle cx="159.48" cy="755.66" r="1.5"/>
<circle cx="127.45" cy="744.01" r="1.5"/>
<circle cx="155.04" cy="749.04" r="1.5"/>
<circle cx="146.66" cy="753.81" r="1.5"/>
<circle cx="141.58" cy="738.84" r="1.5"/>
<circle cx="168.43" cy="754.81" r="1.5"/>
<circle cx="143.8" cy="749.12" r="1.5"/>
<circle cx="128.32" cy="740.29" r="1.5"/>
<circle cx="160.87" cy="741.05" r="1.5"/>
<circle cx="127.64" cy="745.63" r="1.5"/>
<circle cx="130.47" cy="740.98" r="1.5"/>
<circle cx="153.12" cy="751.59" r="1.5"/>
<circle cx="126.13" cy="741.6" r="1.5"/>
<circle cx="156.49" cy="756.28" r="1.5"/>
<circle cx="152.33" cy="742.56" r="1.5"/>
<circle cx="147.16" cy="750.73" r="1.5"/>
<circle cx="143.41" cy="737.33" r="1.5"/>
<circle cx="143.39" cy="745.39" r="1.5"/>
<circle cx="153.69" cy="747.06" r="1.5"/>
<circle cx="130.18" cy="739.36" r="1.5"/>
<circle cx="157.44" cy="749.36" r="1.5"/>
<circle cx="141.14" cy="737.13" r="1.5"/>
<circle cx="126.48" cy="743.39" r="1.5"/>
<circle cx="122.87" cy="747.8" r="1.5"/>
<circle cx="134.15" cy="743.64" r="1.5"/>
<circle cx="145.82" cy="741.4" r="1.5"/>
<circle cx="152.09" cy="753.07" r="1.5"/>
<circle cx="164.21" cy="755.48" r="1.5"/>
<circle cx="124.12" cy="745.61" r="1.5"/>
<circle cx="166.45" cy="752.28" r="1.5"/>
<circle cx="160.59" cy="746.39" r="1.5"/>
<circle cx="135.86" cy="742" r="1.5"/>
<circle cx="128.76" cy="744.02" r="1.5"/>
<circle cx="126.33" cy="748.12" r="1.5"/>
<circle cx="166.19" cy="754.2" r="1.5"/>
<circle cx="151.76" cy="750.22" r="1.5"/>
<circle cx="127.53" cy="738.01" r="1.5"/>
<circle cx="141.09" cy="752.38" r="1.5"/>
<circle cx="142.04" cy="747.46" r="1.5"/>
<circle cx="130.05" cy="744.46" r="1.5"/>
<circle cx="136.95" cy="746.13" r="1.5"/>
<circle cx="162.28" cy="747.14" r="1.5"/>
<circle cx="123.58" cy="739.83" r="1.5"/>
<circle cx="161.98" cy="756.29" r="1.5"/>
<circle cx="133.5" cy="743.37" r="1.5"/>
<circle cx="140.45" cy="743.78" r="1.5"/>
<circle cx="157.13" cy="752.43" r="1.5"/>
<circle cx="149.31" cy="739.55" r="1.5"/>
<circle cx="144.5" cy="741.22" r="1.5"/>
<circle cx="166.03" cy="755.56" r="1.5"/>
<circle cx="151.79" cy="754.74" r="1.5"/>
<circle cx="123.06" cy="745.47" r="1.5"/>
<circle cx="136.61" cy="743.57" r="1.5"/>
<circle cx="139.13" cy="747.84" r="1.5"/>
<circle cx="167.82" cy="754.04" r="1.5"/>
<circle cx="141.67" cy="746.44" r="1.5"/>
<circle cx="136.28" cy="746.92" r="1.5"/>
<circle cx="126.49" cy="746.32" r="1.5"/>
<circle cx="136.05" cy="737.74" r="1.5"/>
<circle cx="148.82" cy="745.73" r="1.5"/>
<circle cx="129.32" cy="749.3" r="1.5"/>
<circle cx="163.48" cy="758.9" r="1.5"/>
<circle cx="157.57" cy="745.46" r="1.5"/>
<circle cx="142.97" cy="736.32" r="1.5"/>
<circle cx="133" cy="741.05" r="1.5"/>
<circle cx="160.04" cy="755.11" r="1.5"/>
<circle cx="151.06" cy="754.54" r="1.5"/>
<circle cx="140.31" cy="751.21" r="1.5"/>
<circle cx="137.96" cy="740.83" r="1.5"/>
<circle cx="125.74" cy="745.57" r="1.5"/>
<circle cx="133.83" cy="736.96" r="1.5"/>
</g>
<g fill="none" stroke="#F28E2B" stroke-width="1.1">
<circle cx="148" cy="728" r="1.5"/>
<circle cx="153" cy="731" r="1.5"/>
<circle cx="108" cy="730" r="1.5"/>
<circle cx="124" cy="733" r="1.5"/>
</g>
<path d="M135,756 L160,760 L184,770 L200,780 L180,776 L158,768 L138,761Z" fill="#4E79A7"/>
<g fill="none" stroke="#4E79A7" stroke-width="1.1">
<circle cx="179" cy="777.02" r="1.5"/>
<circle cx="180.02" cy="776.09" r="1.5"/>
<circle cx="131.02" cy="755.66" r="1.5"/>
<circle cx="160.32" cy="764.31" r="1.5"/>
<circle cx="147.17" cy="754.78" r="1.5"/>
<circle cx="182.81" cy="767.62" r="1.5"/>
<circle cx="155.38" cy="762.74" r="1.5"/>
<circle cx="144.4" cy="760.14" r="1.5"/>
<circle cx="159.64" cy="766.58" r="1.5"/>
<circle cx="174.11" cy="767.98" r="1.5"/>
<circle cx="142.14" cy="757.78" r="1.5"/>
<circle cx="157.58" cy="758.29" r="1.5"/>
<circle cx="200.31" cy="779.68" r="1.5"/>
<circle cx="143.65" cy="755.24" r="1.5"/>
<circle cx="164.95" cy="769.65" r="1.5"/>
<circle cx="198.29" cy="780.06" r="1.5"/>
<circle cx="161.13" cy="762.46" r="1.5"/>
<circle cx="176.46" cy="764.48" r="1.5"/>
<circle cx="162.38" cy="759.1" r="1.5"/>
<circle cx="138.71" cy="754.25" r="1.5"/>
<circle cx="143.04" cy="753.69" r="1.5"/>
<circle cx="153.96" cy="763.18" r="1.5"/>
<circle cx="158.88" cy="765.7" r="1.5"/>
<circle cx="136.38" cy="760.86" r="1.5"/>
<circle cx="143.38" cy="763.87" r="1.5"/>
<circle cx="158.49" cy="761.47" r="1.5"/>
<circle cx="182.02" cy="767.35" r="1.5"/>
<circle cx="191.84" cy="778.83" r="1.5"/>
<circle cx="183.71" cy="768.79" r="1.5"/>
<circle cx="148.67" cy="755.39" r="1.5"/>
<circle cx="170.04" cy="774.96" r="1.5"/>
<circle cx="153.55" cy="762.77" r="1.5"/>
<circle cx="133.8" cy="759.99" r="1.5"/>
<circle cx="155.22" cy="759.72" r="1.5"/>
<circle cx="143.53" cy="760.27" r="1.5"/>
<circle cx="166.23" cy="772.6" r="1.5"/>
<circle cx="131.72" cy="753.25" r="1.5"/>
<circle cx="174.18" cy="770.48" r="1.5"/>
<circle cx="178.08" cy="765.88" r="1.5"/>
<circle cx="162.06" cy="766.39" r="1.5"/>
<circle cx="147.97" cy="767.39" r="1.5"/>
<circle cx="159.33" cy="771.35" r="1.5"/>
<circle cx="135.12" cy="760.49" r="1.5"/>
<circle cx="152.36" cy="769.24" r="1.5"/>
<circle cx="192.73" cy="777.03" r="1.5"/>
<circle cx="174.33" cy="774.71" r="1.5"/>
<circle cx="194.56" cy="777.68" r="1.5"/>
<circle cx="140.46" cy="758.39" r="1.5"/>
<circle cx="171.37" cy="770.83" r="1.5"/>
<circle cx="143.55" cy="755.04" r="1.5"/>
<circle cx="164.37" cy="767.99" r="1.5"/>
<circle cx="173.15" cy="762.84" r="1.5"/>
<circle cx="192.29" cy="776.44" r="1.5"/>
<circle cx="178.88" cy="770.11" r="1.5"/>
<circle cx="189.24" cy="771.16" r="1.5"/>
<circle cx="200.44" cy="784" r="1.5"/>
<circle cx="182.25" cy="770.76" r="1.5"/>
<circle cx="183.3" cy="775.33" r="1.5"/>
<circle cx="156.97" cy="770.16" r="1.5"/>
<circle cx="180.73" cy="769.88" r="1.5"/>
<circle cx="186.56" cy="779.83" r="1.5"/>
<circle cx="171.43" cy="772.43" r="1.5"/>
<circle cx="136.49" cy="752.92" r="1.5"/>
<circle cx="145.97" cy="758.3" r="1.5"/>
<circle cx="172.45" cy="772.36" r="1.5"/>
<circle cx="197.15" cy="777.94" r="1.5"/>
<circle cx="149.67" cy="757.69" r="1.5"/>
<circle cx="157.88" cy="757.82" r="1.5"/>
<circle cx="155.17" cy="758.4" r="1.5"/>
<circle cx="183.43" cy="778.14" r="1.5"/>
<circle cx="145.37" cy="752.49" r="1.5"/>
<circle cx="173.03" cy="768.38" r="1.5"/>
<circle cx="172.69" cy="762.96" r="1.5"/>
<circle cx="168.97" cy="771.45" r="1.5"/>
<circle cx="190.63" cy="772.47" r="1.5"/>
<circle cx="192.08" cy="780.33" r="1.5"/>
<circle cx="191.62" cy="778.7" r="1.5"/>
<circle cx="134.55" cy="757.35" r="1.5"/>
<circle cx="193.33" cy="778.36" r="1.5"/>
<circle cx="197.28" cy="780.14" r="1.5"/>
<circle cx="141.55" cy="762.22" r="1.5"/>
<circle cx="140.91" cy="762.17" r="1.5"/>
<circle cx="145.07" cy="752.95" r="1.5"/>
<circle cx="193.43" cy="774.1" r="1.5"/>
<circle cx="153.33" cy="758.36" r="1.5"/>
<circle cx="155.44" cy="766.48" r="1.5"/>
<circle cx="144" cy="752.09" r="1.5"/>
<circle cx="160.22" cy="759.7" r="1.5"/>
<circle cx="149.9" cy="767.45" r="1.5"/>
<circle cx="153.38" cy="766.12" r="1.5"/>
<circle cx="145.25" cy="766.8" r="1.5"/>
<circle cx="203.82" cy="778.73" r="1.5"/>
<circle cx="189.7" cy="780.95" r="1.5"/>
<circle cx="132.57" cy="757.41" r="1.5"/>
<circle cx="186.02" cy="771.39" r="1.5"/>
<circle cx="135.88" cy="758.94" r="1.5"/>
<circle cx="188.74" cy="770.97" r="1.5"/>
<circle cx="198.18" cy="777.36" r="1.5"/>
<circle cx="194.27" cy="775.83" r="1.5"/>
<circle cx="164.71" cy="764.78" r="1.5"/>
<circle cx="175.08" cy="768.78" r="1.5"/>
<circle cx="201.46" cy="777.79" r="1.5"/>
<circle cx="192.97" cy="774.72" r="1.5"/>
<circle cx="183.55" cy="770.93" r="1.5"/>
<circle cx="152.37" cy="764.56" r="1.5"/>
<circle cx="138.23" cy="760.26" r="1.5"/>
<circle cx="133.09" cy="756.39" r="1.5"/>
<circle cx="173.17" cy="763.29" r="1.5"/>
<circle cx="153.14" cy="764.53" r="1.5"/>
<circle cx="159.87" cy="771.68" r="1.5"/>
<circle cx="158.78" cy="762.17" r="1.5"/>
<circle cx="162.89" cy="763.79" r="1.5"/>
<circle cx="146.01" cy="757.9" r="1.5"/>
<circle cx="192.16" cy="779.99" r="1.5"/>
<circle cx="167.07" cy="772.24" r="1.5"/>
<circle cx="154.74" cy="768.8" r="1.5"/>
<circle cx="160.06" cy="766.95" r="1.5"/>
<circle cx="133.25" cy="757.57" r="1.5"/>
<circle cx="176.2" cy="770.95" r="1.5"/>
<circle cx="166.66" cy="771.33" r="1.5"/>
<circle cx="189.53" cy="774.74" r="1.5"/>
<circle cx="146.13" cy="758.59" r="1.5"/>
<circle cx="168.08" cy="767.43" r="1.5"/>
<circle cx="181.94" cy="768.13" r="1.5"/>
<circle cx="186.57" cy="772.27" r="1.5"/>
<circle cx="137.96" cy="755.47" r="1.5"/>
<circle cx="154.02" cy="765.73" r="1.5"/>
<circle cx="143.55" cy="752.31" r="1.5"/>
<circle cx="157.01" cy="759.49" r="1.5"/>
<circle cx="136.79" cy="756.6" r="1.5"/>
<circle cx="135.97" cy="752.09" r="1.5"/>
<circle cx="145.15" cy="763.48" r="1.5"/>
<circle cx="143.65" cy="765.55" r="1.5"/>
<circle cx="150.03" cy="755.75" r="1.5"/>
<circle cx="180.05" cy="767.05" r="1.5"/>
<circle cx="160.69" cy="770.86" r="1.5"/>
<circle cx="150.03" cy="767.33" r="1.5"/>
<circle cx="158.87" cy="762.62" r="1.5"/>
<circle cx="141.61" cy="762.98" r="1.5"/>
<circle cx="164.17" cy="761.88" r="1.5"/>
<circle cx="174.13" cy="766.76" r="1.5"/>
<circle cx="190.78" cy="774.28" r="1.5"/>
<circle cx="152.03" cy="764.13" r="1.5"/>
<circle cx="180.89" cy="771.11" r="1.5"/>
<circle cx="165.36" cy="771.01" r="1.5"/>
<circle cx="144.9" cy="753.82" r="1.5"/>
<circle cx="160.91" cy="768.6" r="1.5"/>
<circle cx="143" cy="763.81" r="1.5"/>
<circle cx="167.82" cy="766.26" r="1.5"/>
<circle cx="137.75" cy="762.81" r="1.5"/>
</g>
<path d="M190,771 L218,777 L244,783 L254,788 L224,785 L198,778Z" fill="#76B7B2"/>
<g fill="none" stroke="#76B7B2" stroke-width="1.1">
<circle cx="203.15" cy="775.28" r="1.5"/>
<circle cx="207.23" cy="782.67" r="1.5"/>
<circle cx="187.95" cy="773.28" r="1.5"/>
<circle cx="209.32" cy="779.91" r="1.5"/>
<circle cx="218.39" cy="777" r="1.5"/>
<circle cx="230.1" cy="779.22" r="1.5"/>
<circle cx="185.01" cy="769.33" r="1.5"/>
<circle cx="246.79" cy="788.28" r="1.5"/>
<circle cx="227.02" cy="779.09" r="1.5"/>
<circle cx="219.79" cy="774.86" r="1.5"/>
<circle cx="234.35" cy="778.69" r="1.5"/>
<circle cx="195.32" cy="769.51" r="1.5"/>
<circle cx="236.75" cy="780.06" r="1.5"/>
<circle cx="208.09" cy="782.72" r="1.5"/>
<circle cx="182.44" cy="774.17" r="1.5"/>
<circle cx="193.49" cy="771.61" r="1.5"/>
<circle cx="222.47" cy="777.19" r="1.5"/>
<circle cx="225.74" cy="782.59" r="1.5"/>
<circle cx="249.76" cy="789.54" r="1.5"/>
<circle cx="211.94" cy="778.1" r="1.5"/>
<circle cx="197.89" cy="774.8" r="1.5"/>
<circle cx="195.33" cy="777.01" r="1.5"/>
<circle cx="256" cy="787.2" r="1.5"/>
<circle cx="202.48" cy="778.62" r="1.5"/>
<circle cx="182.19" cy="775.45" r="1.5"/>
<circle cx="182.67" cy="771.81" r="1.5"/>
<circle cx="182.28" cy="770.7" r="1.5"/>
<circle cx="191.46" cy="772.7" r="1.5"/>
<circle cx="213.68" cy="780.83" r="1.5"/>
<circle cx="250.29" cy="785.87" r="1.5"/>
<circle cx="220.49" cy="783.49" r="1.5"/>
<circle cx="201.14" cy="770.33" r="1.5"/>
<circle cx="223.88" cy="775.85" r="1.5"/>
<circle cx="198.56" cy="774.95" r="1.5"/>
<circle cx="234.98" cy="781.6" r="1.5"/>
<circle cx="216.87" cy="779.36" r="1.5"/>
<circle cx="199.8" cy="780.26" r="1.5"/>
<circle cx="231.29" cy="778.22" r="1.5"/>
<circle cx="194.77" cy="775.99" r="1.5"/>
<circle cx="179.41" cy="769.65" r="1.5"/>
<circle cx="250.92" cy="788.62" r="1.5"/>
<circle cx="204.87" cy="772.12" r="1.5"/>
<circle cx="205.44" cy="774.09" r="1.5"/>
<circle cx="208.48" cy="783.21" r="1.5"/>
<circle cx="239.38" cy="788.11" r="1.5"/>
<circle cx="227.17" cy="786.34" r="1.5"/>
<circle cx="191.53" cy="772.99" r="1.5"/>
<circle cx="186.26" cy="773.52" r="1.5"/>
<circle cx="231.56" cy="784.55" r="1.5"/>
<circle cx="213.82" cy="780.04" r="1.5"/>
<circle cx="229.3" cy="783.2" r="1.5"/>
<circle cx="212.16" cy="775.88" r="1.5"/>
<circle cx="219.63" cy="780.85" r="1.5"/>
<circle cx="188.59" cy="778.08" r="1.5"/>
<circle cx="218.02" cy="784.95" r="1.5"/>
<circle cx="235.86" cy="781.78" r="1.5"/>
<circle cx="205.06" cy="774.67" r="1.5"/>
<circle cx="205.11" cy="774.18" r="1.5"/>
<circle cx="216.69" cy="781.92" r="1.5"/>
<circle cx="248.19" cy="783.31" r="1.5"/>
<circle cx="243.69" cy="788.44" r="1.5"/>
<circle cx="245.39" cy="788.84" r="1.5"/>
<circle cx="202.36" cy="782.11" r="1.5"/>
<circle cx="240.34" cy="786.58" r="1.5"/>
<circle cx="226.23" cy="787.76" r="1.5"/>
<circle cx="249.05" cy="785.42" r="1.5"/>
<circle cx="218.52" cy="776.58" r="1.5"/>
<circle cx="222.24" cy="783.06" r="1.5"/>
<circle cx="194.18" cy="768.4" r="1.5"/>
<circle cx="201.05" cy="770.72" r="1.5"/>
<circle cx="185.86" cy="772.56" r="1.5"/>
<circle cx="185.28" cy="774.63" r="1.5"/>
<circle cx="186.18" cy="771.2" r="1.5"/>
<circle cx="224.43" cy="776.16" r="1.5"/>
<circle cx="212.14" cy="773.37" r="1.5"/>
<circle cx="185.85" cy="772.78" r="1.5"/>
<circle cx="193.92" cy="776.11" r="1.5"/>
<circle cx="204.62" cy="774.64" r="1.5"/>
<circle cx="204.77" cy="780.83" r="1.5"/>
<circle cx="232.53" cy="786.41" r="1.5"/>
<circle cx="201.39" cy="774.64" r="1.5"/>
<circle cx="249.42" cy="788.14" r="1.5"/>
<circle cx="223.99" cy="782.56" r="1.5"/>
<circle cx="231.17" cy="777.84" r="1.5"/>
<circle cx="239.47" cy="781.44" r="1.5"/>
<circle cx="222.49" cy="786.45" r="1.5"/>
<circle cx="239.62" cy="787.39" r="1.5"/>
<circle cx="180.53" cy="769.91" r="1.5"/>
<circle cx="215.84" cy="780.95" r="1.5"/>
<circle cx="188.73" cy="773.19" r="1.5"/>
<circle cx="193.47" cy="769.25" r="1.5"/>
<circle cx="240.27" cy="786.52" r="1.5"/>
<circle cx="219.21" cy="775.66" r="1.5"/>
<circle cx="195.04" cy="773.66" r="1.5"/>
<circle cx="236.61" cy="785.83" r="1.5"/>
<circle cx="197.33" cy="779.05" r="1.5"/>
<circle cx="196.36" cy="776.39" r="1.5"/>
<circle cx="191.89" cy="770.6" r="1.5"/>
<circle cx="226.07" cy="780.11" r="1.5"/>
<circle cx="210.8" cy="780.08" r="1.5"/>
<circle cx="186.37" cy="775.21" r="1.5"/>
<circle cx="196.75" cy="769.22" r="1.5"/>
<circle cx="213.95" cy="775.25" r="1.5"/>
<circle cx="195.58" cy="774.78" r="1.5"/>
<circle cx="249.7" cy="788.64" r="1.5"/>
<circle cx="220.79" cy="781.75" r="1.5"/>
<circle cx="198.05" cy="769.56" r="1.5"/>
<circle cx="202.82" cy="779.97" r="1.5"/>
<circle cx="231.72" cy="781.4" r="1.5"/>
<circle cx="230.92" cy="787.43" r="1.5"/>
<circle cx="231.49" cy="782.59" r="1.5"/>
<circle cx="199.42" cy="775.5" r="1.5"/>
<circle cx="229.19" cy="779.47" r="1.5"/>
<circle cx="252.52" cy="788.68" r="1.5"/>
<circle cx="239.68" cy="782.21" r="1.5"/>
<circle cx="200.93" cy="771.47" r="1.5"/>
<circle cx="207.49" cy="778.42" r="1.5"/>
<circle cx="182.06" cy="775.15" r="1.5"/>
<circle cx="247.69" cy="783.67" r="1.5"/>
<circle cx="211.24" cy="775.5" r="1.5"/>
<circle cx="210.25" cy="774.77" r="1.5"/>
<circle cx="223.83" cy="784.01" r="1.5"/>
<circle cx="200.06" cy="771.82" r="1.5"/>
<circle cx="220.75" cy="777.94" r="1.5"/>
<circle cx="221.2" cy="783.19" r="1.5"/>
<circle cx="233.57" cy="787.56" r="1.5"/>
<circle cx="218.69" cy="778.32" r="1.5"/>
<circle cx="200.86" cy="775.19" r="1.5"/>
<circle cx="230.63" cy="781.36" r="1.5"/>
<circle cx="198.69" cy="771.61" r="1.5"/>
<circle cx="189.05" cy="776.59" r="1.5"/>
<circle cx="239.56" cy="786.57" r="1.5"/>
<circle cx="192.78" cy="777.93" r="1.5"/>
<circle cx="187.84" cy="773.02" r="1.5"/>
<circle cx="243.23" cy="783.97" r="1.5"/>
<circle cx="186.56" cy="774.36" r="1.5"/>
<circle cx="213.65" cy="777.34" r="1.5"/>
<circle cx="191.78" cy="773.9" r="1.5"/>
<circle cx="198.65" cy="779.99" r="1.5"/>
<circle cx="204.91" cy="780.57" r="1.5"/>
<circle cx="193.56" cy="769.3" r="1.5"/>
<circle cx="218.73" cy="777.36" r="1.5"/>
<circle cx="222.65" cy="776.56" r="1.5"/>
<circle cx="207.16" cy="780.05" r="1.5"/>
<circle cx="197.8" cy="771.71" r="1.5"/>
<circle cx="220.09" cy="786.19" r="1.5"/>
<circle cx="197.29" cy="774.94" r="1.5"/>
<circle cx="225.41" cy="781.99" r="1.5"/>
<circle cx="206.23" cy="780.14" r="1.5"/>
<circle cx="228.41" cy="784.08" r="1.5"/>
</g>
<g fill="none" stroke="#76B7B2" stroke-width="1.1">
<circle cx="190" cy="762" r="1.5"/>
<circle cx="197" cy="764" r="1.5"/>
<circle cx="205" cy="765" r="1.5"/>
<circle cx="185" cy="765" r="1.5"/>
</g>
<circle cx="85" cy="715" r="2.1" fill="#0B1E4F"/>
<rect x="111.38" y="753.68" width="3.24" height="3.24" fill="#0B1E4F"/>
<path d="M116.5,761.44 L120.1,761.44 L118.3,758.2 Z" fill="#0B1E4F"/>
<path d="M120,762.04 L123.6,762.04 L121.8,758.8 Z" fill="#0B1E4F"/>
<rect x="143.16" y="760.86" width="2.88" height="2.88" fill="#0B1E4F"/>
<path d="M158.42,743.36 L162.38,743.36 L160.4,746.6 Z" fill="#0B1E4F"/>
<path d="M176,768.42 L177.98,770.4 L176,772.38 L174.02,770.4 Z" fill="#0B1E4F"/>
<path d="M181.4,770.92 L183.38,772.9 L181.4,774.88 L179.42,772.9 Z" fill="#0B1E4F"/>
</g>
</svg></body></html>
